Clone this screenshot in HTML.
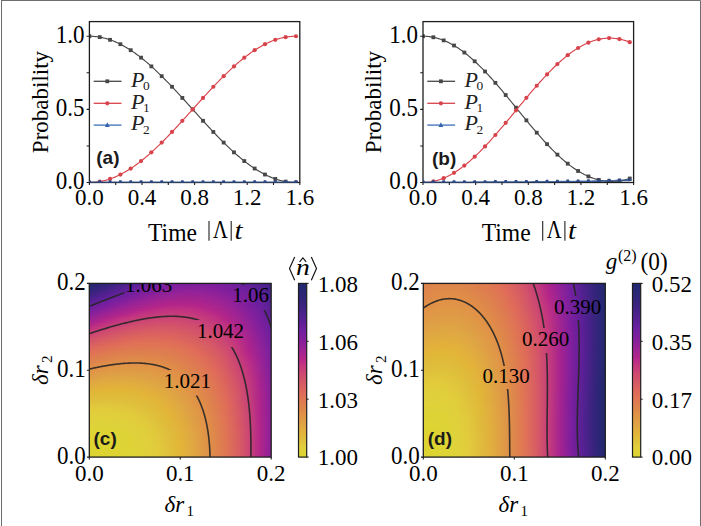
<!DOCTYPE html><html><head><meta charset="utf-8"><style>html,body{margin:0;padding:0;background:#fff;overflow:hidden}svg{display:block}</style></head><body><svg width="701" height="526" viewBox="0 0 701 526">
<style>
.tk{font-family:'Liberation Serif', serif;font-size:23px;fill:#000;}
.lg{font-family:'Liberation Serif', serif;font-size:20px;fill:#222;}
.pl{font-family:'Liberation Sans', sans-serif;font-size:19px;font-weight:bold;fill:#1a1a1a;}
.cl{font-family:'Liberation Serif', serif;font-size:21px;fill:#000;}
</style>
<rect width="701" height="526" fill="#fff"/>
<path d="M2,0.5H700.5V526 M1.5,0V526" stroke="#6e6e6e" stroke-width="1" fill="none"/>
<clipPath id="clip89"><rect x="89.4" y="21.6" width="210.4" height="160.9"/></clipPath>
<clipPath id="clip89b"><rect x="89.4" y="21.6" width="210.4" height="161.70000000000002"/></clipPath>
<g clip-path="url(#clip89)">
<polyline points="89.40,182.50 90.70,182.50 92.00,182.50 93.30,182.50 94.60,182.50 95.90,182.50 97.19,182.50 98.49,182.50 99.79,182.50 101.09,182.50 102.39,182.50 103.69,182.50 104.99,182.50 106.29,182.50 107.59,182.50 108.89,182.50 110.19,182.50 111.49,182.50 112.78,182.50 114.08,182.50 115.38,182.50 116.68,182.50 117.98,182.50 119.28,182.50 120.58,182.50 121.88,182.50 123.18,182.50 124.48,182.50 125.78,182.50 127.07,182.50 128.37,182.50 129.67,182.50 130.97,182.50 132.27,182.50 133.57,182.50 134.87,182.50 136.17,182.50 137.47,182.50 138.77,182.50 140.07,182.50 141.36,182.50 142.66,182.50 143.96,182.50 145.26,182.50 146.56,182.50 147.86,182.50 149.16,182.50 150.46,182.50 151.76,182.50 153.06,182.50 154.36,182.50 155.66,182.50 156.95,182.50 158.25,182.50 159.55,182.50 160.85,182.50 162.15,182.50 163.45,182.50 164.75,182.50 166.05,182.50 167.35,182.50 168.65,182.50 169.95,182.50 171.24,182.50 172.54,182.50 173.84,182.50 175.14,182.50 176.44,182.50 177.74,182.50 179.04,182.50 180.34,182.50 181.64,182.50 182.94,182.50 184.24,182.50 185.53,182.50 186.83,182.50 188.13,182.50 189.43,182.50 190.73,182.50 192.03,182.50 193.33,182.50 194.63,182.50 195.93,182.50 197.23,182.50 198.53,182.50 199.83,182.50 201.12,182.50 202.42,182.50 203.72,182.50 205.02,182.50 206.32,182.50 207.62,182.50 208.92,182.50 210.22,182.50 211.52,182.50 212.82,182.50 214.12,182.50 215.41,182.50 216.71,182.50 218.01,182.50 219.31,182.50 220.61,182.50 221.91,182.50 223.21,182.50 224.51,182.50 225.81,182.50 227.11,182.50 228.41,182.50 229.70,182.50 231.00,182.50 232.30,182.50 233.60,182.50 234.90,182.50 236.20,182.50 237.50,182.50 238.80,182.50 240.10,182.50 241.40,182.50 242.70,182.50 244.00,182.50 245.29,182.50 246.59,182.50 247.89,182.50 249.19,182.50 250.49,182.50 251.79,182.50 253.09,182.50 254.39,182.50 255.69,182.50 256.99,182.50 258.29,182.50 259.58,182.50 260.88,182.50 262.18,182.50 263.48,182.50 264.78,182.50 266.08,182.50 267.38,182.50 268.68,182.50 269.98,182.50 271.28,182.50 272.58,182.50 273.87,182.50 275.17,182.50 276.47,182.50 277.77,182.50 279.07,182.50 280.37,182.50 281.67,182.50 282.97,182.50 284.27,182.50 285.57,182.50 286.87,182.50 288.17,182.50 289.46,182.50 290.76,182.50 292.06,182.50 293.36,182.50 294.66,182.50 295.96,182.50" fill="none" stroke="#3f70b8" stroke-width="1.15"/>
<polyline points="89.40,36.23 90.70,36.24 92.00,36.28 93.30,36.36 94.60,36.46 95.90,36.58 97.19,36.74 98.49,36.93 99.79,37.14 101.09,37.38 102.39,37.65 103.69,37.95 104.99,38.27 106.29,38.63 107.59,39.01 108.89,39.42 110.19,39.85 111.49,40.31 112.78,40.80 114.08,41.32 115.38,41.86 116.68,42.43 117.98,43.03 119.28,43.65 120.58,44.30 121.88,44.97 123.18,45.67 124.48,46.39 125.78,47.14 127.07,47.91 128.37,48.70 129.67,49.52 130.97,50.37 132.27,51.23 133.57,52.12 134.87,53.03 136.17,53.96 137.47,54.92 138.77,55.89 140.07,56.89 141.36,57.90 142.66,58.94 143.96,60.00 145.26,61.07 146.56,62.17 147.86,63.28 149.16,64.41 150.46,65.56 151.76,66.73 153.06,67.91 154.36,69.11 155.66,70.32 156.95,71.55 158.25,72.80 159.55,74.05 160.85,75.33 162.15,76.61 163.45,77.91 164.75,79.22 166.05,80.54 167.35,81.88 168.65,83.22 169.95,84.58 171.24,85.94 172.54,87.31 173.84,88.70 175.14,90.09 176.44,91.48 177.74,92.89 179.04,94.30 180.34,95.72 181.64,97.14 182.94,98.57 184.24,100.00 185.53,101.43 186.83,102.87 188.13,104.31 189.43,105.75 190.73,107.20 192.03,108.64 193.33,110.09 194.63,111.53 195.93,112.97 197.23,114.42 198.53,115.86 199.83,117.30 201.12,118.73 202.42,120.16 203.72,121.59 205.02,123.01 206.32,124.43 207.62,125.84 208.92,127.24 210.22,128.64 211.52,130.03 212.82,131.41 214.12,132.79 215.41,134.15 216.71,135.51 218.01,136.85 219.31,138.18 220.61,139.51 221.91,140.82 223.21,142.12 224.51,143.40 225.81,144.67 227.11,145.93 228.41,147.18 229.70,148.41 231.00,149.62 232.30,150.82 233.60,152.00 234.90,153.17 236.20,154.31 237.50,155.45 238.80,156.56 240.10,157.65 241.40,158.73 242.70,159.79 244.00,160.82 245.29,161.84 246.59,162.84 247.89,163.81 249.19,164.77 250.49,165.70 251.79,166.61 253.09,167.50 254.39,168.36 255.69,169.20 256.99,170.02 258.29,170.82 259.58,171.59 260.88,172.34 262.18,173.06 263.48,173.76 264.78,174.43 266.08,175.08 267.38,175.70 268.68,176.29 269.98,176.86 271.28,177.41 272.58,177.92 273.87,178.41 275.17,178.88 276.47,179.31 277.77,179.72 279.07,180.10 280.37,180.45 281.67,180.78 282.97,181.08 284.27,181.35 285.57,181.59 286.87,181.80 288.17,181.99 289.46,182.14 290.76,182.27 292.06,182.37 293.36,182.44 294.66,182.49 295.96,182.50" fill="none" stroke="#474747" stroke-width="1.15"/>
<rect x="87.50" y="34.33" width="3.8" height="3.8" fill="#474747"/>
<rect x="97.83" y="35.23" width="3.8" height="3.8" fill="#474747"/>
<rect x="108.16" y="37.91" width="3.8" height="3.8" fill="#474747"/>
<rect x="118.48" y="42.30" width="3.8" height="3.8" fill="#474747"/>
<rect x="128.81" y="48.30" width="3.8" height="3.8" fill="#474747"/>
<rect x="139.14" y="55.75" width="3.8" height="3.8" fill="#474747"/>
<rect x="149.47" y="64.48" width="3.8" height="3.8" fill="#474747"/>
<rect x="159.80" y="74.26" width="3.8" height="3.8" fill="#474747"/>
<rect x="170.12" y="84.86" width="3.8" height="3.8" fill="#474747"/>
<rect x="180.45" y="96.02" width="3.8" height="3.8" fill="#474747"/>
<rect x="190.78" y="107.46" width="3.8" height="3.8" fill="#474747"/>
<rect x="201.11" y="118.90" width="3.8" height="3.8" fill="#474747"/>
<rect x="211.44" y="130.06" width="3.8" height="3.8" fill="#474747"/>
<rect x="221.76" y="140.67" width="3.8" height="3.8" fill="#474747"/>
<rect x="232.09" y="150.45" width="3.8" height="3.8" fill="#474747"/>
<rect x="242.42" y="159.18" width="3.8" height="3.8" fill="#474747"/>
<rect x="252.75" y="166.63" width="3.8" height="3.8" fill="#474747"/>
<rect x="263.08" y="172.63" width="3.8" height="3.8" fill="#474747"/>
<rect x="273.40" y="177.02" width="3.8" height="3.8" fill="#474747"/>
<rect x="283.73" y="179.70" width="3.8" height="3.8" fill="#474747"/>
<rect x="294.06" y="180.60" width="3.8" height="3.8" fill="#474747"/>
<polyline points="89.40,182.50 90.70,182.49 92.00,182.44 93.30,182.37 94.60,182.27 95.90,182.14 97.19,181.99 98.49,181.80 99.79,181.59 101.09,181.35 102.39,181.08 103.69,180.78 104.99,180.45 106.29,180.10 107.59,179.72 108.89,179.31 110.19,178.88 111.49,178.41 112.78,177.92 114.08,177.41 115.38,176.86 116.68,176.29 117.98,175.70 119.28,175.08 120.58,174.43 121.88,173.76 123.18,173.06 124.48,172.34 125.78,171.59 127.07,170.82 128.37,170.02 129.67,169.20 130.97,168.36 132.27,167.50 133.57,166.61 134.87,165.70 136.17,164.77 137.47,163.81 138.77,162.84 140.07,161.84 141.36,160.82 142.66,159.79 143.96,158.73 145.26,157.65 146.56,156.56 147.86,155.45 149.16,154.31 150.46,153.17 151.76,152.00 153.06,150.82 154.36,149.62 155.66,148.41 156.95,147.18 158.25,145.93 159.55,144.67 160.85,143.40 162.15,142.12 163.45,140.82 164.75,139.51 166.05,138.18 167.35,136.85 168.65,135.51 169.95,134.15 171.24,132.79 172.54,131.41 173.84,130.03 175.14,128.64 176.44,127.24 177.74,125.84 179.04,124.43 180.34,123.01 181.64,121.59 182.94,120.16 184.24,118.73 185.53,117.30 186.83,115.86 188.13,114.42 189.43,112.97 190.73,111.53 192.03,110.09 193.33,108.64 194.63,107.20 195.93,105.75 197.23,104.31 198.53,102.87 199.83,101.43 201.12,100.00 202.42,98.57 203.72,97.14 205.02,95.72 206.32,94.30 207.62,92.89 208.92,91.48 210.22,90.09 211.52,88.70 212.82,87.31 214.12,85.94 215.41,84.58 216.71,83.22 218.01,81.88 219.31,80.54 220.61,79.22 221.91,77.91 223.21,76.61 224.51,75.33 225.81,74.05 227.11,72.80 228.41,71.55 229.70,70.32 231.00,69.11 232.30,67.91 233.60,66.73 234.90,65.56 236.20,64.41 237.50,63.28 238.80,62.17 240.10,61.07 241.40,60.00 242.70,58.94 244.00,57.90 245.29,56.89 246.59,55.89 247.89,54.92 249.19,53.96 250.49,53.03 251.79,52.12 253.09,51.23 254.39,50.37 255.69,49.52 256.99,48.70 258.29,47.91 259.58,47.14 260.88,46.39 262.18,45.67 263.48,44.97 264.78,44.30 266.08,43.65 267.38,43.03 268.68,42.43 269.98,41.86 271.28,41.32 272.58,40.80 273.87,40.31 275.17,39.85 276.47,39.42 277.77,39.01 279.07,38.63 280.37,38.27 281.67,37.95 282.97,37.65 284.27,37.38 285.57,37.14 286.87,36.93 288.17,36.74 289.46,36.58 290.76,36.46 292.06,36.36 293.36,36.28 294.66,36.24 295.96,36.23" fill="none" stroke="#d8434b" stroke-width="1.15"/>
<circle cx="89.40" cy="182.50" r="2.1" fill="#d8434b"/>
<circle cx="99.73" cy="181.60" r="2.1" fill="#d8434b"/>
<circle cx="110.06" cy="178.92" r="2.1" fill="#d8434b"/>
<circle cx="120.38" cy="174.53" r="2.1" fill="#d8434b"/>
<circle cx="130.71" cy="168.53" r="2.1" fill="#d8434b"/>
<circle cx="141.04" cy="161.08" r="2.1" fill="#d8434b"/>
<circle cx="151.37" cy="152.35" r="2.1" fill="#d8434b"/>
<circle cx="161.70" cy="142.57" r="2.1" fill="#d8434b"/>
<circle cx="172.02" cy="131.96" r="2.1" fill="#d8434b"/>
<circle cx="182.35" cy="120.80" r="2.1" fill="#d8434b"/>
<circle cx="192.68" cy="109.36" r="2.1" fill="#d8434b"/>
<circle cx="203.01" cy="97.92" r="2.1" fill="#d8434b"/>
<circle cx="213.34" cy="86.76" r="2.1" fill="#d8434b"/>
<circle cx="223.66" cy="76.16" r="2.1" fill="#d8434b"/>
<circle cx="233.99" cy="66.38" r="2.1" fill="#d8434b"/>
<circle cx="244.32" cy="57.65" r="2.1" fill="#d8434b"/>
<circle cx="254.65" cy="50.20" r="2.1" fill="#d8434b"/>
<circle cx="264.98" cy="44.20" r="2.1" fill="#d8434b"/>
<circle cx="275.30" cy="39.81" r="2.1" fill="#d8434b"/>
<circle cx="285.63" cy="37.13" r="2.1" fill="#d8434b"/>
<circle cx="295.96" cy="36.23" r="2.1" fill="#d8434b"/>
</g>
<rect x="89.4" y="21.6" width="210.4" height="160.9" fill="none" stroke="#1e1e1e" stroke-width="1.3"/>
<g clip-path="url(#clip89b)"><polyline points="89.40,182.10 90.70,182.10 92.00,182.10 93.30,182.10 94.60,182.10 95.90,182.10 97.19,182.10 98.49,182.10 99.79,182.10 101.09,182.10 102.39,182.10 103.69,182.10 104.99,182.10 106.29,182.10 107.59,182.10 108.89,182.10 110.19,182.10 111.49,182.10 112.78,182.10 114.08,182.10 115.38,182.10 116.68,182.10 117.98,182.10 119.28,182.10 120.58,182.10 121.88,182.10 123.18,182.10 124.48,182.10 125.78,182.10 127.07,182.10 128.37,182.10 129.67,182.10 130.97,182.10 132.27,182.10 133.57,182.10 134.87,182.10 136.17,182.10 137.47,182.10 138.77,182.10 140.07,182.10 141.36,182.10 142.66,182.10 143.96,182.10 145.26,182.10 146.56,182.10 147.86,182.10 149.16,182.10 150.46,182.10 151.76,182.10 153.06,182.10 154.36,182.10 155.66,182.10 156.95,182.10 158.25,182.10 159.55,182.10 160.85,182.10 162.15,182.10 163.45,182.10 164.75,182.10 166.05,182.10 167.35,182.10 168.65,182.10 169.95,182.10 171.24,182.10 172.54,182.10 173.84,182.10 175.14,182.10 176.44,182.10 177.74,182.10 179.04,182.10 180.34,182.10 181.64,182.10 182.94,182.10 184.24,182.10 185.53,182.10 186.83,182.10 188.13,182.10 189.43,182.10 190.73,182.10 192.03,182.10 193.33,182.10 194.63,182.10 195.93,182.10 197.23,182.10 198.53,182.10 199.83,182.10 201.12,182.10 202.42,182.10 203.72,182.10 205.02,182.10 206.32,182.10 207.62,182.10 208.92,182.10 210.22,182.10 211.52,182.10 212.82,182.10 214.12,182.10 215.41,182.10 216.71,182.10 218.01,182.10 219.31,182.10 220.61,182.10 221.91,182.10 223.21,182.10 224.51,182.10 225.81,182.10 227.11,182.10 228.41,182.10 229.70,182.10 231.00,182.10 232.30,182.10 233.60,182.10 234.90,182.10 236.20,182.10 237.50,182.10 238.80,182.10 240.10,182.10 241.40,182.10 242.70,182.10 244.00,182.10 245.29,182.10 246.59,182.10 247.89,182.10 249.19,182.10 250.49,182.10 251.79,182.10 253.09,182.10 254.39,182.10 255.69,182.10 256.99,182.10 258.29,182.10 259.58,182.10 260.88,182.10 262.18,182.10 263.48,182.10 264.78,182.10 266.08,182.10 267.38,182.10 268.68,182.10 269.98,182.10 271.28,182.10 272.58,182.10 273.87,182.10 275.17,182.10 276.47,182.10 277.77,182.10 279.07,182.10 280.37,182.10 281.67,182.10 282.97,182.10 284.27,182.10 285.57,182.10 286.87,182.10 288.17,182.10 289.46,182.10 290.76,182.10 292.06,182.10 293.36,182.10 294.66,182.10 295.96,182.10" fill="none" stroke="#34589c" stroke-opacity="0.75" stroke-width="1.4"/>
<path d="M87.50,182.80L91.30,182.80L90.60,180.20L88.20,180.20Z" fill="#2e4a86"/>
<path d="M97.83,182.80L101.63,182.80L100.93,180.20L98.53,180.20Z" fill="#2e4a86"/>
<path d="M108.16,182.80L111.96,182.80L111.26,180.20L108.86,180.20Z" fill="#2e4a86"/>
<path d="M118.48,182.80L122.28,182.80L121.58,180.20L119.18,180.20Z" fill="#2e4a86"/>
<path d="M128.81,182.80L132.61,182.80L131.91,180.20L129.51,180.20Z" fill="#2e4a86"/>
<path d="M139.14,182.80L142.94,182.80L142.24,180.20L139.84,180.20Z" fill="#2e4a86"/>
<path d="M149.47,182.80L153.27,182.80L152.57,180.20L150.17,180.20Z" fill="#2e4a86"/>
<path d="M159.80,182.80L163.60,182.80L162.90,180.20L160.50,180.20Z" fill="#2e4a86"/>
<path d="M170.12,182.80L173.92,182.80L173.22,180.20L170.82,180.20Z" fill="#2e4a86"/>
<path d="M180.45,182.80L184.25,182.80L183.55,180.20L181.15,180.20Z" fill="#2e4a86"/>
<path d="M190.78,182.80L194.58,182.80L193.88,180.20L191.48,180.20Z" fill="#2e4a86"/>
<path d="M201.11,182.80L204.91,182.80L204.21,180.20L201.81,180.20Z" fill="#2e4a86"/>
<path d="M211.44,182.80L215.24,182.80L214.54,180.20L212.14,180.20Z" fill="#2e4a86"/>
<path d="M221.76,182.80L225.56,182.80L224.86,180.20L222.46,180.20Z" fill="#2e4a86"/>
<path d="M232.09,182.80L235.89,182.80L235.19,180.20L232.79,180.20Z" fill="#2e4a86"/>
<path d="M242.42,182.80L246.22,182.80L245.52,180.20L243.12,180.20Z" fill="#2e4a86"/>
<path d="M252.75,182.80L256.55,182.80L255.85,180.20L253.45,180.20Z" fill="#2e4a86"/>
<path d="M263.08,182.80L266.88,182.80L266.18,180.20L263.78,180.20Z" fill="#2e4a86"/>
<path d="M273.40,182.80L277.20,182.80L276.50,180.20L274.10,180.20Z" fill="#2e4a86"/>
<path d="M283.73,182.80L287.53,182.80L286.83,180.20L284.43,180.20Z" fill="#2e4a86"/>
<path d="M294.06,182.80L297.86,182.80L297.16,180.20L294.76,180.20Z" fill="#2e4a86"/>
</g>
<path d="M89.40,182.50v2.6 M115.70,182.50v2.6 M142.00,182.50v2.6 M168.30,182.50v2.6 M194.60,182.50v2.6 M220.90,182.50v2.6 M247.20,182.50v2.6 M273.50,182.50v2.6 M299.80,182.50v2.6 M89.40,182.50h-2.8 M89.40,145.93h-2.8 M89.40,109.36h-2.8 M89.40,72.80h-2.8 M89.40,36.23h-2.8" stroke="#1e1e1e" stroke-width="1.1" fill="none"/>
<text transform="translate(89.40,205.00) scale(1,1.03)" text-anchor="middle" class="tk">0.0</text>
<text transform="translate(142.00,205.00) scale(1,1.03)" text-anchor="middle" class="tk">0.4</text>
<text transform="translate(194.60,205.00) scale(1,1.03)" text-anchor="middle" class="tk">0.8</text>
<text transform="translate(247.20,205.00) scale(1,1.03)" text-anchor="middle" class="tk">1.2</text>
<text transform="translate(299.80,205.00) scale(1,1.03)" text-anchor="middle" class="tk">1.6</text>
<text transform="translate(84.40,189.20) scale(1,1.05)" text-anchor="end" class="tk">0.0</text>
<text transform="translate(84.40,116.06) scale(1,1.05)" text-anchor="end" class="tk">0.5</text>
<text transform="translate(84.40,42.93) scale(1,1.05)" text-anchor="end" class="tk">1.0</text>
<text transform="translate(148.00,240.60) scale(1,1.05)" class="tk" style="font-size:23.6px">Time</text>
<path d="M209.00,221V240.7M231.20,221V240.7" stroke="#222" stroke-width="1.1"/>
<text transform="translate(213.10,238.3) scale(0.85,1.04)" class="tk" style="font-size:24px">Λ</text>
<text transform="translate(234.40,238.6) scale(1.25,1.08)" class="tk" style="font-style:italic">t</text>
<text transform="translate(47.80,102.05) rotate(-90)" text-anchor="middle" class="tk">Probability</text>
<line x1="93.70" y1="81.3" x2="121.50" y2="81.3" stroke="#474747" stroke-width="1.3"/>
<rect x="105.40" y="79.40" width="3.8" height="3.8" fill="#474747"/>
<text transform="translate(131.00,86.60) scale(1.1,1.03)" class="lg"><tspan font-style="italic">P</tspan><tspan font-size="12.2" dx="-1.3" dy="3.1">0</tspan></text>
<line x1="93.70" y1="103.3" x2="121.50" y2="103.3" stroke="#d8434b" stroke-width="1.3"/>
<circle cx="107.30" cy="103.30" r="2.1" fill="#d8434b"/>
<text transform="translate(131.00,108.60) scale(1.1,1.03)" class="lg"><tspan font-style="italic">P</tspan><tspan font-size="12.2" dx="-1.3" dy="3.1">1</tspan></text>
<line x1="93.70" y1="125.1" x2="121.50" y2="125.1" stroke="#3f70b8" stroke-width="1.3"/>
<path d="M104.90,127.00L109.70,127.00L107.30,122.20Z" fill="#3563ad"/>
<text transform="translate(131.00,130.40) scale(1.1,1.03)" class="lg"><tspan font-style="italic">P</tspan><tspan font-size="12.2" dx="-1.3" dy="3.1">2</tspan></text>
<text x="96.3" y="163.9" class="pl">(a)</text>
<clipPath id="clip423"><rect x="423.0" y="21.6" width="210.60000000000002" height="160.9"/></clipPath>
<clipPath id="clip423b"><rect x="423.0" y="21.6" width="210.60000000000002" height="161.70000000000002"/></clipPath>
<g clip-path="url(#clip423)">
<polyline points="423.00,182.50 424.30,182.50 425.60,182.50 426.90,182.50 428.20,182.50 429.50,182.50 430.80,182.50 432.10,182.50 433.40,182.50 434.70,182.50 436.00,182.50 437.30,182.50 438.60,182.50 439.90,182.50 441.20,182.50 442.51,182.50 443.81,182.50 445.11,182.50 446.41,182.50 447.71,182.50 449.01,182.50 450.31,182.50 451.61,182.49 452.91,182.49 454.21,182.49 455.51,182.49 456.81,182.49 458.11,182.49 459.41,182.49 460.71,182.49 462.01,182.49 463.31,182.49 464.61,182.48 465.91,182.48 467.21,182.48 468.51,182.48 469.81,182.48 471.11,182.48 472.41,182.47 473.71,182.47 475.01,182.47 476.31,182.47 477.61,182.46 478.92,182.46 480.22,182.46 481.52,182.46 482.82,182.45 484.12,182.45 485.42,182.45 486.72,182.44 488.02,182.44 489.32,182.44 490.62,182.43 491.92,182.43 493.22,182.43 494.52,182.42 495.82,182.42 497.12,182.41 498.42,182.41 499.72,182.40 501.02,182.40 502.32,182.39 503.62,182.39 504.92,182.38 506.22,182.38 507.52,182.37 508.82,182.36 510.12,182.36 511.42,182.35 512.72,182.34 514.02,182.34 515.33,182.33 516.63,182.32 517.93,182.32 519.23,182.31 520.53,182.30 521.83,182.29 523.13,182.28 524.43,182.28 525.73,182.27 527.03,182.26 528.33,182.25 529.63,182.24 530.93,182.23 532.23,182.22 533.53,182.21 534.83,182.20 536.13,182.19 537.43,182.18 538.73,182.17 540.03,182.16 541.33,182.14 542.63,182.13 543.93,182.12 545.23,182.11 546.53,182.09 547.83,182.08 549.13,182.07 550.43,182.05 551.73,182.04 553.04,182.03 554.34,182.01 555.64,182.00 556.94,181.98 558.24,181.97 559.54,181.95 560.84,181.94 562.14,181.92 563.44,181.90 564.74,181.89 566.04,181.87 567.34,181.85 568.64,181.84 569.94,181.82 571.24,181.80 572.54,181.78 573.84,181.76 575.14,181.74 576.44,181.72 577.74,181.70 579.04,181.68 580.34,181.66 581.64,181.64 582.94,181.62 584.24,181.60 585.54,181.58 586.84,181.55 588.14,181.53 589.45,181.51 590.75,181.48 592.05,181.46 593.35,181.44 594.65,181.41 595.95,181.39 597.25,181.36 598.55,181.34 599.85,181.31 601.15,181.28 602.45,181.26 603.75,181.23 605.05,181.20 606.35,181.17 607.65,181.15 608.95,181.12 610.25,181.09 611.55,181.06 612.85,181.03 614.15,181.00 615.45,180.97 616.75,180.94 618.05,180.90 619.35,180.87 620.65,180.84 621.95,180.81 623.25,180.77 624.55,180.74 625.86,180.70 627.16,180.67 628.46,180.63 629.76,180.60" fill="none" stroke="#3f70b8" stroke-width="1.15"/>
<polyline points="423.00,36.23 424.30,36.24 425.60,36.29 426.90,36.37 428.20,36.49 429.50,36.64 430.80,36.82 432.10,37.03 433.40,37.28 434.70,37.56 436.00,37.87 437.30,38.21 438.60,38.59 439.90,39.00 441.20,39.45 442.51,39.92 443.81,40.43 445.11,40.97 446.41,41.54 447.71,42.14 449.01,42.78 450.31,43.44 451.61,44.14 452.91,44.86 454.21,45.62 455.51,46.41 456.81,47.23 458.11,48.07 459.41,48.95 460.71,49.85 462.01,50.79 463.31,51.75 464.61,52.73 465.91,53.75 467.21,54.79 468.51,55.86 469.81,56.95 471.11,58.07 472.41,59.22 473.71,60.38 475.01,61.58 476.31,62.79 477.61,64.03 478.92,65.29 480.22,66.57 481.52,67.87 482.82,69.19 484.12,70.53 485.42,71.89 486.72,73.27 488.02,74.67 489.32,76.08 490.62,77.51 491.92,78.95 493.22,80.41 494.52,81.89 495.82,83.37 497.12,84.88 498.42,86.39 499.72,87.91 501.02,89.44 502.32,90.99 503.62,92.54 504.92,94.10 506.22,95.67 507.52,97.25 508.82,98.83 510.12,100.41 511.42,102.00 512.72,103.60 514.02,105.19 515.33,106.79 516.63,108.39 517.93,109.99 519.23,111.59 520.53,113.19 521.83,114.79 523.13,116.38 524.43,117.97 525.73,119.55 527.03,121.13 528.33,122.70 529.63,124.27 530.93,125.83 532.23,127.38 533.53,128.92 534.83,130.45 536.13,131.97 537.43,133.48 538.73,134.98 540.03,136.46 541.33,137.93 542.63,139.38 543.93,140.82 545.23,142.24 546.53,143.65 547.83,145.04 549.13,146.41 550.43,147.76 551.73,149.10 553.04,150.41 554.34,151.70 555.64,152.97 556.94,154.22 558.24,155.45 559.54,156.65 560.84,157.83 562.14,158.98 563.44,160.11 564.74,161.22 566.04,162.30 567.34,163.35 568.64,164.38 569.94,165.38 571.24,166.35 572.54,167.29 573.84,168.20 575.14,169.09 576.44,169.95 577.74,170.77 579.04,171.57 580.34,172.34 581.64,173.08 582.94,173.78 584.24,174.46 585.54,175.10 586.84,175.72 588.14,176.30 589.45,176.85 590.75,177.37 592.05,177.85 593.35,178.31 594.65,178.73 595.95,179.12 597.25,179.48 598.55,179.81 599.85,180.10 601.15,180.37 602.45,180.60 603.75,180.80 605.05,180.97 606.35,181.11 607.65,181.21 608.95,181.29 610.25,181.33 611.55,181.34 612.85,181.33 614.15,181.28 615.45,181.20 616.75,181.10 618.05,180.96 619.35,180.80 620.65,180.61 621.95,180.39 623.25,180.14 624.55,179.87 625.86,179.56 627.16,179.24 628.46,178.89 629.76,178.51" fill="none" stroke="#474747" stroke-width="1.15"/>
<rect x="421.10" y="34.33" width="3.8" height="3.8" fill="#474747"/>
<rect x="431.44" y="35.37" width="3.8" height="3.8" fill="#474747"/>
<rect x="441.78" y="38.48" width="3.8" height="3.8" fill="#474747"/>
<rect x="452.11" y="43.61" width="3.8" height="3.8" fill="#474747"/>
<rect x="462.45" y="50.63" width="3.8" height="3.8" fill="#474747"/>
<rect x="472.79" y="59.38" width="3.8" height="3.8" fill="#474747"/>
<rect x="483.13" y="69.58" width="3.8" height="3.8" fill="#474747"/>
<rect x="493.46" y="80.95" width="3.8" height="3.8" fill="#474747"/>
<rect x="503.80" y="93.14" width="3.8" height="3.8" fill="#474747"/>
<rect x="514.14" y="105.77" width="3.8" height="3.8" fill="#474747"/>
<rect x="524.48" y="118.44" width="3.8" height="3.8" fill="#474747"/>
<rect x="534.82" y="130.75" width="3.8" height="3.8" fill="#474747"/>
<rect x="545.15" y="142.31" width="3.8" height="3.8" fill="#474747"/>
<rect x="555.49" y="152.75" width="3.8" height="3.8" fill="#474747"/>
<rect x="565.83" y="161.76" width="3.8" height="3.8" fill="#474747"/>
<rect x="576.17" y="169.08" width="3.8" height="3.8" fill="#474747"/>
<rect x="586.50" y="174.51" width="3.8" height="3.8" fill="#474747"/>
<rect x="596.84" y="177.96" width="3.8" height="3.8" fill="#474747"/>
<rect x="607.18" y="179.39" width="3.8" height="3.8" fill="#474747"/>
<rect x="617.52" y="178.89" width="3.8" height="3.8" fill="#474747"/>
<rect x="627.86" y="176.61" width="3.8" height="3.8" fill="#474747"/>
<polyline points="423.00,182.50 424.30,182.48 425.60,182.43 426.90,182.34 428.20,182.22 429.50,182.06 430.80,181.87 432.10,181.65 433.40,181.39 434.70,181.09 436.00,180.76 437.30,180.40 438.60,180.00 439.90,179.57 441.20,179.11 442.51,178.61 443.81,178.08 445.11,177.52 446.41,176.93 447.71,176.30 449.01,175.64 450.31,174.95 451.61,174.23 452.91,173.48 454.21,172.69 455.51,171.88 456.81,171.04 458.11,170.17 459.41,169.27 460.71,168.34 462.01,167.38 463.31,166.40 464.61,165.39 465.91,164.35 467.21,163.29 468.51,162.20 469.81,161.08 471.11,159.94 472.41,158.78 473.71,157.60 475.01,156.39 476.31,155.16 477.61,153.91 478.92,152.63 480.22,151.34 481.52,150.03 482.82,148.70 484.12,147.35 485.42,145.98 486.72,144.59 488.02,143.19 489.32,141.78 490.62,140.34 491.92,138.90 493.22,137.44 494.52,135.97 495.82,134.48 497.12,132.98 498.42,131.48 499.72,129.96 501.02,128.43 502.32,126.90 503.62,125.35 504.92,123.80 506.22,122.25 507.52,120.68 508.82,119.12 510.12,117.54 511.42,115.97 512.72,114.39 514.02,112.81 515.33,111.23 516.63,109.65 517.93,108.07 519.23,106.49 520.53,104.92 521.83,103.34 523.13,101.77 524.43,100.20 525.73,98.64 527.03,97.09 528.33,95.54 529.63,93.99 530.93,92.46 532.23,90.93 533.53,89.42 534.83,87.91 536.13,86.42 537.43,84.93 538.73,83.46 540.03,82.00 541.33,80.56 542.63,79.13 543.93,77.71 545.23,76.31 546.53,74.93 547.83,73.56 549.13,72.21 550.43,70.88 551.73,69.57 553.04,68.28 554.34,67.01 555.64,65.76 556.94,64.53 558.24,63.32 559.54,62.13 560.84,60.97 562.14,59.83 563.44,58.72 564.74,57.63 566.04,56.56 567.34,55.52 568.64,54.51 569.94,53.53 571.24,52.57 572.54,51.64 573.84,50.73 575.14,49.86 576.44,49.01 577.74,48.19 579.04,47.41 580.34,46.65 581.64,45.92 582.94,45.23 584.24,44.56 585.54,43.93 586.84,43.33 588.14,42.75 589.45,42.22 590.75,41.71 592.05,41.24 593.35,40.80 594.65,40.39 595.95,40.01 597.25,39.67 598.55,39.36 599.85,39.09 601.15,38.85 602.45,38.64 603.75,38.47 605.05,38.33 606.35,38.23 607.65,38.16 608.95,38.12 610.25,38.12 611.55,38.15 612.85,38.22 614.15,38.32 615.45,38.45 616.75,38.62 618.05,38.82 619.35,39.05 620.65,39.32 621.95,39.62 623.25,39.96 624.55,40.33 625.86,40.73 627.16,41.16 628.46,41.63 629.76,42.13" fill="none" stroke="#d8434b" stroke-width="1.15"/>
<circle cx="423.00" cy="182.50" r="2.1" fill="#d8434b"/>
<circle cx="433.34" cy="181.40" r="2.1" fill="#d8434b"/>
<circle cx="443.68" cy="178.14" r="2.1" fill="#d8434b"/>
<circle cx="454.01" cy="172.81" r="2.1" fill="#d8434b"/>
<circle cx="464.35" cy="165.59" r="2.1" fill="#d8434b"/>
<circle cx="474.69" cy="156.69" r="2.1" fill="#d8434b"/>
<circle cx="485.03" cy="146.39" r="2.1" fill="#d8434b"/>
<circle cx="495.36" cy="135.00" r="2.1" fill="#d8434b"/>
<circle cx="505.70" cy="122.87" r="2.1" fill="#d8434b"/>
<circle cx="516.04" cy="110.36" r="2.1" fill="#d8434b"/>
<circle cx="526.38" cy="97.86" r="2.1" fill="#d8434b"/>
<circle cx="536.72" cy="85.75" r="2.1" fill="#d8434b"/>
<circle cx="547.05" cy="74.38" r="2.1" fill="#d8434b"/>
<circle cx="557.39" cy="64.10" r="2.1" fill="#d8434b"/>
<circle cx="567.73" cy="55.22" r="2.1" fill="#d8434b"/>
<circle cx="578.07" cy="47.99" r="2.1" fill="#d8434b"/>
<circle cx="588.40" cy="42.64" r="2.1" fill="#d8434b"/>
<circle cx="598.74" cy="39.32" r="2.1" fill="#d8434b"/>
<circle cx="609.08" cy="38.12" r="2.1" fill="#d8434b"/>
<circle cx="619.42" cy="39.07" r="2.1" fill="#d8434b"/>
<circle cx="629.76" cy="42.13" r="2.1" fill="#d8434b"/>
</g>
<rect x="423.0" y="21.6" width="210.60000000000002" height="160.9" fill="none" stroke="#1e1e1e" stroke-width="1.3"/>
<g clip-path="url(#clip423b)"><polyline points="423.00,182.10 424.30,182.10 425.60,182.10 426.90,182.10 428.20,182.10 429.50,182.10 430.80,182.10 432.10,182.10 433.40,182.10 434.70,182.10 436.00,182.10 437.30,182.10 438.60,182.10 439.90,182.10 441.20,182.10 442.51,182.10 443.81,182.10 445.11,182.10 446.41,182.10 447.71,182.10 449.01,182.10 450.31,182.10 451.61,182.09 452.91,182.09 454.21,182.09 455.51,182.09 456.81,182.09 458.11,182.09 459.41,182.09 460.71,182.09 462.01,182.09 463.31,182.09 464.61,182.08 465.91,182.08 467.21,182.08 468.51,182.08 469.81,182.08 471.11,182.08 472.41,182.07 473.71,182.07 475.01,182.07 476.31,182.07 477.61,182.06 478.92,182.06 480.22,182.06 481.52,182.06 482.82,182.05 484.12,182.05 485.42,182.05 486.72,182.04 488.02,182.04 489.32,182.04 490.62,182.03 491.92,182.03 493.22,182.03 494.52,182.02 495.82,182.02 497.12,182.01 498.42,182.01 499.72,182.00 501.02,182.00 502.32,181.99 503.62,181.99 504.92,181.98 506.22,181.98 507.52,181.97 508.82,181.96 510.12,181.96 511.42,181.95 512.72,181.94 514.02,181.94 515.33,181.93 516.63,181.92 517.93,181.92 519.23,181.91 520.53,181.90 521.83,181.89 523.13,181.88 524.43,181.88 525.73,181.87 527.03,181.86 528.33,181.85 529.63,181.84 530.93,181.83 532.23,181.82 533.53,181.81 534.83,181.80 536.13,181.79 537.43,181.78 538.73,181.77 540.03,181.76 541.33,181.74 542.63,181.73 543.93,181.72 545.23,181.71 546.53,181.69 547.83,181.68 549.13,181.67 550.43,181.65 551.73,181.64 553.04,181.63 554.34,181.61 555.64,181.60 556.94,181.58 558.24,181.57 559.54,181.55 560.84,181.54 562.14,181.52 563.44,181.50 564.74,181.49 566.04,181.47 567.34,181.45 568.64,181.44 569.94,181.42 571.24,181.40 572.54,181.38 573.84,181.36 575.14,181.34 576.44,181.32 577.74,181.30 579.04,181.28 580.34,181.26 581.64,181.24 582.94,181.22 584.24,181.20 585.54,181.18 586.84,181.15 588.14,181.13 589.45,181.11 590.75,181.08 592.05,181.06 593.35,181.04 594.65,181.01 595.95,180.99 597.25,180.96 598.55,180.94 599.85,180.91 601.15,180.88 602.45,180.86 603.75,180.83 605.05,180.80 606.35,180.77 607.65,180.75 608.95,180.72 610.25,180.69 611.55,180.66 612.85,180.63 614.15,180.60 615.45,180.57 616.75,180.54 618.05,180.50 619.35,180.47 620.65,180.44 621.95,180.41 623.25,180.37 624.55,180.34 625.86,180.30 627.16,180.27 628.46,180.23 629.76,180.20" fill="none" stroke="#34589c" stroke-opacity="0.75" stroke-width="1.4"/>
<path d="M421.10,182.80L424.90,182.80L424.20,180.20L421.80,180.20Z" fill="#2e4a86"/>
<path d="M431.44,182.80L435.24,182.80L434.54,180.20L432.14,180.20Z" fill="#2e4a86"/>
<path d="M441.78,182.80L445.58,182.80L444.88,180.20L442.48,180.20Z" fill="#2e4a86"/>
<path d="M452.11,182.79L455.91,182.79L455.21,180.19L452.81,180.19Z" fill="#2e4a86"/>
<path d="M462.45,182.78L466.25,182.78L465.55,180.18L463.15,180.18Z" fill="#2e4a86"/>
<path d="M472.79,182.77L476.59,182.77L475.89,180.17L473.49,180.17Z" fill="#2e4a86"/>
<path d="M483.13,182.75L486.93,182.75L486.23,180.15L483.83,180.15Z" fill="#2e4a86"/>
<path d="M493.46,182.72L497.26,182.72L496.56,180.12L494.16,180.12Z" fill="#2e4a86"/>
<path d="M503.80,182.68L507.60,182.68L506.90,180.08L504.50,180.08Z" fill="#2e4a86"/>
<path d="M514.14,182.63L517.94,182.63L517.24,180.03L514.84,180.03Z" fill="#2e4a86"/>
<path d="M524.48,182.56L528.28,182.56L527.58,179.96L525.18,179.96Z" fill="#2e4a86"/>
<path d="M534.82,182.48L538.62,182.48L537.92,179.88L535.52,179.88Z" fill="#2e4a86"/>
<path d="M545.15,182.39L548.95,182.39L548.25,179.79L545.85,179.79Z" fill="#2e4a86"/>
<path d="M555.49,182.28L559.29,182.28L558.59,179.68L556.19,179.68Z" fill="#2e4a86"/>
<path d="M565.83,182.15L569.63,182.15L568.93,179.55L566.53,179.55Z" fill="#2e4a86"/>
<path d="M576.17,182.00L579.97,182.00L579.27,179.40L576.87,179.40Z" fill="#2e4a86"/>
<path d="M586.50,181.83L590.30,181.83L589.60,179.23L587.20,179.23Z" fill="#2e4a86"/>
<path d="M596.84,181.63L600.64,181.63L599.94,179.03L597.54,179.03Z" fill="#2e4a86"/>
<path d="M607.18,181.41L610.98,181.41L610.28,178.81L607.88,178.81Z" fill="#2e4a86"/>
<path d="M617.52,181.17L621.32,181.17L620.62,178.57L618.22,178.57Z" fill="#2e4a86"/>
<path d="M627.86,180.90L631.66,180.90L630.96,178.30L628.56,178.30Z" fill="#2e4a86"/>
</g>
<path d="M423.00,182.50v2.6 M449.32,182.50v2.6 M475.65,182.50v2.6 M501.98,182.50v2.6 M528.30,182.50v2.6 M554.62,182.50v2.6 M580.95,182.50v2.6 M607.28,182.50v2.6 M633.60,182.50v2.6 M423.00,182.50h-2.8 M423.00,145.93h-2.8 M423.00,109.36h-2.8 M423.00,72.80h-2.8 M423.00,36.23h-2.8" stroke="#1e1e1e" stroke-width="1.1" fill="none"/>
<text transform="translate(423.00,205.00) scale(1,1.03)" text-anchor="middle" class="tk">0.0</text>
<text transform="translate(475.65,205.00) scale(1,1.03)" text-anchor="middle" class="tk">0.4</text>
<text transform="translate(528.30,205.00) scale(1,1.03)" text-anchor="middle" class="tk">0.8</text>
<text transform="translate(580.95,205.00) scale(1,1.03)" text-anchor="middle" class="tk">1.2</text>
<text transform="translate(633.60,205.00) scale(1,1.03)" text-anchor="middle" class="tk">1.6</text>
<text transform="translate(418.00,189.20) scale(1,1.05)" text-anchor="end" class="tk">0.0</text>
<text transform="translate(418.00,116.06) scale(1,1.05)" text-anchor="end" class="tk">0.5</text>
<text transform="translate(418.00,42.93) scale(1,1.05)" text-anchor="end" class="tk">1.0</text>
<text transform="translate(481.70,240.60) scale(1,1.05)" class="tk" style="font-size:23.6px">Time</text>
<path d="M542.70,221V240.7M564.90,221V240.7" stroke="#222" stroke-width="1.1"/>
<text transform="translate(546.80,238.3) scale(0.85,1.04)" class="tk" style="font-size:24px">Λ</text>
<text transform="translate(568.10,238.6) scale(1.25,1.08)" class="tk" style="font-style:italic">t</text>
<text transform="translate(381.40,102.05) rotate(-90)" text-anchor="middle" class="tk">Probability</text>
<line x1="427.30" y1="81.3" x2="455.10" y2="81.3" stroke="#474747" stroke-width="1.3"/>
<rect x="439.00" y="79.40" width="3.8" height="3.8" fill="#474747"/>
<text transform="translate(464.60,86.60) scale(1.1,1.03)" class="lg"><tspan font-style="italic">P</tspan><tspan font-size="12.2" dx="-1.3" dy="3.1">0</tspan></text>
<line x1="427.30" y1="103.3" x2="455.10" y2="103.3" stroke="#d8434b" stroke-width="1.3"/>
<circle cx="440.90" cy="103.30" r="2.1" fill="#d8434b"/>
<text transform="translate(464.60,108.60) scale(1.1,1.03)" class="lg"><tspan font-style="italic">P</tspan><tspan font-size="12.2" dx="-1.3" dy="3.1">1</tspan></text>
<line x1="427.30" y1="125.1" x2="455.10" y2="125.1" stroke="#3f70b8" stroke-width="1.3"/>
<path d="M438.50,127.00L443.30,127.00L440.90,122.20Z" fill="#3563ad"/>
<text transform="translate(464.60,130.40) scale(1.1,1.03)" class="lg"><tspan font-style="italic">P</tspan><tspan font-size="12.2" dx="-1.3" dy="3.1">2</tspan></text>
<text x="432.0" y="164.5" class="pl">(b)</text>
<defs><linearGradient id="hc0"><stop offset="0.000" stop-color="#21286f"/><stop offset="0.062" stop-color="#2d2677"/><stop offset="0.125" stop-color="#39247e"/><stop offset="0.188" stop-color="#472289"/><stop offset="0.250" stop-color="#562193"/><stop offset="0.312" stop-color="#64209b"/><stop offset="0.375" stop-color="#6f1f9f"/><stop offset="0.438" stop-color="#771f9f"/><stop offset="0.500" stop-color="#7c1f9e"/><stop offset="0.562" stop-color="#7f1e9d"/><stop offset="0.625" stop-color="#7f1e9d"/><stop offset="0.688" stop-color="#7c1f9e"/><stop offset="0.750" stop-color="#76209f"/><stop offset="0.812" stop-color="#6e209f"/><stop offset="0.875" stop-color="#601f99"/><stop offset="0.938" stop-color="#522190"/><stop offset="1.000" stop-color="#412284"/></linearGradient><linearGradient id="hc1"><stop offset="0.000" stop-color="#252773"/><stop offset="0.062" stop-color="#32247a"/><stop offset="0.125" stop-color="#3f2282"/><stop offset="0.188" stop-color="#4e228e"/><stop offset="0.250" stop-color="#5d1f97"/><stop offset="0.312" stop-color="#6b209e"/><stop offset="0.375" stop-color="#75209f"/><stop offset="0.438" stop-color="#7c1f9e"/><stop offset="0.500" stop-color="#811f9d"/><stop offset="0.562" stop-color="#831f9c"/><stop offset="0.625" stop-color="#831f9d"/><stop offset="0.688" stop-color="#801f9c"/><stop offset="0.750" stop-color="#7a1f9f"/><stop offset="0.812" stop-color="#71209f"/><stop offset="0.875" stop-color="#64209b"/><stop offset="0.938" stop-color="#552192"/><stop offset="1.000" stop-color="#432285"/></linearGradient><linearGradient id="hc2"><stop offset="0.000" stop-color="#2b2776"/><stop offset="0.062" stop-color="#37247d"/><stop offset="0.125" stop-color="#462287"/><stop offset="0.188" stop-color="#552193"/><stop offset="0.250" stop-color="#64209b"/><stop offset="0.312" stop-color="#72209f"/><stop offset="0.375" stop-color="#7a1f9e"/><stop offset="0.438" stop-color="#811f9d"/><stop offset="0.500" stop-color="#86209c"/><stop offset="0.562" stop-color="#891f9b"/><stop offset="0.625" stop-color="#88209b"/><stop offset="0.688" stop-color="#841f9c"/><stop offset="0.750" stop-color="#7c1e9d"/><stop offset="0.812" stop-color="#74209f"/><stop offset="0.875" stop-color="#681f9d"/><stop offset="0.938" stop-color="#572193"/><stop offset="1.000" stop-color="#442286"/></linearGradient><linearGradient id="hc3"><stop offset="0.000" stop-color="#2f2578"/><stop offset="0.062" stop-color="#3c2281"/><stop offset="0.125" stop-color="#4c228d"/><stop offset="0.188" stop-color="#5c1f97"/><stop offset="0.250" stop-color="#6c209e"/><stop offset="0.312" stop-color="#771f9f"/><stop offset="0.375" stop-color="#801f9c"/><stop offset="0.438" stop-color="#87209b"/><stop offset="0.500" stop-color="#8c219a"/><stop offset="0.562" stop-color="#8f2199"/><stop offset="0.625" stop-color="#8c219a"/><stop offset="0.688" stop-color="#88209b"/><stop offset="0.750" stop-color="#801f9c"/><stop offset="0.812" stop-color="#771f9f"/><stop offset="0.875" stop-color="#6b209e"/><stop offset="0.938" stop-color="#592095"/><stop offset="1.000" stop-color="#472288"/></linearGradient><linearGradient id="hc4"><stop offset="0.000" stop-color="#34247b"/><stop offset="0.062" stop-color="#432285"/><stop offset="0.125" stop-color="#542191"/><stop offset="0.188" stop-color="#64209b"/><stop offset="0.250" stop-color="#72209f"/><stop offset="0.312" stop-color="#7c1f9d"/><stop offset="0.375" stop-color="#86209c"/><stop offset="0.438" stop-color="#8e2199"/><stop offset="0.500" stop-color="#922298"/><stop offset="0.562" stop-color="#942398"/><stop offset="0.625" stop-color="#922298"/><stop offset="0.688" stop-color="#8c219a"/><stop offset="0.750" stop-color="#841f9c"/><stop offset="0.812" stop-color="#7a1f9f"/><stop offset="0.875" stop-color="#6e209f"/><stop offset="0.938" stop-color="#5b1f96"/><stop offset="1.000" stop-color="#49228a"/></linearGradient><linearGradient id="hc5"><stop offset="0.000" stop-color="#39247f"/><stop offset="0.062" stop-color="#4b218b"/><stop offset="0.125" stop-color="#5b1f96"/><stop offset="0.188" stop-color="#6c209e"/><stop offset="0.250" stop-color="#791f9f"/><stop offset="0.312" stop-color="#831f9d"/><stop offset="0.375" stop-color="#8c219a"/><stop offset="0.438" stop-color="#942398"/><stop offset="0.500" stop-color="#972396"/><stop offset="0.562" stop-color="#982295"/><stop offset="0.625" stop-color="#962397"/><stop offset="0.688" stop-color="#912198"/><stop offset="0.750" stop-color="#88209b"/><stop offset="0.812" stop-color="#7c1f9d"/><stop offset="0.875" stop-color="#70209f"/><stop offset="0.938" stop-color="#5e1f98"/><stop offset="1.000" stop-color="#4b218b"/></linearGradient><linearGradient id="hc6"><stop offset="0.000" stop-color="#402283"/><stop offset="0.062" stop-color="#512190"/><stop offset="0.125" stop-color="#621f9a"/><stop offset="0.188" stop-color="#72209f"/><stop offset="0.250" stop-color="#7f1e9d"/><stop offset="0.312" stop-color="#8b209b"/><stop offset="0.375" stop-color="#932398"/><stop offset="0.438" stop-color="#992395"/><stop offset="0.500" stop-color="#9d2393"/><stop offset="0.562" stop-color="#9d2393"/><stop offset="0.625" stop-color="#9b2294"/><stop offset="0.688" stop-color="#952397"/><stop offset="0.750" stop-color="#8b219a"/><stop offset="0.812" stop-color="#801f9c"/><stop offset="0.875" stop-color="#72209f"/><stop offset="0.938" stop-color="#601f99"/><stop offset="1.000" stop-color="#4c228c"/></linearGradient><linearGradient id="hc7"><stop offset="0.000" stop-color="#472288"/><stop offset="0.062" stop-color="#592095"/><stop offset="0.125" stop-color="#6b209e"/><stop offset="0.188" stop-color="#791f9f"/><stop offset="0.250" stop-color="#851f9c"/><stop offset="0.312" stop-color="#912198"/><stop offset="0.375" stop-color="#992395"/><stop offset="0.438" stop-color="#9f2492"/><stop offset="0.500" stop-color="#a12590"/><stop offset="0.562" stop-color="#a12590"/><stop offset="0.625" stop-color="#9f2492"/><stop offset="0.688" stop-color="#992395"/><stop offset="0.750" stop-color="#902198"/><stop offset="0.812" stop-color="#821f9d"/><stop offset="0.875" stop-color="#75209f"/><stop offset="0.938" stop-color="#631f9a"/><stop offset="1.000" stop-color="#4e228e"/></linearGradient><linearGradient id="hc8"><stop offset="0.000" stop-color="#4e218e"/><stop offset="0.062" stop-color="#601f99"/><stop offset="0.125" stop-color="#72209f"/><stop offset="0.188" stop-color="#7f1f9d"/><stop offset="0.250" stop-color="#8c219a"/><stop offset="0.312" stop-color="#972396"/><stop offset="0.375" stop-color="#9f2492"/><stop offset="0.438" stop-color="#a5248f"/><stop offset="0.500" stop-color="#a7238e"/><stop offset="0.562" stop-color="#a7238e"/><stop offset="0.625" stop-color="#a42490"/><stop offset="0.688" stop-color="#9d2393"/><stop offset="0.750" stop-color="#942398"/><stop offset="0.812" stop-color="#86209c"/><stop offset="0.875" stop-color="#781f9f"/><stop offset="0.938" stop-color="#65209c"/><stop offset="1.000" stop-color="#50218f"/></linearGradient><linearGradient id="hc9"><stop offset="0.000" stop-color="#562193"/><stop offset="0.062" stop-color="#69209e"/><stop offset="0.125" stop-color="#791f9f"/><stop offset="0.188" stop-color="#86209c"/><stop offset="0.250" stop-color="#942398"/><stop offset="0.312" stop-color="#9e2493"/><stop offset="0.375" stop-color="#a5248f"/><stop offset="0.438" stop-color="#ab258d"/><stop offset="0.500" stop-color="#ad258c"/><stop offset="0.562" stop-color="#ac258c"/><stop offset="0.625" stop-color="#a8238e"/><stop offset="0.688" stop-color="#a12591"/><stop offset="0.750" stop-color="#972396"/><stop offset="0.812" stop-color="#8a209b"/><stop offset="0.875" stop-color="#7a1f9f"/><stop offset="0.938" stop-color="#681f9e"/><stop offset="1.000" stop-color="#522190"/></linearGradient><linearGradient id="hc10"><stop offset="0.000" stop-color="#5e1f98"/><stop offset="0.062" stop-color="#71209f"/><stop offset="0.125" stop-color="#7f1f9d"/><stop offset="0.188" stop-color="#8e2199"/><stop offset="0.250" stop-color="#9a2294"/><stop offset="0.312" stop-color="#a42490"/><stop offset="0.375" stop-color="#ac258c"/><stop offset="0.438" stop-color="#b0248b"/><stop offset="0.500" stop-color="#b2258a"/><stop offset="0.562" stop-color="#b1248a"/><stop offset="0.625" stop-color="#ac258c"/><stop offset="0.688" stop-color="#a5248f"/><stop offset="0.750" stop-color="#9b2294"/><stop offset="0.812" stop-color="#8d219a"/><stop offset="0.875" stop-color="#7c1f9e"/><stop offset="0.938" stop-color="#6b209e"/><stop offset="1.000" stop-color="#542192"/></linearGradient><linearGradient id="hc11"><stop offset="0.000" stop-color="#67209d"/><stop offset="0.062" stop-color="#781f9f"/><stop offset="0.125" stop-color="#86209c"/><stop offset="0.188" stop-color="#952397"/><stop offset="0.250" stop-color="#a02591"/><stop offset="0.312" stop-color="#ab258d"/><stop offset="0.375" stop-color="#b1258a"/><stop offset="0.438" stop-color="#b72787"/><stop offset="0.500" stop-color="#b82887"/><stop offset="0.562" stop-color="#b62788"/><stop offset="0.625" stop-color="#b1248a"/><stop offset="0.688" stop-color="#a9248e"/><stop offset="0.750" stop-color="#9e2493"/><stop offset="0.812" stop-color="#902198"/><stop offset="0.875" stop-color="#7f1e9d"/><stop offset="0.938" stop-color="#6d209e"/><stop offset="1.000" stop-color="#552193"/></linearGradient><linearGradient id="hc12"><stop offset="0.000" stop-color="#6f1f9f"/><stop offset="0.062" stop-color="#7f1e9d"/><stop offset="0.125" stop-color="#8f2199"/><stop offset="0.188" stop-color="#9d2394"/><stop offset="0.250" stop-color="#a8238e"/><stop offset="0.312" stop-color="#b1248a"/><stop offset="0.375" stop-color="#b92987"/><stop offset="0.438" stop-color="#bc2e85"/><stop offset="0.500" stop-color="#bd2f84"/><stop offset="0.562" stop-color="#bb2d86"/><stop offset="0.625" stop-color="#b62788"/><stop offset="0.688" stop-color="#ad258c"/><stop offset="0.750" stop-color="#a12591"/><stop offset="0.812" stop-color="#932398"/><stop offset="0.875" stop-color="#811f9d"/><stop offset="0.938" stop-color="#6f1f9f"/><stop offset="1.000" stop-color="#582194"/></linearGradient><linearGradient id="hc13"><stop offset="0.000" stop-color="#76209f"/><stop offset="0.062" stop-color="#86209c"/><stop offset="0.125" stop-color="#962397"/><stop offset="0.188" stop-color="#a42490"/><stop offset="0.250" stop-color="#af248b"/><stop offset="0.312" stop-color="#b82887"/><stop offset="0.375" stop-color="#be3083"/><stop offset="0.438" stop-color="#c13381"/><stop offset="0.500" stop-color="#c13381"/><stop offset="0.562" stop-color="#c03182"/><stop offset="0.625" stop-color="#ba2c86"/><stop offset="0.688" stop-color="#b1248a"/><stop offset="0.750" stop-color="#a5248f"/><stop offset="0.812" stop-color="#962397"/><stop offset="0.875" stop-color="#831f9c"/><stop offset="0.938" stop-color="#71209f"/><stop offset="1.000" stop-color="#592095"/></linearGradient><linearGradient id="hc14"><stop offset="0.000" stop-color="#7c1e9d"/><stop offset="0.062" stop-color="#8f2199"/><stop offset="0.125" stop-color="#9d2393"/><stop offset="0.188" stop-color="#ab258d"/><stop offset="0.250" stop-color="#b62788"/><stop offset="0.312" stop-color="#be3183"/><stop offset="0.375" stop-color="#c23480"/><stop offset="0.438" stop-color="#c4377d"/><stop offset="0.500" stop-color="#c4377d"/><stop offset="0.562" stop-color="#c2347f"/><stop offset="0.625" stop-color="#be3183"/><stop offset="0.688" stop-color="#b52788"/><stop offset="0.750" stop-color="#a9248e"/><stop offset="0.812" stop-color="#992395"/><stop offset="0.875" stop-color="#86209c"/><stop offset="0.938" stop-color="#73219f"/><stop offset="1.000" stop-color="#5b1f96"/></linearGradient><linearGradient id="hc15"><stop offset="0.000" stop-color="#851f9c"/><stop offset="0.062" stop-color="#962397"/><stop offset="0.125" stop-color="#a5248f"/><stop offset="0.188" stop-color="#b1258a"/><stop offset="0.250" stop-color="#bd2e85"/><stop offset="0.312" stop-color="#c2357f"/><stop offset="0.375" stop-color="#c43b7c"/><stop offset="0.438" stop-color="#c53c7a"/><stop offset="0.500" stop-color="#c53b7a"/><stop offset="0.562" stop-color="#c43a7c"/><stop offset="0.625" stop-color="#c13380"/><stop offset="0.688" stop-color="#b92a86"/><stop offset="0.750" stop-color="#ac258c"/><stop offset="0.812" stop-color="#9d2394"/><stop offset="0.875" stop-color="#8a1f9b"/><stop offset="0.938" stop-color="#75209f"/><stop offset="1.000" stop-color="#5d1f97"/></linearGradient><linearGradient id="hc16"><stop offset="0.000" stop-color="#8d2199"/><stop offset="0.062" stop-color="#9d2493"/><stop offset="0.125" stop-color="#ac258c"/><stop offset="0.188" stop-color="#b92a86"/><stop offset="0.250" stop-color="#c23480"/><stop offset="0.312" stop-color="#c53b7b"/><stop offset="0.375" stop-color="#c63e7a"/><stop offset="0.438" stop-color="#c94078"/><stop offset="0.500" stop-color="#c83f79"/><stop offset="0.562" stop-color="#c53d7a"/><stop offset="0.625" stop-color="#c4377d"/><stop offset="0.688" stop-color="#bd2f84"/><stop offset="0.750" stop-color="#af248b"/><stop offset="0.812" stop-color="#9f2492"/><stop offset="0.875" stop-color="#8b219a"/><stop offset="0.938" stop-color="#77209f"/><stop offset="1.000" stop-color="#5e1f98"/></linearGradient><linearGradient id="hc17"><stop offset="0.000" stop-color="#962397"/><stop offset="0.062" stop-color="#a5248f"/><stop offset="0.125" stop-color="#b42589"/><stop offset="0.188" stop-color="#c03282"/><stop offset="0.250" stop-color="#c43b7c"/><stop offset="0.312" stop-color="#c83f79"/><stop offset="0.375" stop-color="#c84476"/><stop offset="0.438" stop-color="#ca4575"/><stop offset="0.500" stop-color="#c94476"/><stop offset="0.562" stop-color="#c94078"/><stop offset="0.625" stop-color="#c53b7b"/><stop offset="0.688" stop-color="#c03282"/><stop offset="0.750" stop-color="#b32589"/><stop offset="0.812" stop-color="#a12590"/><stop offset="0.875" stop-color="#8f2199"/><stop offset="0.938" stop-color="#791f9f"/><stop offset="1.000" stop-color="#601f99"/></linearGradient><linearGradient id="hc18"><stop offset="0.000" stop-color="#9d2393"/><stop offset="0.062" stop-color="#ad258c"/><stop offset="0.125" stop-color="#bc2e86"/><stop offset="0.188" stop-color="#c4377d"/><stop offset="0.250" stop-color="#c73f7a"/><stop offset="0.312" stop-color="#ca4575"/><stop offset="0.375" stop-color="#cc4773"/><stop offset="0.438" stop-color="#ce4872"/><stop offset="0.500" stop-color="#cc4773"/><stop offset="0.562" stop-color="#ca4576"/><stop offset="0.625" stop-color="#c63e7a"/><stop offset="0.688" stop-color="#c2347f"/><stop offset="0.750" stop-color="#b62788"/><stop offset="0.812" stop-color="#a5248f"/><stop offset="0.875" stop-color="#912198"/><stop offset="0.938" stop-color="#7a1f9f"/><stop offset="1.000" stop-color="#611f9a"/></linearGradient><linearGradient id="hc19"><stop offset="0.000" stop-color="#a5248f"/><stop offset="0.062" stop-color="#b52688"/><stop offset="0.125" stop-color="#c13380"/><stop offset="0.188" stop-color="#c53d7a"/><stop offset="0.250" stop-color="#ca4575"/><stop offset="0.312" stop-color="#ce4971"/><stop offset="0.375" stop-color="#d04c6f"/><stop offset="0.438" stop-color="#d04d6f"/><stop offset="0.500" stop-color="#cf4b70"/><stop offset="0.562" stop-color="#cc4773"/><stop offset="0.625" stop-color="#c94078"/><stop offset="0.688" stop-color="#c4387d"/><stop offset="0.750" stop-color="#ba2b86"/><stop offset="0.812" stop-color="#a8238e"/><stop offset="0.875" stop-color="#942398"/><stop offset="0.938" stop-color="#7c1f9e"/><stop offset="1.000" stop-color="#64209b"/></linearGradient><linearGradient id="hc20"><stop offset="0.000" stop-color="#ad258b"/><stop offset="0.062" stop-color="#bd2f84"/><stop offset="0.125" stop-color="#c43b7c"/><stop offset="0.188" stop-color="#c94277"/><stop offset="0.250" stop-color="#ce4971"/><stop offset="0.312" stop-color="#d14e6e"/><stop offset="0.375" stop-color="#d2506c"/><stop offset="0.438" stop-color="#d1506c"/><stop offset="0.500" stop-color="#d24f6d"/><stop offset="0.562" stop-color="#cf4b70"/><stop offset="0.625" stop-color="#ca4575"/><stop offset="0.688" stop-color="#c53b7b"/><stop offset="0.750" stop-color="#bd2f84"/><stop offset="0.812" stop-color="#ab258d"/><stop offset="0.875" stop-color="#962397"/><stop offset="0.938" stop-color="#7d1e9d"/><stop offset="1.000" stop-color="#65209c"/></linearGradient><linearGradient id="hc21"><stop offset="0.000" stop-color="#b52788"/><stop offset="0.062" stop-color="#c23480"/><stop offset="0.125" stop-color="#c73f79"/><stop offset="0.188" stop-color="#cc4773"/><stop offset="0.250" stop-color="#d14e6e"/><stop offset="0.312" stop-color="#d2516b"/><stop offset="0.375" stop-color="#d45469"/><stop offset="0.438" stop-color="#d45469"/><stop offset="0.500" stop-color="#d3526b"/><stop offset="0.562" stop-color="#d14e6e"/><stop offset="0.625" stop-color="#cc4773"/><stop offset="0.688" stop-color="#c63e7a"/><stop offset="0.750" stop-color="#c03282"/><stop offset="0.812" stop-color="#ad258b"/><stop offset="0.875" stop-color="#982295"/><stop offset="0.938" stop-color="#801f9c"/><stop offset="1.000" stop-color="#681f9d"/></linearGradient><linearGradient id="hc22"><stop offset="0.000" stop-color="#bd2f84"/><stop offset="0.062" stop-color="#c53b7b"/><stop offset="0.125" stop-color="#cb4575"/><stop offset="0.188" stop-color="#d04d6f"/><stop offset="0.250" stop-color="#d3526a"/><stop offset="0.312" stop-color="#d45668"/><stop offset="0.375" stop-color="#d55867"/><stop offset="0.438" stop-color="#d55867"/><stop offset="0.500" stop-color="#d45568"/><stop offset="0.562" stop-color="#d1516b"/><stop offset="0.625" stop-color="#ce4a70"/><stop offset="0.688" stop-color="#c94078"/><stop offset="0.750" stop-color="#c23480"/><stop offset="0.812" stop-color="#b0248b"/><stop offset="0.875" stop-color="#9a2294"/><stop offset="0.938" stop-color="#811f9d"/><stop offset="1.000" stop-color="#69209e"/></linearGradient><linearGradient id="hc23"><stop offset="0.000" stop-color="#c3357e"/><stop offset="0.062" stop-color="#c94078"/><stop offset="0.125" stop-color="#ce4b70"/><stop offset="0.188" stop-color="#d2516b"/><stop offset="0.250" stop-color="#d55768"/><stop offset="0.312" stop-color="#d65966"/><stop offset="0.375" stop-color="#d75b65"/><stop offset="0.438" stop-color="#d65b65"/><stop offset="0.500" stop-color="#d55867"/><stop offset="0.562" stop-color="#d45469"/><stop offset="0.625" stop-color="#d14e6e"/><stop offset="0.688" stop-color="#c94476"/><stop offset="0.750" stop-color="#c3367e"/><stop offset="0.812" stop-color="#b32589"/><stop offset="0.875" stop-color="#9d2393"/><stop offset="0.938" stop-color="#831f9c"/><stop offset="1.000" stop-color="#6b209e"/></linearGradient><linearGradient id="hc24"><stop offset="0.000" stop-color="#c53c7a"/><stop offset="0.062" stop-color="#cc4773"/><stop offset="0.125" stop-color="#d2506d"/><stop offset="0.188" stop-color="#d45668"/><stop offset="0.250" stop-color="#d65b65"/><stop offset="0.312" stop-color="#d85d63"/><stop offset="0.375" stop-color="#d85e61"/><stop offset="0.438" stop-color="#d85e62"/><stop offset="0.500" stop-color="#d75b64"/><stop offset="0.562" stop-color="#d55768"/><stop offset="0.625" stop-color="#d2506c"/><stop offset="0.688" stop-color="#cb4674"/><stop offset="0.750" stop-color="#c43a7c"/><stop offset="0.812" stop-color="#b52788"/><stop offset="0.875" stop-color="#9e2493"/><stop offset="0.938" stop-color="#851f9c"/><stop offset="1.000" stop-color="#6c209e"/></linearGradient><linearGradient id="hc25"><stop offset="0.000" stop-color="#c94277"/><stop offset="0.062" stop-color="#d04d6f"/><stop offset="0.125" stop-color="#d35469"/><stop offset="0.188" stop-color="#d65a65"/><stop offset="0.250" stop-color="#d85e61"/><stop offset="0.312" stop-color="#da6160"/><stop offset="0.375" stop-color="#db625f"/><stop offset="0.438" stop-color="#da6160"/><stop offset="0.500" stop-color="#d85e61"/><stop offset="0.562" stop-color="#d65966"/><stop offset="0.625" stop-color="#d3526a"/><stop offset="0.688" stop-color="#ce4872"/><stop offset="0.750" stop-color="#c53b7a"/><stop offset="0.812" stop-color="#b92987"/><stop offset="0.875" stop-color="#a02591"/><stop offset="0.938" stop-color="#87209b"/><stop offset="1.000" stop-color="#6e209f"/></linearGradient><linearGradient id="hc26"><stop offset="0.000" stop-color="#cd4872"/><stop offset="0.062" stop-color="#d2516b"/><stop offset="0.125" stop-color="#d55866"/><stop offset="0.188" stop-color="#d85e61"/><stop offset="0.250" stop-color="#db625f"/><stop offset="0.312" stop-color="#db645d"/><stop offset="0.375" stop-color="#dc655d"/><stop offset="0.438" stop-color="#db635e"/><stop offset="0.500" stop-color="#da6160"/><stop offset="0.562" stop-color="#d75b64"/><stop offset="0.625" stop-color="#d45568"/><stop offset="0.688" stop-color="#cf4b70"/><stop offset="0.750" stop-color="#c63e7a"/><stop offset="0.812" stop-color="#bb2d86"/><stop offset="0.875" stop-color="#a32490"/><stop offset="0.938" stop-color="#8a1f9b"/><stop offset="1.000" stop-color="#6f1f9f"/></linearGradient><linearGradient id="hc27"><stop offset="0.000" stop-color="#d14e6e"/><stop offset="0.062" stop-color="#d55768"/><stop offset="0.125" stop-color="#d85d63"/><stop offset="0.188" stop-color="#db625f"/><stop offset="0.250" stop-color="#dd665c"/><stop offset="0.312" stop-color="#de685a"/><stop offset="0.375" stop-color="#de685b"/><stop offset="0.438" stop-color="#de675b"/><stop offset="0.500" stop-color="#db635e"/><stop offset="0.562" stop-color="#d85f61"/><stop offset="0.625" stop-color="#d55867"/><stop offset="0.688" stop-color="#d14e6e"/><stop offset="0.750" stop-color="#c84079"/><stop offset="0.812" stop-color="#bd2f84"/><stop offset="0.875" stop-color="#a5248f"/><stop offset="0.938" stop-color="#8b209a"/><stop offset="1.000" stop-color="#70209f"/></linearGradient><linearGradient id="hc28"><stop offset="0.000" stop-color="#d3536a"/><stop offset="0.062" stop-color="#d65b65"/><stop offset="0.125" stop-color="#da6260"/><stop offset="0.188" stop-color="#dd665c"/><stop offset="0.250" stop-color="#df695a"/><stop offset="0.312" stop-color="#df6b59"/><stop offset="0.375" stop-color="#df6c59"/><stop offset="0.438" stop-color="#df6a5a"/><stop offset="0.500" stop-color="#dd665c"/><stop offset="0.562" stop-color="#da6260"/><stop offset="0.625" stop-color="#d65966"/><stop offset="0.688" stop-color="#d2506c"/><stop offset="0.750" stop-color="#c94277"/><stop offset="0.812" stop-color="#c03182"/><stop offset="0.875" stop-color="#a7238e"/><stop offset="0.938" stop-color="#8c219a"/><stop offset="1.000" stop-color="#72209f"/></linearGradient><linearGradient id="hc29"><stop offset="0.000" stop-color="#d55867"/><stop offset="0.062" stop-color="#d96060"/><stop offset="0.125" stop-color="#dc655d"/><stop offset="0.188" stop-color="#e06a5a"/><stop offset="0.250" stop-color="#e06e58"/><stop offset="0.312" stop-color="#e06f57"/><stop offset="0.375" stop-color="#e06f57"/><stop offset="0.438" stop-color="#e06e58"/><stop offset="0.500" stop-color="#de695b"/><stop offset="0.562" stop-color="#db635e"/><stop offset="0.625" stop-color="#d75b64"/><stop offset="0.688" stop-color="#d3526b"/><stop offset="0.750" stop-color="#ca4575"/><stop offset="0.812" stop-color="#c13381"/><stop offset="0.875" stop-color="#aa248e"/><stop offset="0.938" stop-color="#8f2199"/><stop offset="1.000" stop-color="#72209f"/></linearGradient><linearGradient id="hc30"><stop offset="0.000" stop-color="#d75c63"/><stop offset="0.062" stop-color="#db635e"/><stop offset="0.125" stop-color="#df695b"/><stop offset="0.188" stop-color="#e06e58"/><stop offset="0.250" stop-color="#e07157"/><stop offset="0.312" stop-color="#e07356"/><stop offset="0.375" stop-color="#e07356"/><stop offset="0.438" stop-color="#e07057"/><stop offset="0.500" stop-color="#e06c58"/><stop offset="0.562" stop-color="#dd665c"/><stop offset="0.625" stop-color="#d85e61"/><stop offset="0.688" stop-color="#d35469"/><stop offset="0.750" stop-color="#cc4773"/><stop offset="0.812" stop-color="#c2347f"/><stop offset="0.875" stop-color="#ab258d"/><stop offset="0.938" stop-color="#902198"/><stop offset="1.000" stop-color="#73219f"/></linearGradient><linearGradient id="hc31"><stop offset="0.000" stop-color="#da6160"/><stop offset="0.062" stop-color="#de675a"/><stop offset="0.125" stop-color="#e06e58"/><stop offset="0.188" stop-color="#e07257"/><stop offset="0.250" stop-color="#df7554"/><stop offset="0.312" stop-color="#df7653"/><stop offset="0.375" stop-color="#df7554"/><stop offset="0.438" stop-color="#e07356"/><stop offset="0.500" stop-color="#e06f58"/><stop offset="0.562" stop-color="#de685b"/><stop offset="0.625" stop-color="#d96160"/><stop offset="0.688" stop-color="#d45668"/><stop offset="0.750" stop-color="#ce4872"/><stop offset="0.812" stop-color="#c4377d"/><stop offset="0.875" stop-color="#ad258b"/><stop offset="0.938" stop-color="#922298"/><stop offset="1.000" stop-color="#75209f"/></linearGradient><linearGradient id="hc32"><stop offset="0.000" stop-color="#dc655d"/><stop offset="0.062" stop-color="#e06d58"/><stop offset="0.125" stop-color="#e07257"/><stop offset="0.188" stop-color="#df7653"/><stop offset="0.250" stop-color="#df7852"/><stop offset="0.312" stop-color="#df7952"/><stop offset="0.375" stop-color="#df7852"/><stop offset="0.438" stop-color="#df7653"/><stop offset="0.500" stop-color="#e07257"/><stop offset="0.562" stop-color="#e06b59"/><stop offset="0.625" stop-color="#db625f"/><stop offset="0.688" stop-color="#d55867"/><stop offset="0.750" stop-color="#cf4b70"/><stop offset="0.812" stop-color="#c43a7c"/><stop offset="0.875" stop-color="#af248b"/><stop offset="0.938" stop-color="#932398"/><stop offset="1.000" stop-color="#76209f"/></linearGradient><linearGradient id="hc33"><stop offset="0.000" stop-color="#df6a5a"/><stop offset="0.062" stop-color="#df7057"/><stop offset="0.125" stop-color="#df7653"/><stop offset="0.188" stop-color="#df7952"/><stop offset="0.250" stop-color="#de7c51"/><stop offset="0.312" stop-color="#de7c51"/><stop offset="0.375" stop-color="#de7c51"/><stop offset="0.438" stop-color="#df7952"/><stop offset="0.500" stop-color="#df7555"/><stop offset="0.562" stop-color="#e06e58"/><stop offset="0.625" stop-color="#db645d"/><stop offset="0.688" stop-color="#d65a65"/><stop offset="0.750" stop-color="#d04d6f"/><stop offset="0.812" stop-color="#c53b7b"/><stop offset="0.875" stop-color="#b1248a"/><stop offset="0.938" stop-color="#952398"/><stop offset="1.000" stop-color="#77209f"/></linearGradient><linearGradient id="hc34"><stop offset="0.000" stop-color="#e06f58"/><stop offset="0.062" stop-color="#df7554"/><stop offset="0.125" stop-color="#df7952"/><stop offset="0.188" stop-color="#de7d50"/><stop offset="0.250" stop-color="#de7f4e"/><stop offset="0.312" stop-color="#de7f4e"/><stop offset="0.375" stop-color="#dd7e4f"/><stop offset="0.438" stop-color="#de7b51"/><stop offset="0.500" stop-color="#df7753"/><stop offset="0.562" stop-color="#e07057"/><stop offset="0.625" stop-color="#de665c"/><stop offset="0.688" stop-color="#d75b64"/><stop offset="0.750" stop-color="#d14f6d"/><stop offset="0.812" stop-color="#c53c7a"/><stop offset="0.875" stop-color="#b32589"/><stop offset="0.938" stop-color="#962397"/><stop offset="1.000" stop-color="#781f9f"/></linearGradient><linearGradient id="hc35"><stop offset="0.000" stop-color="#e07356"/><stop offset="0.062" stop-color="#df7952"/><stop offset="0.125" stop-color="#de7d50"/><stop offset="0.188" stop-color="#dd804e"/><stop offset="0.250" stop-color="#de814e"/><stop offset="0.312" stop-color="#de814e"/><stop offset="0.375" stop-color="#dd804e"/><stop offset="0.438" stop-color="#dd7e50"/><stop offset="0.500" stop-color="#df7952"/><stop offset="0.562" stop-color="#e07257"/><stop offset="0.625" stop-color="#de685b"/><stop offset="0.688" stop-color="#d85e62"/><stop offset="0.750" stop-color="#d2506c"/><stop offset="0.812" stop-color="#c63e7a"/><stop offset="0.875" stop-color="#b52688"/><stop offset="0.938" stop-color="#982296"/><stop offset="1.000" stop-color="#791f9f"/></linearGradient><linearGradient id="hc36"><stop offset="0.000" stop-color="#df7753"/><stop offset="0.062" stop-color="#de7d50"/><stop offset="0.125" stop-color="#dd804e"/><stop offset="0.188" stop-color="#de844d"/><stop offset="0.250" stop-color="#de854c"/><stop offset="0.312" stop-color="#de854c"/><stop offset="0.375" stop-color="#de844d"/><stop offset="0.438" stop-color="#dd804d"/><stop offset="0.500" stop-color="#de7b51"/><stop offset="0.562" stop-color="#df7555"/><stop offset="0.625" stop-color="#e06b59"/><stop offset="0.688" stop-color="#d96060"/><stop offset="0.750" stop-color="#d2516b"/><stop offset="0.812" stop-color="#c83f79"/><stop offset="0.875" stop-color="#b72787"/><stop offset="0.938" stop-color="#992395"/><stop offset="1.000" stop-color="#791f9f"/></linearGradient><linearGradient id="hc37"><stop offset="0.000" stop-color="#de7b51"/><stop offset="0.062" stop-color="#dd804d"/><stop offset="0.125" stop-color="#de844c"/><stop offset="0.188" stop-color="#df874c"/><stop offset="0.250" stop-color="#de884a"/><stop offset="0.312" stop-color="#de884a"/><stop offset="0.375" stop-color="#de864b"/><stop offset="0.438" stop-color="#de824e"/><stop offset="0.500" stop-color="#dd7d50"/><stop offset="0.562" stop-color="#df7653"/><stop offset="0.625" stop-color="#e06d58"/><stop offset="0.688" stop-color="#da6260"/><stop offset="0.750" stop-color="#d4546a"/><stop offset="0.812" stop-color="#c94177"/><stop offset="0.875" stop-color="#b92986"/><stop offset="0.938" stop-color="#9b2294"/><stop offset="1.000" stop-color="#7a1f9e"/></linearGradient><linearGradient id="hc38"><stop offset="0.000" stop-color="#de7f4e"/><stop offset="0.062" stop-color="#de844d"/><stop offset="0.125" stop-color="#de874b"/><stop offset="0.188" stop-color="#df8b49"/><stop offset="0.250" stop-color="#df8b49"/><stop offset="0.312" stop-color="#e08b49"/><stop offset="0.375" stop-color="#df884a"/><stop offset="0.438" stop-color="#de854c"/><stop offset="0.500" stop-color="#de7f4e"/><stop offset="0.562" stop-color="#df7852"/><stop offset="0.625" stop-color="#e06f58"/><stop offset="0.688" stop-color="#db625f"/><stop offset="0.750" stop-color="#d45568"/><stop offset="0.812" stop-color="#c84476"/><stop offset="0.875" stop-color="#ba2c86"/><stop offset="0.938" stop-color="#9c2294"/><stop offset="1.000" stop-color="#7c1f9e"/></linearGradient><linearGradient id="hc39"><stop offset="0.000" stop-color="#de824e"/><stop offset="0.062" stop-color="#de874b"/><stop offset="0.125" stop-color="#df8b49"/><stop offset="0.188" stop-color="#e08e49"/><stop offset="0.250" stop-color="#e08e48"/><stop offset="0.312" stop-color="#e08e49"/><stop offset="0.375" stop-color="#df8b49"/><stop offset="0.438" stop-color="#de874b"/><stop offset="0.500" stop-color="#dd814e"/><stop offset="0.562" stop-color="#df7a52"/><stop offset="0.625" stop-color="#df7057"/><stop offset="0.688" stop-color="#db645e"/><stop offset="0.750" stop-color="#d55768"/><stop offset="0.812" stop-color="#ca4575"/><stop offset="0.875" stop-color="#bc2e85"/><stop offset="0.938" stop-color="#9d2393"/><stop offset="1.000" stop-color="#7c1f9e"/></linearGradient><linearGradient id="hc40"><stop offset="0.000" stop-color="#de864b"/><stop offset="0.062" stop-color="#df8b49"/><stop offset="0.125" stop-color="#e08f48"/><stop offset="0.188" stop-color="#e09047"/><stop offset="0.250" stop-color="#e09147"/><stop offset="0.312" stop-color="#e09048"/><stop offset="0.375" stop-color="#e08e49"/><stop offset="0.438" stop-color="#df894a"/><stop offset="0.500" stop-color="#de844d"/><stop offset="0.562" stop-color="#de7c51"/><stop offset="0.625" stop-color="#e07356"/><stop offset="0.688" stop-color="#dd665c"/><stop offset="0.750" stop-color="#d55867"/><stop offset="0.812" stop-color="#cb4674"/><stop offset="0.875" stop-color="#bd2f84"/><stop offset="0.938" stop-color="#9e2493"/><stop offset="1.000" stop-color="#7c1e9d"/></linearGradient><linearGradient id="hc41"><stop offset="0.000" stop-color="#df8a49"/><stop offset="0.062" stop-color="#e08f48"/><stop offset="0.125" stop-color="#e09347"/><stop offset="0.188" stop-color="#e09446"/><stop offset="0.250" stop-color="#e09447"/><stop offset="0.312" stop-color="#e19446"/><stop offset="0.375" stop-color="#e09048"/><stop offset="0.438" stop-color="#df8c49"/><stop offset="0.500" stop-color="#de864b"/><stop offset="0.562" stop-color="#dd7e4f"/><stop offset="0.625" stop-color="#df7555"/><stop offset="0.688" stop-color="#de675b"/><stop offset="0.750" stop-color="#d65966"/><stop offset="0.812" stop-color="#cc4773"/><stop offset="0.875" stop-color="#bf3183"/><stop offset="0.938" stop-color="#9f2492"/><stop offset="1.000" stop-color="#7d1e9d"/></linearGradient><linearGradient id="hc42"><stop offset="0.000" stop-color="#e08e49"/><stop offset="0.062" stop-color="#e09347"/><stop offset="0.125" stop-color="#e19547"/><stop offset="0.188" stop-color="#e09746"/><stop offset="0.250" stop-color="#e09746"/><stop offset="0.312" stop-color="#e19646"/><stop offset="0.375" stop-color="#e09346"/><stop offset="0.438" stop-color="#e08e48"/><stop offset="0.500" stop-color="#de884b"/><stop offset="0.562" stop-color="#dd7f4e"/><stop offset="0.625" stop-color="#df7653"/><stop offset="0.688" stop-color="#de685b"/><stop offset="0.750" stop-color="#d65b65"/><stop offset="0.812" stop-color="#ce4872"/><stop offset="0.875" stop-color="#c03282"/><stop offset="0.938" stop-color="#a02592"/><stop offset="1.000" stop-color="#7f1e9d"/></linearGradient><linearGradient id="hc43"><stop offset="0.000" stop-color="#e09247"/><stop offset="0.062" stop-color="#e19546"/><stop offset="0.125" stop-color="#df9846"/><stop offset="0.188" stop-color="#df9a46"/><stop offset="0.250" stop-color="#df9a46"/><stop offset="0.312" stop-color="#df9846"/><stop offset="0.375" stop-color="#e19547"/><stop offset="0.438" stop-color="#e09048"/><stop offset="0.500" stop-color="#df8a49"/><stop offset="0.562" stop-color="#dd814e"/><stop offset="0.625" stop-color="#df7852"/><stop offset="0.688" stop-color="#e06b59"/><stop offset="0.750" stop-color="#d75b64"/><stop offset="0.812" stop-color="#ce4a70"/><stop offset="0.875" stop-color="#c13381"/><stop offset="0.938" stop-color="#a12591"/><stop offset="1.000" stop-color="#801f9c"/></linearGradient><linearGradient id="hc44"><stop offset="0.000" stop-color="#e19547"/><stop offset="0.062" stop-color="#df9846"/><stop offset="0.125" stop-color="#df9b45"/><stop offset="0.188" stop-color="#df9d46"/><stop offset="0.250" stop-color="#df9d46"/><stop offset="0.312" stop-color="#df9b46"/><stop offset="0.375" stop-color="#df9846"/><stop offset="0.438" stop-color="#e09346"/><stop offset="0.500" stop-color="#df8b49"/><stop offset="0.562" stop-color="#de844e"/><stop offset="0.625" stop-color="#df7951"/><stop offset="0.688" stop-color="#e06c58"/><stop offset="0.750" stop-color="#d85d63"/><stop offset="0.812" stop-color="#d04b70"/><stop offset="0.875" stop-color="#c23480"/><stop offset="0.938" stop-color="#a22490"/><stop offset="1.000" stop-color="#801f9c"/></linearGradient><linearGradient id="hc45"><stop offset="0.000" stop-color="#df9846"/><stop offset="0.062" stop-color="#df9c45"/><stop offset="0.125" stop-color="#df9f46"/><stop offset="0.188" stop-color="#de9f45"/><stop offset="0.250" stop-color="#df9f45"/><stop offset="0.312" stop-color="#df9e46"/><stop offset="0.375" stop-color="#df9a46"/><stop offset="0.438" stop-color="#e09547"/><stop offset="0.500" stop-color="#e08e49"/><stop offset="0.562" stop-color="#de854c"/><stop offset="0.625" stop-color="#de7b51"/><stop offset="0.688" stop-color="#e06e58"/><stop offset="0.750" stop-color="#d85f61"/><stop offset="0.812" stop-color="#d04d6f"/><stop offset="0.875" stop-color="#c2347f"/><stop offset="0.938" stop-color="#a42490"/><stop offset="1.000" stop-color="#801f9d"/></linearGradient><linearGradient id="hc46"><stop offset="0.000" stop-color="#df9b45"/><stop offset="0.062" stop-color="#df9f45"/><stop offset="0.125" stop-color="#dea244"/><stop offset="0.188" stop-color="#dfa244"/><stop offset="0.250" stop-color="#dea244"/><stop offset="0.312" stop-color="#de9f45"/><stop offset="0.375" stop-color="#df9c45"/><stop offset="0.438" stop-color="#e09746"/><stop offset="0.500" stop-color="#e09048"/><stop offset="0.562" stop-color="#de874c"/><stop offset="0.625" stop-color="#de7c51"/><stop offset="0.688" stop-color="#e06f57"/><stop offset="0.750" stop-color="#d96060"/><stop offset="0.812" stop-color="#d14e6e"/><stop offset="0.875" stop-color="#c3367e"/><stop offset="0.938" stop-color="#a5248f"/><stop offset="1.000" stop-color="#811f9d"/></linearGradient><linearGradient id="hc47"><stop offset="0.000" stop-color="#df9f45"/><stop offset="0.062" stop-color="#dfa244"/><stop offset="0.125" stop-color="#dfa544"/><stop offset="0.188" stop-color="#dfa644"/><stop offset="0.250" stop-color="#dfa544"/><stop offset="0.312" stop-color="#dea244"/><stop offset="0.375" stop-color="#df9f46"/><stop offset="0.438" stop-color="#df9846"/><stop offset="0.500" stop-color="#e09247"/><stop offset="0.562" stop-color="#de884a"/><stop offset="0.625" stop-color="#dd7d50"/><stop offset="0.688" stop-color="#df7057"/><stop offset="0.750" stop-color="#d96160"/><stop offset="0.812" stop-color="#d24f6d"/><stop offset="0.875" stop-color="#c4377d"/><stop offset="0.938" stop-color="#a5248f"/><stop offset="1.000" stop-color="#821f9d"/></linearGradient><linearGradient id="hc48"><stop offset="0.000" stop-color="#dfa244"/><stop offset="0.062" stop-color="#dfa643"/><stop offset="0.125" stop-color="#e0a842"/><stop offset="0.188" stop-color="#e0a841"/><stop offset="0.250" stop-color="#dfa742"/><stop offset="0.312" stop-color="#dfa544"/><stop offset="0.375" stop-color="#dea045"/><stop offset="0.438" stop-color="#df9b46"/><stop offset="0.500" stop-color="#e19446"/><stop offset="0.562" stop-color="#df8a49"/><stop offset="0.625" stop-color="#de7f4e"/><stop offset="0.688" stop-color="#e07257"/><stop offset="0.750" stop-color="#db625f"/><stop offset="0.812" stop-color="#d2506c"/><stop offset="0.875" stop-color="#c4397d"/><stop offset="0.938" stop-color="#a7248f"/><stop offset="1.000" stop-color="#831f9d"/></linearGradient><linearGradient id="hc49"><stop offset="0.000" stop-color="#dfa643"/><stop offset="0.062" stop-color="#e0a941"/><stop offset="0.125" stop-color="#e0aa40"/><stop offset="0.188" stop-color="#e0ab40"/><stop offset="0.250" stop-color="#dfa941"/><stop offset="0.312" stop-color="#dfa742"/><stop offset="0.375" stop-color="#dfa243"/><stop offset="0.438" stop-color="#df9d46"/><stop offset="0.500" stop-color="#e19547"/><stop offset="0.562" stop-color="#df8b49"/><stop offset="0.625" stop-color="#dd804d"/><stop offset="0.688" stop-color="#e07356"/><stop offset="0.750" stop-color="#db625e"/><stop offset="0.812" stop-color="#d1516b"/><stop offset="0.875" stop-color="#c43b7c"/><stop offset="0.938" stop-color="#a8238e"/><stop offset="1.000" stop-color="#831f9c"/></linearGradient><linearGradient id="hc50"><stop offset="0.000" stop-color="#e0a941"/><stop offset="0.062" stop-color="#e1ac3f"/><stop offset="0.125" stop-color="#e1ad3e"/><stop offset="0.188" stop-color="#e1ae3e"/><stop offset="0.250" stop-color="#e1ac3f"/><stop offset="0.312" stop-color="#dfa941"/><stop offset="0.375" stop-color="#dfa544"/><stop offset="0.438" stop-color="#df9f46"/><stop offset="0.500" stop-color="#e09746"/><stop offset="0.562" stop-color="#e08d49"/><stop offset="0.625" stop-color="#dd814e"/><stop offset="0.688" stop-color="#df7555"/><stop offset="0.750" stop-color="#db635e"/><stop offset="0.812" stop-color="#d3526b"/><stop offset="0.875" stop-color="#c53b7b"/><stop offset="0.938" stop-color="#a9248e"/><stop offset="1.000" stop-color="#841f9c"/></linearGradient><linearGradient id="hc51"><stop offset="0.000" stop-color="#e1ac3f"/><stop offset="0.062" stop-color="#e1ae3c"/><stop offset="0.125" stop-color="#e3b03c"/><stop offset="0.188" stop-color="#e3b03c"/><stop offset="0.250" stop-color="#e1ae3c"/><stop offset="0.312" stop-color="#e1ac3f"/><stop offset="0.375" stop-color="#dfa743"/><stop offset="0.438" stop-color="#dea045"/><stop offset="0.500" stop-color="#df9846"/><stop offset="0.562" stop-color="#e08f48"/><stop offset="0.625" stop-color="#de834e"/><stop offset="0.688" stop-color="#df7554"/><stop offset="0.750" stop-color="#dc655d"/><stop offset="0.812" stop-color="#d3536a"/><stop offset="0.875" stop-color="#c53b7b"/><stop offset="0.938" stop-color="#aa248e"/><stop offset="1.000" stop-color="#851f9c"/></linearGradient><linearGradient id="hc52"><stop offset="0.000" stop-color="#e1af3c"/><stop offset="0.062" stop-color="#e3b13b"/><stop offset="0.125" stop-color="#e2b339"/><stop offset="0.188" stop-color="#e2b239"/><stop offset="0.250" stop-color="#e3b13c"/><stop offset="0.312" stop-color="#e1ae3d"/><stop offset="0.375" stop-color="#e0a941"/><stop offset="0.438" stop-color="#dea244"/><stop offset="0.500" stop-color="#df9a46"/><stop offset="0.562" stop-color="#e09048"/><stop offset="0.625" stop-color="#de844d"/><stop offset="0.688" stop-color="#df7753"/><stop offset="0.750" stop-color="#dd665c"/><stop offset="0.812" stop-color="#d45469"/><stop offset="0.875" stop-color="#c53c7a"/><stop offset="0.938" stop-color="#ab248d"/><stop offset="1.000" stop-color="#851f9c"/></linearGradient><linearGradient id="hc53"><stop offset="0.000" stop-color="#e2b23a"/><stop offset="0.062" stop-color="#e2b439"/><stop offset="0.125" stop-color="#e3b537"/><stop offset="0.188" stop-color="#e3b438"/><stop offset="0.250" stop-color="#e2b339"/><stop offset="0.312" stop-color="#e2b03c"/><stop offset="0.375" stop-color="#e0ab40"/><stop offset="0.438" stop-color="#dfa444"/><stop offset="0.500" stop-color="#df9b45"/><stop offset="0.562" stop-color="#e09147"/><stop offset="0.625" stop-color="#de854c"/><stop offset="0.688" stop-color="#de7852"/><stop offset="0.750" stop-color="#de675b"/><stop offset="0.812" stop-color="#d35569"/><stop offset="0.875" stop-color="#c53d7a"/><stop offset="0.938" stop-color="#ab258d"/><stop offset="1.000" stop-color="#86209c"/></linearGradient><linearGradient id="hc54"><stop offset="0.000" stop-color="#e3b438"/><stop offset="0.062" stop-color="#e1b738"/><stop offset="0.125" stop-color="#e1b738"/><stop offset="0.188" stop-color="#e1b738"/><stop offset="0.250" stop-color="#e3b537"/><stop offset="0.312" stop-color="#e2b13a"/><stop offset="0.375" stop-color="#e1ac3e"/><stop offset="0.438" stop-color="#dfa643"/><stop offset="0.500" stop-color="#df9d46"/><stop offset="0.562" stop-color="#e09346"/><stop offset="0.625" stop-color="#de874c"/><stop offset="0.688" stop-color="#df7952"/><stop offset="0.750" stop-color="#de685a"/><stop offset="0.812" stop-color="#d45668"/><stop offset="0.875" stop-color="#c63e7a"/><stop offset="0.938" stop-color="#ac258c"/><stop offset="1.000" stop-color="#86209c"/></linearGradient><linearGradient id="hc55"><stop offset="0.000" stop-color="#e1b738"/><stop offset="0.062" stop-color="#e0b939"/><stop offset="0.125" stop-color="#e0b939"/><stop offset="0.188" stop-color="#e0b939"/><stop offset="0.250" stop-color="#e1b738"/><stop offset="0.312" stop-color="#e2b339"/><stop offset="0.375" stop-color="#e1ae3c"/><stop offset="0.438" stop-color="#e0a742"/><stop offset="0.500" stop-color="#df9f46"/><stop offset="0.562" stop-color="#e09447"/><stop offset="0.625" stop-color="#de874b"/><stop offset="0.688" stop-color="#df7a52"/><stop offset="0.750" stop-color="#de685b"/><stop offset="0.812" stop-color="#d55768"/><stop offset="0.875" stop-color="#c63e7a"/><stop offset="0.938" stop-color="#ac258c"/><stop offset="1.000" stop-color="#86209b"/></linearGradient><linearGradient id="hc56"><stop offset="0.000" stop-color="#e0b939"/><stop offset="0.062" stop-color="#e0bb3b"/><stop offset="0.125" stop-color="#dfbb3c"/><stop offset="0.188" stop-color="#e0ba3b"/><stop offset="0.250" stop-color="#e0b939"/><stop offset="0.312" stop-color="#e3b537"/><stop offset="0.375" stop-color="#e3b03c"/><stop offset="0.438" stop-color="#e0a941"/><stop offset="0.500" stop-color="#de9f45"/><stop offset="0.562" stop-color="#e19546"/><stop offset="0.625" stop-color="#df884a"/><stop offset="0.688" stop-color="#de7b51"/><stop offset="0.750" stop-color="#df6a5a"/><stop offset="0.812" stop-color="#d55868"/><stop offset="0.875" stop-color="#c73f79"/><stop offset="0.938" stop-color="#ad258c"/><stop offset="1.000" stop-color="#87209b"/></linearGradient><linearGradient id="hc57"><stop offset="0.000" stop-color="#dfbc3c"/><stop offset="0.062" stop-color="#dfbd3b"/><stop offset="0.125" stop-color="#dfbd3b"/><stop offset="0.188" stop-color="#dfbd3c"/><stop offset="0.250" stop-color="#e0ba3b"/><stop offset="0.312" stop-color="#e1b738"/><stop offset="0.375" stop-color="#e2b23a"/><stop offset="0.438" stop-color="#e0aa40"/><stop offset="0.500" stop-color="#dea144"/><stop offset="0.562" stop-color="#e09746"/><stop offset="0.625" stop-color="#df8a49"/><stop offset="0.688" stop-color="#de7c51"/><stop offset="0.750" stop-color="#e06b59"/><stop offset="0.812" stop-color="#d55867"/><stop offset="0.875" stop-color="#c83f79"/><stop offset="0.938" stop-color="#ad248b"/><stop offset="1.000" stop-color="#88209b"/></linearGradient><linearGradient id="hc58"><stop offset="0.000" stop-color="#dfbe3b"/><stop offset="0.062" stop-color="#dfbf3b"/><stop offset="0.125" stop-color="#dfbf3b"/><stop offset="0.188" stop-color="#dfbf3b"/><stop offset="0.250" stop-color="#dfbc3c"/><stop offset="0.312" stop-color="#e1b939"/><stop offset="0.375" stop-color="#e2b339"/><stop offset="0.438" stop-color="#e1ac3f"/><stop offset="0.500" stop-color="#dfa243"/><stop offset="0.562" stop-color="#df9846"/><stop offset="0.625" stop-color="#e08b49"/><stop offset="0.688" stop-color="#de7d50"/><stop offset="0.750" stop-color="#df6b59"/><stop offset="0.812" stop-color="#d55867"/><stop offset="0.875" stop-color="#c94078"/><stop offset="0.938" stop-color="#ae248b"/><stop offset="1.000" stop-color="#88209b"/></linearGradient><linearGradient id="hc59"><stop offset="0.000" stop-color="#dfc03b"/><stop offset="0.062" stop-color="#dfc23c"/><stop offset="0.125" stop-color="#dfc23c"/><stop offset="0.188" stop-color="#dfc03c"/><stop offset="0.250" stop-color="#dfbe3b"/><stop offset="0.312" stop-color="#e0b93a"/><stop offset="0.375" stop-color="#e3b537"/><stop offset="0.438" stop-color="#e1ae3e"/><stop offset="0.500" stop-color="#dfa444"/><stop offset="0.562" stop-color="#df9846"/><stop offset="0.625" stop-color="#df8c49"/><stop offset="0.688" stop-color="#dd7d50"/><stop offset="0.750" stop-color="#e06d58"/><stop offset="0.812" stop-color="#d55966"/><stop offset="0.875" stop-color="#c94078"/><stop offset="0.938" stop-color="#af248b"/><stop offset="1.000" stop-color="#891f9b"/></linearGradient><linearGradient id="hc60"><stop offset="0.000" stop-color="#dfc33c"/><stop offset="0.062" stop-color="#e0c53c"/><stop offset="0.125" stop-color="#e0c43c"/><stop offset="0.188" stop-color="#dfc33c"/><stop offset="0.250" stop-color="#dfbf3b"/><stop offset="0.312" stop-color="#dfbb3c"/><stop offset="0.375" stop-color="#e1b737"/><stop offset="0.438" stop-color="#e1ae3c"/><stop offset="0.500" stop-color="#dfa644"/><stop offset="0.562" stop-color="#df9a46"/><stop offset="0.625" stop-color="#e08d49"/><stop offset="0.688" stop-color="#dd7e4f"/><stop offset="0.750" stop-color="#e06e58"/><stop offset="0.812" stop-color="#d65966"/><stop offset="0.875" stop-color="#c94177"/><stop offset="0.938" stop-color="#af248b"/><stop offset="1.000" stop-color="#891f9b"/></linearGradient><linearGradient id="hc61"><stop offset="0.000" stop-color="#e1c63b"/><stop offset="0.062" stop-color="#e1c73c"/><stop offset="0.125" stop-color="#e1c73c"/><stop offset="0.188" stop-color="#e0c53c"/><stop offset="0.250" stop-color="#e0c13c"/><stop offset="0.312" stop-color="#dfbd3b"/><stop offset="0.375" stop-color="#e1b739"/><stop offset="0.438" stop-color="#e3b03c"/><stop offset="0.500" stop-color="#dfa743"/><stop offset="0.562" stop-color="#df9b46"/><stop offset="0.625" stop-color="#e08e49"/><stop offset="0.688" stop-color="#de7f4e"/><stop offset="0.750" stop-color="#e06e58"/><stop offset="0.812" stop-color="#d65a65"/><stop offset="0.875" stop-color="#c94277"/><stop offset="0.938" stop-color="#b0248b"/><stop offset="1.000" stop-color="#8a1f9b"/></linearGradient><linearGradient id="hc62"><stop offset="0.000" stop-color="#e1c93c"/><stop offset="0.062" stop-color="#e1ca3c"/><stop offset="0.125" stop-color="#e1c93c"/><stop offset="0.188" stop-color="#e1c73c"/><stop offset="0.250" stop-color="#e0c33c"/><stop offset="0.312" stop-color="#dfbe3b"/><stop offset="0.375" stop-color="#e0b939"/><stop offset="0.438" stop-color="#e3b13b"/><stop offset="0.500" stop-color="#e0a842"/><stop offset="0.562" stop-color="#df9c45"/><stop offset="0.625" stop-color="#e08f48"/><stop offset="0.688" stop-color="#dd7f4e"/><stop offset="0.750" stop-color="#e06f58"/><stop offset="0.812" stop-color="#d65b65"/><stop offset="0.875" stop-color="#c94377"/><stop offset="0.938" stop-color="#b0248b"/><stop offset="1.000" stop-color="#8a1f9b"/></linearGradient><linearGradient id="hc63"><stop offset="0.000" stop-color="#e2cb3c"/><stop offset="0.062" stop-color="#e1cc3a"/><stop offset="0.125" stop-color="#e2cc3b"/><stop offset="0.188" stop-color="#e1c93c"/><stop offset="0.250" stop-color="#e1c53c"/><stop offset="0.312" stop-color="#dfbf3b"/><stop offset="0.375" stop-color="#e0b93a"/><stop offset="0.438" stop-color="#e2b338"/><stop offset="0.500" stop-color="#e0a941"/><stop offset="0.562" stop-color="#df9d46"/><stop offset="0.625" stop-color="#e09048"/><stop offset="0.688" stop-color="#dd804e"/><stop offset="0.750" stop-color="#e06f57"/><stop offset="0.812" stop-color="#d75b64"/><stop offset="0.875" stop-color="#c94476"/><stop offset="0.938" stop-color="#b0248a"/><stop offset="1.000" stop-color="#8a209b"/></linearGradient><linearGradient id="hc64"><stop offset="0.000" stop-color="#e1cd3c"/><stop offset="0.062" stop-color="#e1cd3c"/><stop offset="0.125" stop-color="#e1cd3c"/><stop offset="0.188" stop-color="#e2cb3b"/><stop offset="0.250" stop-color="#e1c73c"/><stop offset="0.312" stop-color="#e0c13c"/><stop offset="0.375" stop-color="#e0bb3b"/><stop offset="0.438" stop-color="#e2b339"/><stop offset="0.500" stop-color="#dfa940"/><stop offset="0.562" stop-color="#df9e46"/><stop offset="0.625" stop-color="#e09047"/><stop offset="0.688" stop-color="#dd804e"/><stop offset="0.750" stop-color="#e07057"/><stop offset="0.812" stop-color="#d75b64"/><stop offset="0.875" stop-color="#c94476"/><stop offset="0.938" stop-color="#b1248a"/><stop offset="1.000" stop-color="#8a209b"/></linearGradient><linearGradient id="hc65"><stop offset="0.000" stop-color="#e1ce3b"/><stop offset="0.062" stop-color="#e1ce3c"/><stop offset="0.125" stop-color="#e1ce3b"/><stop offset="0.188" stop-color="#e1cd3c"/><stop offset="0.250" stop-color="#e1c93c"/><stop offset="0.312" stop-color="#dfc33c"/><stop offset="0.375" stop-color="#dfbc3c"/><stop offset="0.438" stop-color="#e3b537"/><stop offset="0.500" stop-color="#e1ab40"/><stop offset="0.562" stop-color="#df9f45"/><stop offset="0.625" stop-color="#e09147"/><stop offset="0.688" stop-color="#de814e"/><stop offset="0.750" stop-color="#df7057"/><stop offset="0.812" stop-color="#d75c64"/><stop offset="0.875" stop-color="#ca4575"/><stop offset="0.938" stop-color="#b1248a"/><stop offset="1.000" stop-color="#8b209b"/></linearGradient><linearGradient id="hc66"><stop offset="0.000" stop-color="#e1cf3c"/><stop offset="0.062" stop-color="#e1cf3c"/><stop offset="0.125" stop-color="#e1cf3c"/><stop offset="0.188" stop-color="#e1ce3c"/><stop offset="0.250" stop-color="#e2cb3c"/><stop offset="0.312" stop-color="#e0c53c"/><stop offset="0.375" stop-color="#dfbd3b"/><stop offset="0.438" stop-color="#e2b637"/><stop offset="0.500" stop-color="#e1ac3f"/><stop offset="0.562" stop-color="#de9f45"/><stop offset="0.625" stop-color="#e09347"/><stop offset="0.688" stop-color="#de824e"/><stop offset="0.750" stop-color="#e07157"/><stop offset="0.812" stop-color="#d85d63"/><stop offset="0.875" stop-color="#ca4575"/><stop offset="0.938" stop-color="#b1258a"/><stop offset="1.000" stop-color="#8b209a"/></linearGradient><linearGradient id="hc67"><stop offset="0.000" stop-color="#e0d03a"/><stop offset="0.062" stop-color="#e0d03a"/><stop offset="0.125" stop-color="#e0d03b"/><stop offset="0.188" stop-color="#e1ce3c"/><stop offset="0.250" stop-color="#e1cc3a"/><stop offset="0.312" stop-color="#e1c63b"/><stop offset="0.375" stop-color="#dfbe3b"/><stop offset="0.438" stop-color="#e1b738"/><stop offset="0.500" stop-color="#e1ad3e"/><stop offset="0.562" stop-color="#dea045"/><stop offset="0.625" stop-color="#e09346"/><stop offset="0.688" stop-color="#de834e"/><stop offset="0.750" stop-color="#e07257"/><stop offset="0.812" stop-color="#d85d63"/><stop offset="0.875" stop-color="#ca4575"/><stop offset="0.938" stop-color="#b2258a"/><stop offset="1.000" stop-color="#8b209a"/></linearGradient><linearGradient id="hc68"><stop offset="0.000" stop-color="#dfd13b"/><stop offset="0.062" stop-color="#dfd13b"/><stop offset="0.125" stop-color="#e0d03a"/><stop offset="0.188" stop-color="#e1cf3c"/><stop offset="0.250" stop-color="#e1cd3d"/><stop offset="0.312" stop-color="#e1c83c"/><stop offset="0.375" stop-color="#dfbf3b"/><stop offset="0.438" stop-color="#e1b739"/><stop offset="0.500" stop-color="#e1ae3d"/><stop offset="0.562" stop-color="#dea144"/><stop offset="0.625" stop-color="#e09446"/><stop offset="0.688" stop-color="#de844d"/><stop offset="0.750" stop-color="#e07257"/><stop offset="0.812" stop-color="#d85e62"/><stop offset="0.875" stop-color="#cb4675"/><stop offset="0.938" stop-color="#b2258a"/><stop offset="1.000" stop-color="#8b209a"/></linearGradient><linearGradient id="hc69"><stop offset="0.000" stop-color="#dfd23a"/><stop offset="0.062" stop-color="#dfd23a"/><stop offset="0.125" stop-color="#dfd13b"/><stop offset="0.188" stop-color="#e0d03a"/><stop offset="0.250" stop-color="#e1ce3c"/><stop offset="0.312" stop-color="#e1c93c"/><stop offset="0.375" stop-color="#dfc03b"/><stop offset="0.438" stop-color="#e1b939"/><stop offset="0.500" stop-color="#e1ae3c"/><stop offset="0.562" stop-color="#dea244"/><stop offset="0.625" stop-color="#e09447"/><stop offset="0.688" stop-color="#de844c"/><stop offset="0.750" stop-color="#e07356"/><stop offset="0.812" stop-color="#d85e62"/><stop offset="0.875" stop-color="#cb4674"/><stop offset="0.938" stop-color="#b32589"/><stop offset="1.000" stop-color="#8b209a"/></linearGradient><linearGradient id="hc70"><stop offset="0.000" stop-color="#dfd239"/><stop offset="0.062" stop-color="#dfd239"/><stop offset="0.125" stop-color="#dfd23a"/><stop offset="0.188" stop-color="#dfd13b"/><stop offset="0.250" stop-color="#e1ce3c"/><stop offset="0.312" stop-color="#e2ca3c"/><stop offset="0.375" stop-color="#e0c13c"/><stop offset="0.438" stop-color="#e0b939"/><stop offset="0.500" stop-color="#e2af3c"/><stop offset="0.562" stop-color="#dfa343"/><stop offset="0.625" stop-color="#e09547"/><stop offset="0.688" stop-color="#de844c"/><stop offset="0.750" stop-color="#e07356"/><stop offset="0.812" stop-color="#d85e61"/><stop offset="0.875" stop-color="#cb4674"/><stop offset="0.938" stop-color="#b32589"/><stop offset="1.000" stop-color="#8b209a"/></linearGradient><linearGradient id="hc71"><stop offset="0.000" stop-color="#dfd339"/><stop offset="0.062" stop-color="#dfd339"/><stop offset="0.125" stop-color="#dfd239"/><stop offset="0.188" stop-color="#dfd13b"/><stop offset="0.250" stop-color="#e1cf3c"/><stop offset="0.312" stop-color="#e2cb3b"/><stop offset="0.375" stop-color="#dfc33c"/><stop offset="0.438" stop-color="#e0b93a"/><stop offset="0.500" stop-color="#e3b03c"/><stop offset="0.562" stop-color="#dfa343"/><stop offset="0.625" stop-color="#e19547"/><stop offset="0.688" stop-color="#de854c"/><stop offset="0.750" stop-color="#e07456"/><stop offset="0.812" stop-color="#d85f61"/><stop offset="0.875" stop-color="#cb4674"/><stop offset="0.938" stop-color="#b32589"/><stop offset="1.000" stop-color="#8b209a"/></linearGradient><linearGradient id="hc72"><stop offset="0.000" stop-color="#ded337"/><stop offset="0.062" stop-color="#ded337"/><stop offset="0.125" stop-color="#dfd339"/><stop offset="0.188" stop-color="#dfd23a"/><stop offset="0.250" stop-color="#e0d03b"/><stop offset="0.312" stop-color="#e1cc3a"/><stop offset="0.375" stop-color="#e0c43c"/><stop offset="0.438" stop-color="#e0ba3b"/><stop offset="0.500" stop-color="#e3b13c"/><stop offset="0.562" stop-color="#dfa444"/><stop offset="0.625" stop-color="#e19646"/><stop offset="0.688" stop-color="#de864b"/><stop offset="0.750" stop-color="#df7456"/><stop offset="0.812" stop-color="#d95f61"/><stop offset="0.875" stop-color="#cb4674"/><stop offset="0.938" stop-color="#b32589"/><stop offset="1.000" stop-color="#8b209a"/></linearGradient><linearGradient id="hc73"><stop offset="0.000" stop-color="#ded335"/><stop offset="0.062" stop-color="#ded335"/><stop offset="0.125" stop-color="#ded337"/><stop offset="0.188" stop-color="#dfd239"/><stop offset="0.250" stop-color="#e0d03a"/><stop offset="0.312" stop-color="#e1cd3c"/><stop offset="0.375" stop-color="#e0c53c"/><stop offset="0.438" stop-color="#dfbb3b"/><stop offset="0.500" stop-color="#e3b13b"/><stop offset="0.562" stop-color="#dfa544"/><stop offset="0.625" stop-color="#e09646"/><stop offset="0.688" stop-color="#de864b"/><stop offset="0.750" stop-color="#df7555"/><stop offset="0.812" stop-color="#d96060"/><stop offset="0.875" stop-color="#cc4774"/><stop offset="0.938" stop-color="#b42589"/><stop offset="1.000" stop-color="#8b209a"/></linearGradient><linearGradient id="hc74"><stop offset="0.000" stop-color="#ded435"/><stop offset="0.062" stop-color="#ded435"/><stop offset="0.125" stop-color="#ded335"/><stop offset="0.188" stop-color="#dfd239"/><stop offset="0.250" stop-color="#dfd13b"/><stop offset="0.312" stop-color="#e1cd3c"/><stop offset="0.375" stop-color="#e1c63b"/><stop offset="0.438" stop-color="#dfbc3c"/><stop offset="0.500" stop-color="#e2b23a"/><stop offset="0.562" stop-color="#dfa644"/><stop offset="0.625" stop-color="#e09746"/><stop offset="0.688" stop-color="#de864c"/><stop offset="0.750" stop-color="#df7555"/><stop offset="0.812" stop-color="#d96060"/><stop offset="0.875" stop-color="#cc4773"/><stop offset="0.938" stop-color="#b42589"/><stop offset="1.000" stop-color="#8b209a"/></linearGradient><linearGradient id="hc75"><stop offset="0.000" stop-color="#ded434"/><stop offset="0.062" stop-color="#ded434"/><stop offset="0.125" stop-color="#ded335"/><stop offset="0.188" stop-color="#dfd338"/><stop offset="0.250" stop-color="#dfd13b"/><stop offset="0.312" stop-color="#e1ce3b"/><stop offset="0.375" stop-color="#e1c63b"/><stop offset="0.438" stop-color="#dfbc3c"/><stop offset="0.500" stop-color="#e2b338"/><stop offset="0.562" stop-color="#dfa643"/><stop offset="0.625" stop-color="#e09746"/><stop offset="0.688" stop-color="#de874c"/><stop offset="0.750" stop-color="#df7554"/><stop offset="0.812" stop-color="#d96060"/><stop offset="0.875" stop-color="#cc4773"/><stop offset="0.938" stop-color="#b42589"/><stop offset="1.000" stop-color="#8b209a"/></linearGradient><linearGradient id="hc76"><stop offset="0.000" stop-color="#ded432"/><stop offset="0.062" stop-color="#ded433"/><stop offset="0.125" stop-color="#ded435"/><stop offset="0.188" stop-color="#ded337"/><stop offset="0.250" stop-color="#dfd23b"/><stop offset="0.312" stop-color="#e1ce3c"/><stop offset="0.375" stop-color="#e1c73c"/><stop offset="0.438" stop-color="#dfbd3b"/><stop offset="0.500" stop-color="#e2b339"/><stop offset="0.562" stop-color="#dfa743"/><stop offset="0.625" stop-color="#df9846"/><stop offset="0.688" stop-color="#df874b"/><stop offset="0.750" stop-color="#df7554"/><stop offset="0.812" stop-color="#d96060"/><stop offset="0.875" stop-color="#cc4773"/><stop offset="0.938" stop-color="#b42589"/><stop offset="1.000" stop-color="#8b209a"/></linearGradient><linearGradient id="hc77"><stop offset="0.000" stop-color="#ddd431"/><stop offset="0.062" stop-color="#ded331"/><stop offset="0.125" stop-color="#ded434"/><stop offset="0.188" stop-color="#ded336"/><stop offset="0.250" stop-color="#dfd23a"/><stop offset="0.312" stop-color="#e1cf3c"/><stop offset="0.375" stop-color="#e1c83c"/><stop offset="0.438" stop-color="#dfbd3b"/><stop offset="0.500" stop-color="#e2b339"/><stop offset="0.562" stop-color="#dfa743"/><stop offset="0.625" stop-color="#df9846"/><stop offset="0.688" stop-color="#de874b"/><stop offset="0.750" stop-color="#df7554"/><stop offset="0.812" stop-color="#d96160"/><stop offset="0.875" stop-color="#cc4773"/><stop offset="0.938" stop-color="#b42589"/><stop offset="1.000" stop-color="#8b209a"/></linearGradient><linearGradient id="hc78"><stop offset="0.000" stop-color="#ded431"/><stop offset="0.062" stop-color="#ddd431"/><stop offset="0.125" stop-color="#ded433"/><stop offset="0.188" stop-color="#ded335"/><stop offset="0.250" stop-color="#dfd239"/><stop offset="0.312" stop-color="#e1cf3c"/><stop offset="0.375" stop-color="#e1c93c"/><stop offset="0.438" stop-color="#dfbe3b"/><stop offset="0.500" stop-color="#e2b439"/><stop offset="0.562" stop-color="#dfa742"/><stop offset="0.625" stop-color="#df9846"/><stop offset="0.688" stop-color="#de874b"/><stop offset="0.750" stop-color="#df7554"/><stop offset="0.812" stop-color="#d96160"/><stop offset="0.875" stop-color="#cc4773"/><stop offset="0.938" stop-color="#b42589"/><stop offset="1.000" stop-color="#8b209b"/></linearGradient><linearGradient id="hc79"><stop offset="0.000" stop-color="#ddd431"/><stop offset="0.062" stop-color="#ded431"/><stop offset="0.125" stop-color="#ded432"/><stop offset="0.188" stop-color="#ded335"/><stop offset="0.250" stop-color="#dfd239"/><stop offset="0.312" stop-color="#e1cf3c"/><stop offset="0.375" stop-color="#e1c93c"/><stop offset="0.438" stop-color="#dfbe3b"/><stop offset="0.500" stop-color="#e3b438"/><stop offset="0.562" stop-color="#e0a842"/><stop offset="0.625" stop-color="#df9846"/><stop offset="0.688" stop-color="#de884a"/><stop offset="0.750" stop-color="#df7653"/><stop offset="0.812" stop-color="#d96160"/><stop offset="0.875" stop-color="#cc4773"/><stop offset="0.938" stop-color="#b42589"/><stop offset="1.000" stop-color="#8a209b"/></linearGradient><linearGradient id="hc80"><stop offset="0.000" stop-color="#ddd431"/><stop offset="0.062" stop-color="#ddd431"/><stop offset="0.125" stop-color="#ddd331"/><stop offset="0.188" stop-color="#ded435"/><stop offset="0.250" stop-color="#dfd239"/><stop offset="0.312" stop-color="#e1d03c"/><stop offset="0.375" stop-color="#e2ca3c"/><stop offset="0.438" stop-color="#dfbf3b"/><stop offset="0.500" stop-color="#e3b537"/><stop offset="0.562" stop-color="#e0a842"/><stop offset="0.625" stop-color="#df9846"/><stop offset="0.688" stop-color="#de884a"/><stop offset="0.750" stop-color="#df7653"/><stop offset="0.812" stop-color="#d96160"/><stop offset="0.875" stop-color="#cc4773"/><stop offset="0.938" stop-color="#b42589"/><stop offset="1.000" stop-color="#8a209b"/></linearGradient><linearGradient id="hc81"><stop offset="0.000" stop-color="#ddd331"/><stop offset="0.062" stop-color="#ddd431"/><stop offset="0.125" stop-color="#ddd431"/><stop offset="0.188" stop-color="#ded435"/><stop offset="0.250" stop-color="#dfd239"/><stop offset="0.312" stop-color="#e0d03b"/><stop offset="0.375" stop-color="#e2ca3c"/><stop offset="0.438" stop-color="#dfbf3b"/><stop offset="0.500" stop-color="#e3b537"/><stop offset="0.562" stop-color="#e0a841"/><stop offset="0.625" stop-color="#df9947"/><stop offset="0.688" stop-color="#de884a"/><stop offset="0.750" stop-color="#df7653"/><stop offset="0.812" stop-color="#d96160"/><stop offset="0.875" stop-color="#cc4773"/><stop offset="0.938" stop-color="#b42589"/><stop offset="1.000" stop-color="#8a209b"/></linearGradient><linearGradient id="hc82"><stop offset="0.000" stop-color="#ddd331"/><stop offset="0.062" stop-color="#ddd331"/><stop offset="0.125" stop-color="#ded431"/><stop offset="0.188" stop-color="#ded434"/><stop offset="0.250" stop-color="#dfd239"/><stop offset="0.312" stop-color="#e0d03b"/><stop offset="0.375" stop-color="#e2cb3c"/><stop offset="0.438" stop-color="#dfbf3b"/><stop offset="0.500" stop-color="#e3b537"/><stop offset="0.562" stop-color="#e0a941"/><stop offset="0.625" stop-color="#df9947"/><stop offset="0.688" stop-color="#de884a"/><stop offset="0.750" stop-color="#df7653"/><stop offset="0.812" stop-color="#d96160"/><stop offset="0.875" stop-color="#cc4773"/><stop offset="0.938" stop-color="#b42589"/><stop offset="1.000" stop-color="#8a1f9b"/></linearGradient><linearGradient id="hc83"><stop offset="0.000" stop-color="#ddd331"/><stop offset="0.062" stop-color="#ddd331"/><stop offset="0.125" stop-color="#ded431"/><stop offset="0.188" stop-color="#ded434"/><stop offset="0.250" stop-color="#dfd338"/><stop offset="0.312" stop-color="#e0d03a"/><stop offset="0.375" stop-color="#e2cb3c"/><stop offset="0.438" stop-color="#dfbf3b"/><stop offset="0.500" stop-color="#e2b637"/><stop offset="0.562" stop-color="#e0a941"/><stop offset="0.625" stop-color="#df9946"/><stop offset="0.688" stop-color="#df884a"/><stop offset="0.750" stop-color="#df7753"/><stop offset="0.812" stop-color="#d96160"/><stop offset="0.875" stop-color="#cc4773"/><stop offset="0.938" stop-color="#b42589"/><stop offset="1.000" stop-color="#8a1f9b"/></linearGradient><linearGradient id="hc84"><stop offset="0.000" stop-color="#ddd331"/><stop offset="0.062" stop-color="#ddd331"/><stop offset="0.125" stop-color="#ddd431"/><stop offset="0.188" stop-color="#ded433"/><stop offset="0.250" stop-color="#dfd338"/><stop offset="0.312" stop-color="#e0d03a"/><stop offset="0.375" stop-color="#e2cb3b"/><stop offset="0.438" stop-color="#dfc03b"/><stop offset="0.500" stop-color="#e2b637"/><stop offset="0.562" stop-color="#e0a941"/><stop offset="0.625" stop-color="#df9946"/><stop offset="0.688" stop-color="#df884a"/><stop offset="0.750" stop-color="#df7753"/><stop offset="0.812" stop-color="#d96160"/><stop offset="0.875" stop-color="#cc4773"/><stop offset="0.938" stop-color="#b42589"/><stop offset="1.000" stop-color="#891f9b"/></linearGradient><linearGradient id="hc85"><stop offset="0.000" stop-color="#ddd331"/><stop offset="0.062" stop-color="#ddd331"/><stop offset="0.125" stop-color="#ddd431"/><stop offset="0.188" stop-color="#ded433"/><stop offset="0.250" stop-color="#dfd338"/><stop offset="0.312" stop-color="#e0d03a"/><stop offset="0.375" stop-color="#e2cc3b"/><stop offset="0.438" stop-color="#dfc03b"/><stop offset="0.500" stop-color="#e2b637"/><stop offset="0.562" stop-color="#e0a941"/><stop offset="0.625" stop-color="#df9a46"/><stop offset="0.688" stop-color="#df884a"/><stop offset="0.750" stop-color="#df7753"/><stop offset="0.812" stop-color="#d96160"/><stop offset="0.875" stop-color="#cc4773"/><stop offset="0.938" stop-color="#b32589"/><stop offset="1.000" stop-color="#891f9b"/></linearGradient><linearGradient id="hc86"><stop offset="0.000" stop-color="#ddd331"/><stop offset="0.062" stop-color="#ddd331"/><stop offset="0.125" stop-color="#ddd431"/><stop offset="0.188" stop-color="#ded433"/><stop offset="0.250" stop-color="#dfd338"/><stop offset="0.312" stop-color="#e0d03a"/><stop offset="0.375" stop-color="#e2cc3b"/><stop offset="0.438" stop-color="#dfc03b"/><stop offset="0.500" stop-color="#e2b637"/><stop offset="0.562" stop-color="#e0a941"/><stop offset="0.625" stop-color="#df9a46"/><stop offset="0.688" stop-color="#df884a"/><stop offset="0.750" stop-color="#df7753"/><stop offset="0.812" stop-color="#d96160"/><stop offset="0.875" stop-color="#cc4773"/><stop offset="0.938" stop-color="#b32589"/><stop offset="1.000" stop-color="#891f9b"/></linearGradient><linearGradient id="hc87"><stop offset="0.000" stop-color="#ddd331"/><stop offset="0.062" stop-color="#ddd331"/><stop offset="0.125" stop-color="#ddd431"/><stop offset="0.188" stop-color="#ded433"/><stop offset="0.250" stop-color="#dfd338"/><stop offset="0.312" stop-color="#e0d03a"/><stop offset="0.375" stop-color="#e2cc3b"/><stop offset="0.438" stop-color="#dfc03b"/><stop offset="0.500" stop-color="#e2b637"/><stop offset="0.562" stop-color="#dfa941"/><stop offset="0.625" stop-color="#df9a46"/><stop offset="0.688" stop-color="#df894a"/><stop offset="0.750" stop-color="#df7753"/><stop offset="0.812" stop-color="#d96160"/><stop offset="0.875" stop-color="#cc4773"/><stop offset="0.938" stop-color="#b32589"/><stop offset="1.000" stop-color="#891f9b"/></linearGradient></defs>
<clipPath id="hcclip"><rect x="89.3" y="283.4" width="181.89999999999998" height="173.70000000000005"/></clipPath>
<g clip-path="url(#hcclip)" shape-rendering="crispEdges"><rect x="89.3" y="283" width="181.89999999999998" height="2" fill="url(#hc0)"/><rect x="89.3" y="285" width="181.89999999999998" height="2" fill="url(#hc1)"/><rect x="89.3" y="287" width="181.89999999999998" height="2" fill="url(#hc2)"/><rect x="89.3" y="289" width="181.89999999999998" height="2" fill="url(#hc3)"/><rect x="89.3" y="291" width="181.89999999999998" height="2" fill="url(#hc4)"/><rect x="89.3" y="293" width="181.89999999999998" height="2" fill="url(#hc5)"/><rect x="89.3" y="295" width="181.89999999999998" height="2" fill="url(#hc6)"/><rect x="89.3" y="297" width="181.89999999999998" height="2" fill="url(#hc7)"/><rect x="89.3" y="299" width="181.89999999999998" height="2" fill="url(#hc8)"/><rect x="89.3" y="301" width="181.89999999999998" height="2" fill="url(#hc9)"/><rect x="89.3" y="303" width="181.89999999999998" height="2" fill="url(#hc10)"/><rect x="89.3" y="305" width="181.89999999999998" height="2" fill="url(#hc11)"/><rect x="89.3" y="307" width="181.89999999999998" height="2" fill="url(#hc12)"/><rect x="89.3" y="309" width="181.89999999999998" height="2" fill="url(#hc13)"/><rect x="89.3" y="311" width="181.89999999999998" height="2" fill="url(#hc14)"/><rect x="89.3" y="313" width="181.89999999999998" height="2" fill="url(#hc15)"/><rect x="89.3" y="315" width="181.89999999999998" height="2" fill="url(#hc16)"/><rect x="89.3" y="317" width="181.89999999999998" height="2" fill="url(#hc17)"/><rect x="89.3" y="319" width="181.89999999999998" height="2" fill="url(#hc18)"/><rect x="89.3" y="321" width="181.89999999999998" height="2" fill="url(#hc19)"/><rect x="89.3" y="323" width="181.89999999999998" height="2" fill="url(#hc20)"/><rect x="89.3" y="325" width="181.89999999999998" height="2" fill="url(#hc21)"/><rect x="89.3" y="327" width="181.89999999999998" height="2" fill="url(#hc22)"/><rect x="89.3" y="329" width="181.89999999999998" height="2" fill="url(#hc23)"/><rect x="89.3" y="331" width="181.89999999999998" height="2" fill="url(#hc24)"/><rect x="89.3" y="333" width="181.89999999999998" height="2" fill="url(#hc25)"/><rect x="89.3" y="335" width="181.89999999999998" height="2" fill="url(#hc26)"/><rect x="89.3" y="337" width="181.89999999999998" height="2" fill="url(#hc27)"/><rect x="89.3" y="339" width="181.89999999999998" height="2" fill="url(#hc28)"/><rect x="89.3" y="341" width="181.89999999999998" height="2" fill="url(#hc29)"/><rect x="89.3" y="343" width="181.89999999999998" height="2" fill="url(#hc30)"/><rect x="89.3" y="345" width="181.89999999999998" height="2" fill="url(#hc31)"/><rect x="89.3" y="347" width="181.89999999999998" height="2" fill="url(#hc32)"/><rect x="89.3" y="349" width="181.89999999999998" height="2" fill="url(#hc33)"/><rect x="89.3" y="351" width="181.89999999999998" height="2" fill="url(#hc34)"/><rect x="89.3" y="353" width="181.89999999999998" height="2" fill="url(#hc35)"/><rect x="89.3" y="355" width="181.89999999999998" height="2" fill="url(#hc36)"/><rect x="89.3" y="357" width="181.89999999999998" height="2" fill="url(#hc37)"/><rect x="89.3" y="359" width="181.89999999999998" height="2" fill="url(#hc38)"/><rect x="89.3" y="361" width="181.89999999999998" height="2" fill="url(#hc39)"/><rect x="89.3" y="363" width="181.89999999999998" height="2" fill="url(#hc40)"/><rect x="89.3" y="365" width="181.89999999999998" height="2" fill="url(#hc41)"/><rect x="89.3" y="367" width="181.89999999999998" height="2" fill="url(#hc42)"/><rect x="89.3" y="369" width="181.89999999999998" height="2" fill="url(#hc43)"/><rect x="89.3" y="371" width="181.89999999999998" height="2" fill="url(#hc44)"/><rect x="89.3" y="373" width="181.89999999999998" height="2" fill="url(#hc45)"/><rect x="89.3" y="375" width="181.89999999999998" height="2" fill="url(#hc46)"/><rect x="89.3" y="377" width="181.89999999999998" height="2" fill="url(#hc47)"/><rect x="89.3" y="379" width="181.89999999999998" height="2" fill="url(#hc48)"/><rect x="89.3" y="381" width="181.89999999999998" height="2" fill="url(#hc49)"/><rect x="89.3" y="383" width="181.89999999999998" height="2" fill="url(#hc50)"/><rect x="89.3" y="385" width="181.89999999999998" height="2" fill="url(#hc51)"/><rect x="89.3" y="387" width="181.89999999999998" height="2" fill="url(#hc52)"/><rect x="89.3" y="389" width="181.89999999999998" height="2" fill="url(#hc53)"/><rect x="89.3" y="391" width="181.89999999999998" height="2" fill="url(#hc54)"/><rect x="89.3" y="393" width="181.89999999999998" height="2" fill="url(#hc55)"/><rect x="89.3" y="395" width="181.89999999999998" height="2" fill="url(#hc56)"/><rect x="89.3" y="397" width="181.89999999999998" height="2" fill="url(#hc57)"/><rect x="89.3" y="399" width="181.89999999999998" height="2" fill="url(#hc58)"/><rect x="89.3" y="401" width="181.89999999999998" height="2" fill="url(#hc59)"/><rect x="89.3" y="403" width="181.89999999999998" height="2" fill="url(#hc60)"/><rect x="89.3" y="405" width="181.89999999999998" height="2" fill="url(#hc61)"/><rect x="89.3" y="407" width="181.89999999999998" height="2" fill="url(#hc62)"/><rect x="89.3" y="409" width="181.89999999999998" height="2" fill="url(#hc63)"/><rect x="89.3" y="411" width="181.89999999999998" height="2" fill="url(#hc64)"/><rect x="89.3" y="413" width="181.89999999999998" height="2" fill="url(#hc65)"/><rect x="89.3" y="415" width="181.89999999999998" height="2" fill="url(#hc66)"/><rect x="89.3" y="417" width="181.89999999999998" height="2" fill="url(#hc67)"/><rect x="89.3" y="419" width="181.89999999999998" height="2" fill="url(#hc68)"/><rect x="89.3" y="421" width="181.89999999999998" height="2" fill="url(#hc69)"/><rect x="89.3" y="423" width="181.89999999999998" height="2" fill="url(#hc70)"/><rect x="89.3" y="425" width="181.89999999999998" height="2" fill="url(#hc71)"/><rect x="89.3" y="427" width="181.89999999999998" height="2" fill="url(#hc72)"/><rect x="89.3" y="429" width="181.89999999999998" height="2" fill="url(#hc73)"/><rect x="89.3" y="431" width="181.89999999999998" height="2" fill="url(#hc74)"/><rect x="89.3" y="433" width="181.89999999999998" height="2" fill="url(#hc75)"/><rect x="89.3" y="435" width="181.89999999999998" height="2" fill="url(#hc76)"/><rect x="89.3" y="437" width="181.89999999999998" height="2" fill="url(#hc77)"/><rect x="89.3" y="439" width="181.89999999999998" height="2" fill="url(#hc78)"/><rect x="89.3" y="441" width="181.89999999999998" height="2" fill="url(#hc79)"/><rect x="89.3" y="443" width="181.89999999999998" height="2" fill="url(#hc80)"/><rect x="89.3" y="445" width="181.89999999999998" height="2" fill="url(#hc81)"/><rect x="89.3" y="447" width="181.89999999999998" height="2" fill="url(#hc82)"/><rect x="89.3" y="449" width="181.89999999999998" height="2" fill="url(#hc83)"/><rect x="89.3" y="451" width="181.89999999999998" height="2" fill="url(#hc84)"/><rect x="89.3" y="453" width="181.89999999999998" height="2" fill="url(#hc85)"/><rect x="89.3" y="455" width="181.89999999999998" height="2" fill="url(#hc86)"/><rect x="89.3" y="457" width="181.89999999999998" height="2" fill="url(#hc87)"/></g>
<mask id="ccm"><rect x="89.3" y="283.4" width="181.89999999999998" height="173.70000000000005" fill="#fff"/><rect x="162" y="370" width="50" height="25.5" fill="#000"/><rect x="195.5" y="320" width="50.5" height="27" fill="#000"/><rect x="124.5" y="280" width="48.5" height="15" fill="#000"/><rect x="230" y="285" width="42" height="25" fill="#000"/></mask>
<clipPath id="cc"><rect x="89.3" y="283.4" width="181.89999999999998" height="173.70000000000005"/></clipPath>
<g clip-path="url(#cc)"><path d="M89.30,369.08L90.21,368.87L91.12,368.67L91.80,368.51L92.03,368.46L92.94,368.26L93.85,368.06L94.76,367.86L95.67,367.67L95.79,367.64L96.58,367.48L97.49,367.29L98.39,367.11L99.30,366.93L100.07,366.78L100.21,366.75L101.12,366.57L102.03,366.40L102.94,366.23L103.85,366.07L104.74,365.91L104.76,365.90L105.67,365.75L106.58,365.59L107.49,365.44L108.40,365.29L109.31,365.15L110.01,365.04L110.22,365.01L111.13,364.87L112.04,364.74L112.95,364.61L113.86,364.49L114.77,364.37L115.68,364.25L116.33,364.17L116.58,364.14L117.49,364.03L118.40,363.93L119.31,363.83L120.22,363.74L121.13,363.65L122.04,363.57L122.95,363.49L123.86,363.42L124.77,363.35L125.44,363.30L125.68,363.29L126.59,363.23L127.50,363.18L128.41,363.13L129.32,363.09L130.23,363.06L131.14,363.03L132.05,363.01L132.96,362.99L133.87,362.98L134.77,362.98L135.68,362.98L136.59,362.99L137.50,363.01L138.41,363.03L139.32,363.06L140.23,363.10L141.14,363.15L142.05,363.20L142.96,363.26L143.48,363.30L143.87,363.33L144.78,363.41L145.69,363.50L146.60,363.59L147.51,363.70L148.42,363.81L149.33,363.94L150.24,364.07L150.89,364.17L151.15,364.21L152.06,364.36L152.97,364.53L153.87,364.70L154.78,364.89L155.50,365.04L155.69,365.08L156.60,365.29L157.51,365.51L158.42,365.74L159.05,365.91L159.33,365.98L160.24,366.24L161.15,366.51L162.00,366.78L162.06,366.80L162.97,367.09L163.88,367.41L164.54,367.64L164.79,367.73L165.70,368.08L166.61,368.44L166.80,368.51L167.52,368.81L168.43,369.20L168.82,369.38L169.34,369.62L170.25,370.04L170.67,370.25L171.15,370.49L172.06,370.96L172.37,371.12L172.97,371.45L173.88,371.95L173.94,371.99L174.79,372.49L175.41,372.86L175.70,373.04L176.61,373.61L176.78,373.72L177.52,374.22L178.07,374.59L178.43,374.84L179.29,375.46L179.34,375.50L180.25,376.18L180.44,376.33L181.16,376.89L181.54,377.20L182.07,377.64L182.58,378.07L182.98,378.41L183.57,378.94L183.89,379.22L184.52,379.80L184.80,380.07L185.42,380.67L185.71,380.95L186.29,381.54L186.62,381.88L187.12,382.41L187.53,382.84L187.92,383.28L188.44,383.85L188.69,384.15L189.34,384.91L189.43,385.01L190.14,385.88L190.25,386.02L190.83,386.75L191.16,387.19L191.49,387.62L192.07,388.41L192.13,388.49L192.75,389.36L192.98,389.70L193.34,390.23L193.89,391.05L193.92,391.09L194.48,391.96L194.80,392.48L195.02,392.83L195.54,393.70L195.71,393.99L196.05,394.57L196.54,395.44L196.62,395.59L197.01,396.31L197.47,397.17L197.53,397.28L197.92,398.04L198.35,398.91L198.44,399.09L198.77,399.78L199.18,400.65L199.35,401.02L199.58,401.52L199.96,402.38L200.26,403.08L200.33,403.25L200.69,404.12L201.05,404.99L201.17,405.30L201.39,405.86L201.72,406.73L202.04,407.60L202.08,407.70L202.35,408.46L202.66,409.33L202.95,410.20L202.99,410.31L203.24,411.07L203.51,411.94L203.78,412.81L203.90,413.18L204.05,413.68L204.30,414.54L204.55,415.41L204.79,416.28L204.81,416.36L205.02,417.15L205.24,418.02L205.46,418.89L205.67,419.75L205.72,419.94L205.88,420.62L206.07,421.49L206.27,422.36L206.45,423.23L206.63,424.05L206.64,424.10L206.81,424.97L206.98,425.83L207.14,426.70L207.30,427.57L207.45,428.44L207.53,428.92L207.60,429.31L207.74,430.18L207.88,431.05L208.01,431.91L208.14,432.78L208.26,433.65L208.38,434.52L208.44,435.01L208.49,435.39L208.60,436.26L208.71,437.12L208.81,437.99L208.90,438.86L208.99,439.73L209.08,440.60L209.16,441.47L209.24,442.34L209.32,443.20L209.35,443.61L209.39,444.07L209.46,444.94L209.52,445.81L209.58,446.68L209.64,447.55L209.69,448.42L209.74,449.28L209.79,450.15L209.83,451.02L209.87,451.89L209.91,452.76L209.94,453.63L209.97,454.49L209.99,455.36L210.02,456.23L210.04,457.10 M89.30,333.58L90.21,333.28L91.12,332.98L91.35,332.90L92.03,332.68L92.94,332.39L93.85,332.10L94.03,332.04L94.76,331.80L95.67,331.51L96.58,331.22L96.75,331.17L97.49,330.93L98.39,330.65L99.30,330.36L99.51,330.30L100.21,330.08L101.12,329.80L102.03,329.52L102.31,329.43L102.94,329.24L103.85,328.96L104.76,328.68L105.17,328.56L105.67,328.41L106.58,328.14L107.49,327.87L108.08,327.69L108.40,327.60L109.31,327.33L110.22,327.07L111.05,326.83L111.13,326.80L112.04,326.54L112.95,326.28L113.86,326.03L114.11,325.96L114.77,325.77L115.68,325.52L116.58,325.27L117.24,325.09L117.49,325.02L118.40,324.77L119.31,324.53L120.22,324.29L120.48,324.22L121.13,324.05L122.04,323.81L122.95,323.58L123.83,323.35L123.86,323.34L124.77,323.12L125.68,322.89L126.59,322.66L127.33,322.48L127.50,322.44L128.41,322.22L129.32,322.01L130.23,321.79L131.01,321.61L131.14,321.58L132.05,321.38L132.96,321.17L133.87,320.97L134.77,320.77L134.91,320.75L135.68,320.58L136.59,320.39L137.50,320.20L138.41,320.01L139.10,319.88L139.32,319.83L140.23,319.66L141.14,319.48L142.05,319.31L142.96,319.14L143.71,319.01L143.87,318.98L144.78,318.82L145.69,318.66L146.60,318.51L147.51,318.37L148.42,318.22L148.95,318.14L149.33,318.08L150.24,317.95L151.15,317.82L152.06,317.69L152.97,317.57L153.87,317.45L154.78,317.34L155.39,317.27L155.69,317.24L156.60,317.13L157.51,317.04L158.42,316.95L159.33,316.86L160.24,316.78L161.15,316.70L162.06,316.63L162.97,316.57L163.88,316.51L164.79,316.46L165.70,316.41L165.82,316.40L166.61,316.37L167.52,316.33L168.43,316.31L169.34,316.29L170.25,316.27L171.15,316.26L172.06,316.26L172.97,316.27L173.88,316.28L174.79,316.30L175.70,316.33L176.61,316.37L177.27,316.40L177.52,316.42L178.43,316.47L179.34,316.53L180.25,316.60L181.16,316.68L182.07,316.77L182.98,316.87L183.89,316.97L184.80,317.09L185.71,317.21L186.10,317.27L186.62,317.35L187.53,317.50L188.44,317.65L189.34,317.82L190.25,318.00L190.92,318.14L191.16,318.19L192.07,318.40L192.98,318.61L193.89,318.84L194.55,319.01L194.80,319.08L195.71,319.33L196.62,319.60L197.53,319.88L197.53,319.88L198.44,320.17L199.35,320.48L200.09,320.75L200.26,320.81L201.17,321.15L202.08,321.50L202.35,321.61L202.99,321.88L203.90,322.26L204.39,322.48L204.81,322.67L205.72,323.10L206.24,323.35L206.63,323.54L207.53,324.01L207.94,324.22L208.44,324.49L209.35,324.99L209.52,325.09L210.26,325.52L210.99,325.96L211.17,326.07L212.08,326.64L212.37,326.83L212.99,327.24L213.66,327.69L213.90,327.86L214.81,328.50L214.89,328.56L215.72,329.18L216.05,329.43L216.63,329.88L217.16,330.30L217.54,330.61L218.21,331.17L218.45,331.37L219.22,332.04L219.36,332.16L220.18,332.90L220.27,332.99L221.10,333.77L221.18,333.85L221.98,334.64L222.09,334.75L222.83,335.51L223.00,335.68L223.65,336.38L223.91,336.66L224.43,337.25L224.82,337.68L225.19,338.12L225.72,338.74L225.93,338.98L226.63,339.85L226.63,339.85L227.32,340.72L227.54,341.01L227.98,341.59L228.45,342.23L228.62,342.46L229.24,343.33L229.36,343.50L229.84,344.19L230.27,344.83L230.43,345.06L230.99,345.93L231.18,346.23L231.54,346.80L232.08,347.67L232.09,347.69L232.60,348.54L233.00,349.23L233.10,349.41L233.59,350.27L233.91,350.85L234.07,351.14L234.53,352.01L234.82,352.56L234.99,352.88L235.43,353.75L235.73,354.36L235.85,354.62L236.27,355.49L236.64,356.27L236.68,356.35L237.08,357.22L237.46,358.09L237.55,358.29L237.84,358.96L238.21,359.83L238.46,360.43L238.57,360.70L238.91,361.56L239.26,362.43L239.37,362.72L239.59,363.30L239.91,364.17L240.23,365.04L240.28,365.17L240.54,365.91L240.84,366.78L241.14,367.64L241.19,367.80L241.42,368.51L241.70,369.38L241.98,370.25L242.10,370.63L242.25,371.12L242.51,371.99L242.76,372.86L243.01,373.71L243.01,373.72L243.25,374.59L243.49,375.46L243.72,376.33L243.91,377.07L243.95,377.20L244.17,378.07L244.38,378.94L244.59,379.80L244.80,380.67L244.82,380.78L245.00,381.54L245.20,382.41L245.39,383.28L245.57,384.15L245.73,384.91L245.76,385.01L245.93,385.88L246.10,386.75L246.27,387.62L246.44,388.49L246.60,389.36L246.64,389.60L246.75,390.23L246.91,391.09L247.06,391.96L247.20,392.83L247.34,393.70L247.48,394.57L247.55,395.04L247.61,395.44L247.74,396.31L247.87,397.17L247.99,398.04L248.11,398.91L248.23,399.78L248.34,400.65L248.45,401.52L248.46,401.58L248.56,402.38L248.67,403.25L248.77,404.12L248.87,404.99L248.96,405.86L249.05,406.73L249.14,407.60L249.23,408.46L249.32,409.33L249.37,409.93L249.40,410.20L249.48,411.07L249.55,411.94L249.63,412.81L249.70,413.68L249.77,414.54L249.83,415.41L249.90,416.28L249.96,417.15L250.02,418.02L250.08,418.89L250.13,419.75L250.19,420.62L250.24,421.49L250.28,422.26L250.29,422.36L250.33,423.23L250.38,424.10L250.42,424.97L250.46,425.83L250.50,426.70L250.54,427.57L250.57,428.44L250.61,429.31L250.64,430.18L250.67,431.05L250.70,431.91L250.72,432.78L250.75,433.65L250.77,434.52L250.79,435.39L250.81,436.26L250.83,437.12L250.84,437.99L250.86,438.86L250.87,439.73L250.89,440.60L250.90,441.47L250.91,442.34L250.91,443.20L250.92,444.07L250.93,444.94L250.93,445.81L250.93,446.68L250.93,447.55L250.93,448.42L250.93,449.28L250.93,450.15L250.93,451.02L250.92,451.89L250.92,452.76L250.91,453.63L250.90,454.49L250.90,455.36L250.89,456.23L250.87,457.10 M89.30,306.36L90.21,305.99L90.23,305.98L91.12,305.62L92.03,305.26L92.39,305.11L92.94,304.89L93.85,304.53L94.56,304.24L94.76,304.16L95.67,303.80L96.58,303.44L96.73,303.38L97.49,303.08L98.39,302.71L98.92,302.51L99.30,302.35L100.21,301.99L101.11,301.64L101.12,301.63L102.03,301.27L102.94,300.91L103.31,300.77L103.85,300.56L104.76,300.20L105.53,299.90L105.67,299.84L106.58,299.49L107.49,299.14L107.75,299.03L108.40,298.78L109.31,298.43L109.99,298.16L110.22,298.08L111.13,297.73L112.04,297.38L112.25,297.30L112.95,297.03L113.86,296.68L114.52,296.43L114.77,296.33L115.68,295.99L116.58,295.64L116.81,295.56L117.49,295.30L118.40,294.96L119.12,294.69L119.31,294.62L120.22,294.28L121.13,293.94L121.44,293.82L122.04,293.60L122.95,293.26L123.79,292.95L123.86,292.93L124.77,292.59L125.68,292.26L126.17,292.08L126.59,291.93L127.50,291.60L128.41,291.27L128.57,291.22L129.32,290.95L130.23,290.62L130.99,290.35L131.14,290.30L132.05,289.98L132.96,289.65L133.46,289.48L133.87,289.34L134.77,289.02L135.68,288.70L135.95,288.61L136.59,288.39L137.50,288.08L138.41,287.77L138.48,287.74L139.32,287.46L140.23,287.15L141.06,286.87L141.14,286.85L142.05,286.55L142.96,286.24L143.69,286.01L143.87,285.95L144.78,285.65L145.69,285.36L146.37,285.14L146.60,285.06L147.51,284.77L148.42,284.49L149.11,284.27L149.33,284.20L150.24,283.92L151.15,283.64L151.92,283.40 M241.63,283.40L242.10,283.70L242.93,284.27L243.01,284.32L243.91,284.97L244.15,285.14L244.82,285.64L245.30,286.01L245.73,286.34L246.39,286.87L246.64,287.08L247.44,287.74L247.55,287.84L248.43,288.61L248.46,288.64L249.37,289.47L249.38,289.48L250.28,290.34L250.29,290.35L251.16,291.22L251.19,291.25L251.99,292.08L252.10,292.20L252.80,292.95L253.01,293.19L253.57,293.82L253.92,294.22L254.32,294.69L254.83,295.30L255.04,295.56L255.74,296.42L255.74,296.43L256.42,297.30L256.65,297.60L257.07,298.16L257.56,298.83L257.70,299.03L258.32,299.90L258.47,300.12L258.91,300.77L259.38,301.47L259.49,301.64L260.05,302.51L260.29,302.88L260.59,303.38L261.12,304.24L261.20,304.37L261.63,305.11L262.10,305.93L262.14,305.98L262.62,306.85L263.01,307.56L263.10,307.72L263.56,308.59L263.92,309.29L264.01,309.45L264.45,310.32L264.83,311.11L264.88,311.19L265.29,312.06L265.70,312.93L265.74,313.02L266.10,313.80L266.48,314.67L266.65,315.05L266.86,315.53L267.23,316.40L267.56,317.20L267.59,317.27L267.94,318.14L268.29,319.01L268.47,319.49L268.62,319.88L268.95,320.75L269.27,321.61L269.38,321.92L269.58,322.48L269.89,323.35L270.19,324.22L270.29,324.52L270.48,325.09L270.77,325.96L271.05,326.83L271.20,327.31" fill="none" stroke="#262626" stroke-opacity="0.9" stroke-width="1.6" mask="url(#ccm)"/></g>
<g clip-path="url(#cc)">
<text transform="translate(125.00,292.10) scale(1,1.03)" class="cl">1.063</text>
<text transform="translate(232.20,302.00) scale(1,1.03)" class="cl">1.06</text>
<text transform="translate(196.90,338.10) scale(1,1.03)" class="cl">1.042</text>
<text transform="translate(163.80,388.00) scale(1,1.03)" class="cl">1.021</text>
</g>
<rect x="89.3" y="283.4" width="181.89999999999998" height="173.70000000000005" fill="none" stroke="#1e1e1e" stroke-width="1.3"/>
<path d="M89.30,457.10v2.4 M89.30,457.10h-2.4 M180.25,457.10v2.4 M89.30,370.25h-2.4 M271.20,457.10v2.4 M89.30,283.40h-2.4" stroke="#1e1e1e" stroke-width="1.1" fill="none"/>
<text transform="translate(89.30,480.80) scale(1,1.03)" text-anchor="middle" class="tk">0.0</text>
<text transform="translate(85.70,464.00) scale(1,1.05)" text-anchor="end" class="tk">0.0</text>
<text transform="translate(180.25,480.80) scale(1,1.03)" text-anchor="middle" class="tk">0.1</text>
<text transform="translate(85.70,377.15) scale(1,1.05)" text-anchor="end" class="tk">0.1</text>
<text transform="translate(271.20,480.80) scale(1,1.03)" text-anchor="middle" class="tk">0.2</text>
<text transform="translate(85.70,290.30) scale(1,1.05)" text-anchor="end" class="tk">0.2</text>
<text transform="translate(179.25,511.7) scale(1,1.03)" text-anchor="middle" class="tk"><tspan font-style="italic">δr</tspan><tspan font-size="15" dx="2.4" dy="4">1</tspan></text>
<text transform="translate(47.80,370.25) rotate(-90)" text-anchor="middle" class="tk"><tspan font-style="italic">δr</tspan><tspan font-size="15" dx="2.4" dy="4">2</tspan></text>
<text x="93.5" y="445" class="pl">(c)</text>
<defs><linearGradient id="cbc" x1="0" y1="0" x2="0" y2="1"><stop offset="0.000" stop-color="#1f286e"/><stop offset="0.025" stop-color="#242872"/><stop offset="0.050" stop-color="#2a2675"/><stop offset="0.075" stop-color="#2f2578"/><stop offset="0.100" stop-color="#35247b"/><stop offset="0.125" stop-color="#3b237f"/><stop offset="0.150" stop-color="#422285"/><stop offset="0.175" stop-color="#4c228c"/><stop offset="0.200" stop-color="#552192"/><stop offset="0.225" stop-color="#5d1f98"/><stop offset="0.250" stop-color="#691f9e"/><stop offset="0.275" stop-color="#72209f"/><stop offset="0.300" stop-color="#7b1f9e"/><stop offset="0.325" stop-color="#851f9c"/><stop offset="0.350" stop-color="#902198"/><stop offset="0.375" stop-color="#9b2294"/><stop offset="0.400" stop-color="#a5248f"/><stop offset="0.425" stop-color="#b0248a"/><stop offset="0.450" stop-color="#bc2e85"/><stop offset="0.475" stop-color="#c4387d"/><stop offset="0.500" stop-color="#c94078"/><stop offset="0.525" stop-color="#ce4a70"/><stop offset="0.550" stop-color="#d3526a"/><stop offset="0.575" stop-color="#d65a65"/><stop offset="0.600" stop-color="#db625f"/><stop offset="0.625" stop-color="#df695b"/><stop offset="0.650" stop-color="#e07257"/><stop offset="0.675" stop-color="#df7952"/><stop offset="0.700" stop-color="#dd804e"/><stop offset="0.725" stop-color="#de884a"/><stop offset="0.750" stop-color="#e09048"/><stop offset="0.775" stop-color="#df9846"/><stop offset="0.800" stop-color="#df9f45"/><stop offset="0.825" stop-color="#e0a842"/><stop offset="0.850" stop-color="#e2b03c"/><stop offset="0.875" stop-color="#e1b739"/><stop offset="0.900" stop-color="#dfbf3b"/><stop offset="0.925" stop-color="#e1c93c"/><stop offset="0.950" stop-color="#e1d03b"/><stop offset="0.975" stop-color="#ded336"/><stop offset="1.000" stop-color="#ddd331"/></linearGradient></defs>
<rect x="298.5" y="283.4" width="8.199999999999989" height="173.70000000000005" fill="url(#cbc)" stroke="#1e1e1e" stroke-width="1.2"/>
<text transform="translate(317.70,291.70) scale(1,1.03)" class="tk">1.08</text>
<text transform="translate(317.70,349.60) scale(1,1.03)" class="tk">1.06</text>
<text transform="translate(317.70,407.50) scale(1,1.03)" class="tk">1.03</text>
<text transform="translate(317.70,465.40) scale(1,1.03)" class="tk">1.00</text>
<path d="M306.70,283.40h2 M306.70,341.30h2 M306.70,399.20h2 M306.70,457.10h2" stroke="#1e1e1e" stroke-width="1" fill="none"/>
<path d="M294.7,257.0L289.5,268.6L294.7,280.2M311.3,257.0L316.5,268.6L311.3,280.2" stroke="#111" stroke-width="1.15" fill="none"/>
<text transform="translate(296.0,274.8) scale(1.2,1)" class="tk" style="font-size:23px;font-style:italic">n</text>
<path d="M299.6,261.8L302.9,257.8L306.2,261.8" stroke="#111" stroke-width="1.1" fill="none"/>
<defs><linearGradient id="hd0"><stop offset="0.000" stop-color="#dd7f4d"/><stop offset="0.062" stop-color="#de844d"/><stop offset="0.125" stop-color="#de864b"/><stop offset="0.188" stop-color="#de864b"/><stop offset="0.250" stop-color="#de824e"/><stop offset="0.312" stop-color="#dd7d50"/><stop offset="0.375" stop-color="#df7653"/><stop offset="0.438" stop-color="#df6b59"/><stop offset="0.500" stop-color="#d85e61"/><stop offset="0.562" stop-color="#d24f6d"/><stop offset="0.625" stop-color="#c43b7c"/><stop offset="0.688" stop-color="#ac258c"/><stop offset="0.750" stop-color="#8e2199"/><stop offset="0.812" stop-color="#6f1f9f"/><stop offset="0.875" stop-color="#4e228e"/><stop offset="0.938" stop-color="#33247b"/><stop offset="1.000" stop-color="#1f286e"/></linearGradient><linearGradient id="hd1"><stop offset="0.000" stop-color="#dd804e"/><stop offset="0.062" stop-color="#de854c"/><stop offset="0.125" stop-color="#de874b"/><stop offset="0.188" stop-color="#de874c"/><stop offset="0.250" stop-color="#de844d"/><stop offset="0.312" stop-color="#de7e4e"/><stop offset="0.375" stop-color="#df7753"/><stop offset="0.438" stop-color="#e06d58"/><stop offset="0.500" stop-color="#d96060"/><stop offset="0.562" stop-color="#d2506c"/><stop offset="0.625" stop-color="#c53b7b"/><stop offset="0.688" stop-color="#ae248b"/><stop offset="0.750" stop-color="#902199"/><stop offset="0.812" stop-color="#71209f"/><stop offset="0.875" stop-color="#4f218e"/><stop offset="0.938" stop-color="#34247b"/><stop offset="1.000" stop-color="#1f286e"/></linearGradient><linearGradient id="hd2"><stop offset="0.000" stop-color="#de814e"/><stop offset="0.062" stop-color="#de874c"/><stop offset="0.125" stop-color="#de884a"/><stop offset="0.188" stop-color="#de884a"/><stop offset="0.250" stop-color="#de854c"/><stop offset="0.312" stop-color="#dd7f4d"/><stop offset="0.375" stop-color="#df7852"/><stop offset="0.438" stop-color="#e06e58"/><stop offset="0.500" stop-color="#d96160"/><stop offset="0.562" stop-color="#d1516b"/><stop offset="0.625" stop-color="#c53c7a"/><stop offset="0.688" stop-color="#b0248b"/><stop offset="0.750" stop-color="#912198"/><stop offset="0.812" stop-color="#72209f"/><stop offset="0.875" stop-color="#50218f"/><stop offset="0.938" stop-color="#35247b"/><stop offset="1.000" stop-color="#20286f"/></linearGradient><linearGradient id="hd3"><stop offset="0.000" stop-color="#de844d"/><stop offset="0.062" stop-color="#de884b"/><stop offset="0.125" stop-color="#df8a49"/><stop offset="0.188" stop-color="#df894a"/><stop offset="0.250" stop-color="#de864b"/><stop offset="0.312" stop-color="#dd804e"/><stop offset="0.375" stop-color="#df7952"/><stop offset="0.438" stop-color="#e06f58"/><stop offset="0.500" stop-color="#db6260"/><stop offset="0.562" stop-color="#d3526b"/><stop offset="0.625" stop-color="#c63e7a"/><stop offset="0.688" stop-color="#b1248a"/><stop offset="0.750" stop-color="#922298"/><stop offset="0.812" stop-color="#72209f"/><stop offset="0.875" stop-color="#512190"/><stop offset="0.938" stop-color="#35247b"/><stop offset="1.000" stop-color="#20286f"/></linearGradient><linearGradient id="hd4"><stop offset="0.000" stop-color="#de844c"/><stop offset="0.062" stop-color="#df894a"/><stop offset="0.125" stop-color="#df8b49"/><stop offset="0.188" stop-color="#e08b49"/><stop offset="0.250" stop-color="#de874b"/><stop offset="0.312" stop-color="#de824e"/><stop offset="0.375" stop-color="#de7b51"/><stop offset="0.438" stop-color="#e07057"/><stop offset="0.500" stop-color="#db625f"/><stop offset="0.562" stop-color="#d4546a"/><stop offset="0.625" stop-color="#c73f79"/><stop offset="0.688" stop-color="#b22589"/><stop offset="0.750" stop-color="#932398"/><stop offset="0.812" stop-color="#73219f"/><stop offset="0.875" stop-color="#522190"/><stop offset="0.938" stop-color="#36247c"/><stop offset="1.000" stop-color="#212870"/></linearGradient><linearGradient id="hd5"><stop offset="0.000" stop-color="#de864b"/><stop offset="0.062" stop-color="#e08b49"/><stop offset="0.125" stop-color="#e08c49"/><stop offset="0.188" stop-color="#df8c49"/><stop offset="0.250" stop-color="#df884a"/><stop offset="0.312" stop-color="#de844d"/><stop offset="0.375" stop-color="#de7c51"/><stop offset="0.438" stop-color="#e07157"/><stop offset="0.500" stop-color="#db635e"/><stop offset="0.562" stop-color="#d35569"/><stop offset="0.625" stop-color="#c84079"/><stop offset="0.688" stop-color="#b42589"/><stop offset="0.750" stop-color="#952398"/><stop offset="0.812" stop-color="#74209f"/><stop offset="0.875" stop-color="#532191"/><stop offset="0.938" stop-color="#36247c"/><stop offset="1.000" stop-color="#212870"/></linearGradient><linearGradient id="hd6"><stop offset="0.000" stop-color="#de874b"/><stop offset="0.062" stop-color="#df8b49"/><stop offset="0.125" stop-color="#e08e49"/><stop offset="0.188" stop-color="#e08e49"/><stop offset="0.250" stop-color="#df8b49"/><stop offset="0.312" stop-color="#de844c"/><stop offset="0.375" stop-color="#de7d50"/><stop offset="0.438" stop-color="#e07356"/><stop offset="0.500" stop-color="#dc655d"/><stop offset="0.562" stop-color="#d45668"/><stop offset="0.625" stop-color="#c94178"/><stop offset="0.688" stop-color="#b52788"/><stop offset="0.750" stop-color="#952397"/><stop offset="0.812" stop-color="#75209f"/><stop offset="0.875" stop-color="#542191"/><stop offset="0.938" stop-color="#36247c"/><stop offset="1.000" stop-color="#222870"/></linearGradient><linearGradient id="hd7"><stop offset="0.000" stop-color="#df884a"/><stop offset="0.062" stop-color="#e08d49"/><stop offset="0.125" stop-color="#e09048"/><stop offset="0.188" stop-color="#e08f48"/><stop offset="0.250" stop-color="#df8b49"/><stop offset="0.312" stop-color="#de864b"/><stop offset="0.375" stop-color="#dd7e4f"/><stop offset="0.438" stop-color="#df7456"/><stop offset="0.500" stop-color="#dd665c"/><stop offset="0.562" stop-color="#d55768"/><stop offset="0.625" stop-color="#c94377"/><stop offset="0.688" stop-color="#b72787"/><stop offset="0.750" stop-color="#962397"/><stop offset="0.812" stop-color="#76209f"/><stop offset="0.875" stop-color="#552192"/><stop offset="0.938" stop-color="#37247d"/><stop offset="1.000" stop-color="#222870"/></linearGradient><linearGradient id="hd8"><stop offset="0.000" stop-color="#df8a49"/><stop offset="0.062" stop-color="#e08f48"/><stop offset="0.125" stop-color="#e09047"/><stop offset="0.188" stop-color="#e09048"/><stop offset="0.250" stop-color="#e08d49"/><stop offset="0.312" stop-color="#de874b"/><stop offset="0.375" stop-color="#de7f4e"/><stop offset="0.438" stop-color="#df7554"/><stop offset="0.500" stop-color="#de675b"/><stop offset="0.562" stop-color="#d55867"/><stop offset="0.625" stop-color="#c94476"/><stop offset="0.688" stop-color="#b82887"/><stop offset="0.750" stop-color="#982396"/><stop offset="0.812" stop-color="#77209f"/><stop offset="0.875" stop-color="#552192"/><stop offset="0.938" stop-color="#37247d"/><stop offset="1.000" stop-color="#222871"/></linearGradient><linearGradient id="hd9"><stop offset="0.000" stop-color="#df8b49"/><stop offset="0.062" stop-color="#e09048"/><stop offset="0.125" stop-color="#e09347"/><stop offset="0.188" stop-color="#e09247"/><stop offset="0.250" stop-color="#e08e48"/><stop offset="0.312" stop-color="#de884a"/><stop offset="0.375" stop-color="#dd804e"/><stop offset="0.438" stop-color="#df7653"/><stop offset="0.500" stop-color="#de685b"/><stop offset="0.562" stop-color="#d55866"/><stop offset="0.625" stop-color="#ca4575"/><stop offset="0.688" stop-color="#b92b86"/><stop offset="0.750" stop-color="#982295"/><stop offset="0.812" stop-color="#781f9f"/><stop offset="0.875" stop-color="#552193"/><stop offset="0.938" stop-color="#38247d"/><stop offset="1.000" stop-color="#232871"/></linearGradient><linearGradient id="hd10"><stop offset="0.000" stop-color="#e08d49"/><stop offset="0.062" stop-color="#e09147"/><stop offset="0.125" stop-color="#e09446"/><stop offset="0.188" stop-color="#e09346"/><stop offset="0.250" stop-color="#e09048"/><stop offset="0.312" stop-color="#df8a49"/><stop offset="0.375" stop-color="#dd814e"/><stop offset="0.438" stop-color="#df7753"/><stop offset="0.500" stop-color="#de695b"/><stop offset="0.562" stop-color="#d65966"/><stop offset="0.625" stop-color="#cb4674"/><stop offset="0.688" stop-color="#bb2d86"/><stop offset="0.750" stop-color="#992395"/><stop offset="0.812" stop-color="#781f9f"/><stop offset="0.875" stop-color="#562193"/><stop offset="0.938" stop-color="#38247d"/><stop offset="1.000" stop-color="#232871"/></linearGradient><linearGradient id="hd11"><stop offset="0.000" stop-color="#e08e48"/><stop offset="0.062" stop-color="#e09346"/><stop offset="0.125" stop-color="#e19547"/><stop offset="0.188" stop-color="#e09447"/><stop offset="0.250" stop-color="#e09047"/><stop offset="0.312" stop-color="#df8b49"/><stop offset="0.375" stop-color="#de834e"/><stop offset="0.438" stop-color="#df7852"/><stop offset="0.500" stop-color="#e06a59"/><stop offset="0.562" stop-color="#d65b65"/><stop offset="0.625" stop-color="#cc4773"/><stop offset="0.688" stop-color="#bc2e85"/><stop offset="0.750" stop-color="#9b2294"/><stop offset="0.812" stop-color="#791f9f"/><stop offset="0.875" stop-color="#572194"/><stop offset="0.938" stop-color="#38247e"/><stop offset="1.000" stop-color="#232871"/></linearGradient><linearGradient id="hd12"><stop offset="0.000" stop-color="#e09048"/><stop offset="0.062" stop-color="#e09447"/><stop offset="0.125" stop-color="#e09646"/><stop offset="0.188" stop-color="#e19546"/><stop offset="0.250" stop-color="#e09347"/><stop offset="0.312" stop-color="#e08c49"/><stop offset="0.375" stop-color="#de844d"/><stop offset="0.438" stop-color="#df7952"/><stop offset="0.500" stop-color="#df6b59"/><stop offset="0.562" stop-color="#d75b64"/><stop offset="0.625" stop-color="#cd4773"/><stop offset="0.688" stop-color="#bd2f84"/><stop offset="0.750" stop-color="#9c2294"/><stop offset="0.812" stop-color="#791f9f"/><stop offset="0.875" stop-color="#582194"/><stop offset="0.938" stop-color="#38247e"/><stop offset="1.000" stop-color="#232871"/></linearGradient><linearGradient id="hd13"><stop offset="0.000" stop-color="#e09147"/><stop offset="0.062" stop-color="#e19546"/><stop offset="0.125" stop-color="#df9846"/><stop offset="0.188" stop-color="#e09746"/><stop offset="0.250" stop-color="#e09446"/><stop offset="0.312" stop-color="#e08e49"/><stop offset="0.375" stop-color="#de854c"/><stop offset="0.438" stop-color="#df7a52"/><stop offset="0.500" stop-color="#e06d58"/><stop offset="0.562" stop-color="#d75c64"/><stop offset="0.625" stop-color="#ce4872"/><stop offset="0.688" stop-color="#be3084"/><stop offset="0.750" stop-color="#9d2394"/><stop offset="0.812" stop-color="#7a1f9f"/><stop offset="0.875" stop-color="#582094"/><stop offset="0.938" stop-color="#38247e"/><stop offset="1.000" stop-color="#232871"/></linearGradient><linearGradient id="hd14"><stop offset="0.000" stop-color="#e09346"/><stop offset="0.062" stop-color="#e09746"/><stop offset="0.125" stop-color="#df9947"/><stop offset="0.188" stop-color="#df9846"/><stop offset="0.250" stop-color="#e19547"/><stop offset="0.312" stop-color="#e08f48"/><stop offset="0.375" stop-color="#de864b"/><stop offset="0.438" stop-color="#de7c51"/><stop offset="0.500" stop-color="#e06e58"/><stop offset="0.562" stop-color="#d85d63"/><stop offset="0.625" stop-color="#ce4a70"/><stop offset="0.688" stop-color="#bf3183"/><stop offset="0.750" stop-color="#9d2393"/><stop offset="0.812" stop-color="#7b1f9e"/><stop offset="0.875" stop-color="#592095"/><stop offset="0.938" stop-color="#39247e"/><stop offset="1.000" stop-color="#232871"/></linearGradient><linearGradient id="hd15"><stop offset="0.000" stop-color="#e09447"/><stop offset="0.062" stop-color="#df9846"/><stop offset="0.125" stop-color="#df9a46"/><stop offset="0.188" stop-color="#df9946"/><stop offset="0.250" stop-color="#e09646"/><stop offset="0.312" stop-color="#e09048"/><stop offset="0.375" stop-color="#de874b"/><stop offset="0.438" stop-color="#de7d50"/><stop offset="0.500" stop-color="#e06f58"/><stop offset="0.562" stop-color="#d85e61"/><stop offset="0.625" stop-color="#ce4b70"/><stop offset="0.688" stop-color="#c03282"/><stop offset="0.750" stop-color="#9e2493"/><stop offset="0.812" stop-color="#7b1f9e"/><stop offset="0.875" stop-color="#592095"/><stop offset="0.938" stop-color="#39247e"/><stop offset="1.000" stop-color="#232872"/></linearGradient><linearGradient id="hd16"><stop offset="0.000" stop-color="#e19646"/><stop offset="0.062" stop-color="#df9a46"/><stop offset="0.125" stop-color="#df9c45"/><stop offset="0.188" stop-color="#df9b46"/><stop offset="0.250" stop-color="#df9746"/><stop offset="0.312" stop-color="#e09147"/><stop offset="0.375" stop-color="#de884a"/><stop offset="0.438" stop-color="#dd7d50"/><stop offset="0.500" stop-color="#e06f57"/><stop offset="0.562" stop-color="#d95f61"/><stop offset="0.625" stop-color="#d04b70"/><stop offset="0.688" stop-color="#c03281"/><stop offset="0.750" stop-color="#9e2493"/><stop offset="0.812" stop-color="#7c1f9e"/><stop offset="0.875" stop-color="#5a2095"/><stop offset="0.938" stop-color="#39247f"/><stop offset="1.000" stop-color="#232872"/></linearGradient><linearGradient id="hd17"><stop offset="0.000" stop-color="#df9746"/><stop offset="0.062" stop-color="#df9b45"/><stop offset="0.125" stop-color="#df9e46"/><stop offset="0.188" stop-color="#df9c46"/><stop offset="0.250" stop-color="#df9846"/><stop offset="0.312" stop-color="#e09346"/><stop offset="0.375" stop-color="#df894a"/><stop offset="0.438" stop-color="#dd7e4f"/><stop offset="0.500" stop-color="#df7057"/><stop offset="0.562" stop-color="#d96060"/><stop offset="0.625" stop-color="#d04d6f"/><stop offset="0.688" stop-color="#c13381"/><stop offset="0.750" stop-color="#9f2492"/><stop offset="0.812" stop-color="#7c1f9e"/><stop offset="0.875" stop-color="#5a1f96"/><stop offset="0.938" stop-color="#39247f"/><stop offset="1.000" stop-color="#232872"/></linearGradient><linearGradient id="hd18"><stop offset="0.000" stop-color="#df9846"/><stop offset="0.062" stop-color="#df9d46"/><stop offset="0.125" stop-color="#df9f46"/><stop offset="0.188" stop-color="#df9e46"/><stop offset="0.250" stop-color="#df9a46"/><stop offset="0.312" stop-color="#e09446"/><stop offset="0.375" stop-color="#e08b49"/><stop offset="0.438" stop-color="#de7f4e"/><stop offset="0.500" stop-color="#e07257"/><stop offset="0.562" stop-color="#d96160"/><stop offset="0.625" stop-color="#d14e6f"/><stop offset="0.688" stop-color="#c13380"/><stop offset="0.750" stop-color="#a02492"/><stop offset="0.812" stop-color="#7c1f9d"/><stop offset="0.875" stop-color="#5a1f96"/><stop offset="0.938" stop-color="#3a237f"/><stop offset="1.000" stop-color="#242872"/></linearGradient><linearGradient id="hd19"><stop offset="0.000" stop-color="#df9a46"/><stop offset="0.062" stop-color="#df9f46"/><stop offset="0.125" stop-color="#dea045"/><stop offset="0.188" stop-color="#df9f45"/><stop offset="0.250" stop-color="#df9b45"/><stop offset="0.312" stop-color="#e19547"/><stop offset="0.375" stop-color="#df8b49"/><stop offset="0.438" stop-color="#dd804e"/><stop offset="0.500" stop-color="#e07356"/><stop offset="0.562" stop-color="#da6260"/><stop offset="0.625" stop-color="#d14e6e"/><stop offset="0.688" stop-color="#c23480"/><stop offset="0.750" stop-color="#a02591"/><stop offset="0.812" stop-color="#7c1e9d"/><stop offset="0.875" stop-color="#5b1f96"/><stop offset="0.938" stop-color="#3a237f"/><stop offset="1.000" stop-color="#242872"/></linearGradient><linearGradient id="hd20"><stop offset="0.000" stop-color="#df9b45"/><stop offset="0.062" stop-color="#dea045"/><stop offset="0.125" stop-color="#dea244"/><stop offset="0.188" stop-color="#dea045"/><stop offset="0.250" stop-color="#df9d46"/><stop offset="0.312" stop-color="#e09646"/><stop offset="0.375" stop-color="#e08d49"/><stop offset="0.438" stop-color="#dd814e"/><stop offset="0.500" stop-color="#e07456"/><stop offset="0.562" stop-color="#db625f"/><stop offset="0.625" stop-color="#d24f6d"/><stop offset="0.688" stop-color="#c2347f"/><stop offset="0.750" stop-color="#a12591"/><stop offset="0.812" stop-color="#7d1e9d"/><stop offset="0.875" stop-color="#5b1f96"/><stop offset="0.938" stop-color="#3a237f"/><stop offset="1.000" stop-color="#242872"/></linearGradient><linearGradient id="hd21"><stop offset="0.000" stop-color="#df9e46"/><stop offset="0.062" stop-color="#dea244"/><stop offset="0.125" stop-color="#dfa343"/><stop offset="0.188" stop-color="#dea244"/><stop offset="0.250" stop-color="#df9e46"/><stop offset="0.312" stop-color="#df9746"/><stop offset="0.375" stop-color="#e08e49"/><stop offset="0.438" stop-color="#de814e"/><stop offset="0.500" stop-color="#df7555"/><stop offset="0.562" stop-color="#db625f"/><stop offset="0.625" stop-color="#d24f6d"/><stop offset="0.688" stop-color="#c3357e"/><stop offset="0.750" stop-color="#a12590"/><stop offset="0.812" stop-color="#7e1e9d"/><stop offset="0.875" stop-color="#5b1f96"/><stop offset="0.938" stop-color="#3a237f"/><stop offset="1.000" stop-color="#242872"/></linearGradient><linearGradient id="hd22"><stop offset="0.000" stop-color="#df9f45"/><stop offset="0.062" stop-color="#dfa343"/><stop offset="0.125" stop-color="#dfa544"/><stop offset="0.188" stop-color="#dfa343"/><stop offset="0.250" stop-color="#df9f45"/><stop offset="0.312" stop-color="#df9846"/><stop offset="0.375" stop-color="#e08f48"/><stop offset="0.438" stop-color="#de834e"/><stop offset="0.500" stop-color="#df7554"/><stop offset="0.562" stop-color="#db635e"/><stop offset="0.625" stop-color="#d2506c"/><stop offset="0.688" stop-color="#c3367e"/><stop offset="0.750" stop-color="#a22490"/><stop offset="0.812" stop-color="#7f1e9d"/><stop offset="0.875" stop-color="#5b1f96"/><stop offset="0.938" stop-color="#3a237f"/><stop offset="1.000" stop-color="#242872"/></linearGradient><linearGradient id="hd23"><stop offset="0.000" stop-color="#dea045"/><stop offset="0.062" stop-color="#dfa544"/><stop offset="0.125" stop-color="#dfa743"/><stop offset="0.188" stop-color="#dfa544"/><stop offset="0.250" stop-color="#dea045"/><stop offset="0.312" stop-color="#df9946"/><stop offset="0.375" stop-color="#e09048"/><stop offset="0.438" stop-color="#de844d"/><stop offset="0.500" stop-color="#df7653"/><stop offset="0.562" stop-color="#db635e"/><stop offset="0.625" stop-color="#d1506c"/><stop offset="0.688" stop-color="#c4377d"/><stop offset="0.750" stop-color="#a32490"/><stop offset="0.812" stop-color="#7f1e9d"/><stop offset="0.875" stop-color="#5c1f97"/><stop offset="0.938" stop-color="#3a237f"/><stop offset="1.000" stop-color="#242872"/></linearGradient><linearGradient id="hd24"><stop offset="0.000" stop-color="#dea244"/><stop offset="0.062" stop-color="#dfa743"/><stop offset="0.125" stop-color="#e0a842"/><stop offset="0.188" stop-color="#dfa643"/><stop offset="0.250" stop-color="#dea244"/><stop offset="0.312" stop-color="#df9b46"/><stop offset="0.375" stop-color="#e09147"/><stop offset="0.438" stop-color="#de854c"/><stop offset="0.500" stop-color="#df7753"/><stop offset="0.562" stop-color="#dc655d"/><stop offset="0.625" stop-color="#d2516b"/><stop offset="0.688" stop-color="#c4377d"/><stop offset="0.750" stop-color="#a42490"/><stop offset="0.812" stop-color="#7f1f9d"/><stop offset="0.875" stop-color="#5c1f97"/><stop offset="0.938" stop-color="#3a237f"/><stop offset="1.000" stop-color="#242872"/></linearGradient><linearGradient id="hd25"><stop offset="0.000" stop-color="#dfa444"/><stop offset="0.062" stop-color="#e0a842"/><stop offset="0.125" stop-color="#dfa941"/><stop offset="0.188" stop-color="#e0a842"/><stop offset="0.250" stop-color="#dfa343"/><stop offset="0.312" stop-color="#df9b45"/><stop offset="0.375" stop-color="#e09347"/><stop offset="0.438" stop-color="#de864b"/><stop offset="0.500" stop-color="#df7852"/><stop offset="0.562" stop-color="#dc665d"/><stop offset="0.625" stop-color="#d2516b"/><stop offset="0.688" stop-color="#c4397d"/><stop offset="0.750" stop-color="#a4248f"/><stop offset="0.812" stop-color="#801f9c"/><stop offset="0.875" stop-color="#5c1f97"/><stop offset="0.938" stop-color="#3a237f"/><stop offset="1.000" stop-color="#242872"/></linearGradient><linearGradient id="hd26"><stop offset="0.000" stop-color="#dfa644"/><stop offset="0.062" stop-color="#dfa941"/><stop offset="0.125" stop-color="#e0ab40"/><stop offset="0.188" stop-color="#e0a941"/><stop offset="0.250" stop-color="#dfa444"/><stop offset="0.312" stop-color="#df9d46"/><stop offset="0.375" stop-color="#e19346"/><stop offset="0.438" stop-color="#de874c"/><stop offset="0.500" stop-color="#df7852"/><stop offset="0.562" stop-color="#dd665c"/><stop offset="0.625" stop-color="#d3526a"/><stop offset="0.688" stop-color="#c43a7d"/><stop offset="0.750" stop-color="#a5248f"/><stop offset="0.812" stop-color="#801f9c"/><stop offset="0.875" stop-color="#5c1f97"/><stop offset="0.938" stop-color="#3a237f"/><stop offset="1.000" stop-color="#232872"/></linearGradient><linearGradient id="hd27"><stop offset="0.000" stop-color="#dfa742"/><stop offset="0.062" stop-color="#e1ab40"/><stop offset="0.125" stop-color="#e1ac3f"/><stop offset="0.188" stop-color="#e0aa40"/><stop offset="0.250" stop-color="#dfa643"/><stop offset="0.312" stop-color="#df9f46"/><stop offset="0.375" stop-color="#e09447"/><stop offset="0.438" stop-color="#de874b"/><stop offset="0.500" stop-color="#df7952"/><stop offset="0.562" stop-color="#de675b"/><stop offset="0.625" stop-color="#d3536a"/><stop offset="0.688" stop-color="#c43a7c"/><stop offset="0.750" stop-color="#a5248f"/><stop offset="0.812" stop-color="#801f9c"/><stop offset="0.875" stop-color="#5c1f97"/><stop offset="0.938" stop-color="#3a237f"/><stop offset="1.000" stop-color="#232872"/></linearGradient><linearGradient id="hd28"><stop offset="0.000" stop-color="#e0a941"/><stop offset="0.062" stop-color="#e1ac3e"/><stop offset="0.125" stop-color="#e1ae3e"/><stop offset="0.188" stop-color="#e1ac3f"/><stop offset="0.250" stop-color="#dfa743"/><stop offset="0.312" stop-color="#df9f45"/><stop offset="0.375" stop-color="#e19547"/><stop offset="0.438" stop-color="#de884a"/><stop offset="0.500" stop-color="#df7952"/><stop offset="0.562" stop-color="#de675b"/><stop offset="0.625" stop-color="#d45469"/><stop offset="0.688" stop-color="#c43b7c"/><stop offset="0.750" stop-color="#a5248f"/><stop offset="0.812" stop-color="#801f9c"/><stop offset="0.875" stop-color="#5c1f97"/><stop offset="0.938" stop-color="#3a237f"/><stop offset="1.000" stop-color="#232872"/></linearGradient><linearGradient id="hd29"><stop offset="0.000" stop-color="#e0aa40"/><stop offset="0.062" stop-color="#e1ae3d"/><stop offset="0.125" stop-color="#e1af3c"/><stop offset="0.188" stop-color="#e1ad3e"/><stop offset="0.250" stop-color="#e0a841"/><stop offset="0.312" stop-color="#dea045"/><stop offset="0.375" stop-color="#e19646"/><stop offset="0.438" stop-color="#df894a"/><stop offset="0.500" stop-color="#df7a52"/><stop offset="0.562" stop-color="#de685b"/><stop offset="0.625" stop-color="#d45469"/><stop offset="0.688" stop-color="#c53b7c"/><stop offset="0.750" stop-color="#a6248f"/><stop offset="0.812" stop-color="#801f9c"/><stop offset="0.875" stop-color="#5c1f97"/><stop offset="0.938" stop-color="#3a237f"/><stop offset="1.000" stop-color="#232872"/></linearGradient><linearGradient id="hd30"><stop offset="0.000" stop-color="#e1ac3f"/><stop offset="0.062" stop-color="#e2af3c"/><stop offset="0.125" stop-color="#e3b03c"/><stop offset="0.188" stop-color="#e1ae3c"/><stop offset="0.250" stop-color="#dfa941"/><stop offset="0.312" stop-color="#dea144"/><stop offset="0.375" stop-color="#e09746"/><stop offset="0.438" stop-color="#df8a49"/><stop offset="0.500" stop-color="#de7b51"/><stop offset="0.562" stop-color="#de685b"/><stop offset="0.625" stop-color="#d35569"/><stop offset="0.688" stop-color="#c53b7b"/><stop offset="0.750" stop-color="#a6248f"/><stop offset="0.812" stop-color="#801f9c"/><stop offset="0.875" stop-color="#5c1f97"/><stop offset="0.938" stop-color="#3a237f"/><stop offset="1.000" stop-color="#232871"/></linearGradient><linearGradient id="hd31"><stop offset="0.000" stop-color="#e1ae3e"/><stop offset="0.062" stop-color="#e3b13b"/><stop offset="0.125" stop-color="#e2b13a"/><stop offset="0.188" stop-color="#e2b03c"/><stop offset="0.250" stop-color="#e0aa40"/><stop offset="0.312" stop-color="#dea244"/><stop offset="0.375" stop-color="#df9846"/><stop offset="0.438" stop-color="#e08b49"/><stop offset="0.500" stop-color="#de7c51"/><stop offset="0.562" stop-color="#de695b"/><stop offset="0.625" stop-color="#d45568"/><stop offset="0.688" stop-color="#c53b7b"/><stop offset="0.750" stop-color="#a6248f"/><stop offset="0.812" stop-color="#801f9d"/><stop offset="0.875" stop-color="#5c1f97"/><stop offset="0.938" stop-color="#3a237f"/><stop offset="1.000" stop-color="#232871"/></linearGradient><linearGradient id="hd32"><stop offset="0.000" stop-color="#e1af3c"/><stop offset="0.062" stop-color="#e2b239"/><stop offset="0.125" stop-color="#e2b339"/><stop offset="0.188" stop-color="#e3b13c"/><stop offset="0.250" stop-color="#e1ac3f"/><stop offset="0.312" stop-color="#dfa343"/><stop offset="0.375" stop-color="#df9846"/><stop offset="0.438" stop-color="#df8b49"/><stop offset="0.500" stop-color="#de7c51"/><stop offset="0.562" stop-color="#df6a5a"/><stop offset="0.625" stop-color="#d45568"/><stop offset="0.688" stop-color="#c53b7b"/><stop offset="0.750" stop-color="#a7248f"/><stop offset="0.812" stop-color="#801f9d"/><stop offset="0.875" stop-color="#5c1f97"/><stop offset="0.938" stop-color="#3a237f"/><stop offset="1.000" stop-color="#232871"/></linearGradient><linearGradient id="hd33"><stop offset="0.000" stop-color="#e3b13c"/><stop offset="0.062" stop-color="#e2b339"/><stop offset="0.125" stop-color="#e3b438"/><stop offset="0.188" stop-color="#e2b23a"/><stop offset="0.250" stop-color="#e1ad3e"/><stop offset="0.312" stop-color="#dfa544"/><stop offset="0.375" stop-color="#df9946"/><stop offset="0.438" stop-color="#e08c49"/><stop offset="0.500" stop-color="#de7d50"/><stop offset="0.562" stop-color="#e06a59"/><stop offset="0.625" stop-color="#d45668"/><stop offset="0.688" stop-color="#c53b7a"/><stop offset="0.750" stop-color="#a7238f"/><stop offset="0.812" stop-color="#801f9d"/><stop offset="0.875" stop-color="#5c1f97"/><stop offset="0.938" stop-color="#3a237f"/><stop offset="1.000" stop-color="#232871"/></linearGradient><linearGradient id="hd34"><stop offset="0.000" stop-color="#e2b239"/><stop offset="0.062" stop-color="#e3b537"/><stop offset="0.125" stop-color="#e2b637"/><stop offset="0.188" stop-color="#e2b339"/><stop offset="0.250" stop-color="#e1ae3d"/><stop offset="0.312" stop-color="#dfa644"/><stop offset="0.375" stop-color="#df9a46"/><stop offset="0.438" stop-color="#e08d49"/><stop offset="0.500" stop-color="#dd7d50"/><stop offset="0.562" stop-color="#df6b59"/><stop offset="0.625" stop-color="#d45668"/><stop offset="0.688" stop-color="#c53c7a"/><stop offset="0.750" stop-color="#a7238e"/><stop offset="0.812" stop-color="#801f9d"/><stop offset="0.875" stop-color="#5c1f97"/><stop offset="0.938" stop-color="#3a237f"/><stop offset="1.000" stop-color="#232871"/></linearGradient><linearGradient id="hd35"><stop offset="0.000" stop-color="#e2b339"/><stop offset="0.062" stop-color="#e1b738"/><stop offset="0.125" stop-color="#e1b738"/><stop offset="0.188" stop-color="#e3b438"/><stop offset="0.250" stop-color="#e1af3c"/><stop offset="0.312" stop-color="#dfa743"/><stop offset="0.375" stop-color="#df9b45"/><stop offset="0.438" stop-color="#e08e49"/><stop offset="0.500" stop-color="#dd7e4f"/><stop offset="0.562" stop-color="#df6b59"/><stop offset="0.625" stop-color="#d55768"/><stop offset="0.688" stop-color="#c53c7a"/><stop offset="0.750" stop-color="#a7238e"/><stop offset="0.812" stop-color="#811f9d"/><stop offset="0.875" stop-color="#5c1f97"/><stop offset="0.938" stop-color="#39247f"/><stop offset="1.000" stop-color="#232871"/></linearGradient><linearGradient id="hd36"><stop offset="0.000" stop-color="#e3b537"/><stop offset="0.062" stop-color="#e1b839"/><stop offset="0.125" stop-color="#e1b839"/><stop offset="0.188" stop-color="#e2b637"/><stop offset="0.250" stop-color="#e3b03c"/><stop offset="0.312" stop-color="#e0a842"/><stop offset="0.375" stop-color="#df9c45"/><stop offset="0.438" stop-color="#e08e48"/><stop offset="0.500" stop-color="#de7e4f"/><stop offset="0.562" stop-color="#e06c59"/><stop offset="0.625" stop-color="#d55768"/><stop offset="0.688" stop-color="#c53c7a"/><stop offset="0.750" stop-color="#a8238e"/><stop offset="0.812" stop-color="#811f9d"/><stop offset="0.875" stop-color="#5c1f97"/><stop offset="0.938" stop-color="#39247f"/><stop offset="1.000" stop-color="#232871"/></linearGradient><linearGradient id="hd37"><stop offset="0.000" stop-color="#e1b738"/><stop offset="0.062" stop-color="#e0b939"/><stop offset="0.125" stop-color="#e0b939"/><stop offset="0.188" stop-color="#e1b738"/><stop offset="0.250" stop-color="#e3b13b"/><stop offset="0.312" stop-color="#e0a941"/><stop offset="0.375" stop-color="#df9d46"/><stop offset="0.438" stop-color="#e08f48"/><stop offset="0.500" stop-color="#de7f4e"/><stop offset="0.562" stop-color="#e06d58"/><stop offset="0.625" stop-color="#d55868"/><stop offset="0.688" stop-color="#c53d7a"/><stop offset="0.750" stop-color="#a8238e"/><stop offset="0.812" stop-color="#811f9d"/><stop offset="0.875" stop-color="#5c1f97"/><stop offset="0.938" stop-color="#39247e"/><stop offset="1.000" stop-color="#222871"/></linearGradient><linearGradient id="hd38"><stop offset="0.000" stop-color="#e1b739"/><stop offset="0.062" stop-color="#e0ba3b"/><stop offset="0.125" stop-color="#e0ba3a"/><stop offset="0.188" stop-color="#e1b739"/><stop offset="0.250" stop-color="#e2b239"/><stop offset="0.312" stop-color="#dfa941"/><stop offset="0.375" stop-color="#df9e46"/><stop offset="0.438" stop-color="#e09048"/><stop offset="0.500" stop-color="#de7f4e"/><stop offset="0.562" stop-color="#e06d58"/><stop offset="0.625" stop-color="#d55867"/><stop offset="0.688" stop-color="#c53d7a"/><stop offset="0.750" stop-color="#a8238e"/><stop offset="0.812" stop-color="#801f9d"/><stop offset="0.875" stop-color="#5c1f97"/><stop offset="0.938" stop-color="#39247e"/><stop offset="1.000" stop-color="#222871"/></linearGradient><linearGradient id="hd39"><stop offset="0.000" stop-color="#e0b939"/><stop offset="0.062" stop-color="#dfbc3c"/><stop offset="0.125" stop-color="#dfbb3c"/><stop offset="0.188" stop-color="#e0b939"/><stop offset="0.250" stop-color="#e2b339"/><stop offset="0.312" stop-color="#e0aa40"/><stop offset="0.375" stop-color="#df9f46"/><stop offset="0.438" stop-color="#e09048"/><stop offset="0.500" stop-color="#dd804d"/><stop offset="0.562" stop-color="#e06e58"/><stop offset="0.625" stop-color="#d55867"/><stop offset="0.688" stop-color="#c63d7a"/><stop offset="0.750" stop-color="#a8238e"/><stop offset="0.812" stop-color="#801f9d"/><stop offset="0.875" stop-color="#5b1f97"/><stop offset="0.938" stop-color="#39247e"/><stop offset="1.000" stop-color="#222870"/></linearGradient><linearGradient id="hd40"><stop offset="0.000" stop-color="#e0ba3b"/><stop offset="0.062" stop-color="#dfbd3b"/><stop offset="0.125" stop-color="#dfbd3c"/><stop offset="0.188" stop-color="#e0b939"/><stop offset="0.250" stop-color="#e3b438"/><stop offset="0.312" stop-color="#e1ab40"/><stop offset="0.375" stop-color="#df9f45"/><stop offset="0.438" stop-color="#e09147"/><stop offset="0.500" stop-color="#dd804e"/><stop offset="0.562" stop-color="#e06e58"/><stop offset="0.625" stop-color="#d55867"/><stop offset="0.688" stop-color="#c63e7a"/><stop offset="0.750" stop-color="#a8238e"/><stop offset="0.812" stop-color="#801f9d"/><stop offset="0.875" stop-color="#5b1f96"/><stop offset="0.938" stop-color="#38247e"/><stop offset="1.000" stop-color="#222870"/></linearGradient><linearGradient id="hd41"><stop offset="0.000" stop-color="#dfbc3c"/><stop offset="0.062" stop-color="#dfbe3b"/><stop offset="0.125" stop-color="#dfbe3b"/><stop offset="0.188" stop-color="#e0ba3b"/><stop offset="0.250" stop-color="#e3b537"/><stop offset="0.312" stop-color="#e1ac3f"/><stop offset="0.375" stop-color="#de9f45"/><stop offset="0.438" stop-color="#e09247"/><stop offset="0.500" stop-color="#dd804e"/><stop offset="0.562" stop-color="#e06e58"/><stop offset="0.625" stop-color="#d55867"/><stop offset="0.688" stop-color="#c63e7a"/><stop offset="0.750" stop-color="#a8238e"/><stop offset="0.812" stop-color="#801f9d"/><stop offset="0.875" stop-color="#5b1f96"/><stop offset="0.938" stop-color="#38247e"/><stop offset="1.000" stop-color="#212870"/></linearGradient><linearGradient id="hd42"><stop offset="0.000" stop-color="#dfbd3b"/><stop offset="0.062" stop-color="#dfbf3b"/><stop offset="0.125" stop-color="#dfbf3b"/><stop offset="0.188" stop-color="#dfbc3c"/><stop offset="0.250" stop-color="#e2b637"/><stop offset="0.312" stop-color="#e1ad3e"/><stop offset="0.375" stop-color="#dea045"/><stop offset="0.438" stop-color="#e09347"/><stop offset="0.500" stop-color="#dd814e"/><stop offset="0.562" stop-color="#e06e58"/><stop offset="0.625" stop-color="#d55867"/><stop offset="0.688" stop-color="#c63e7a"/><stop offset="0.750" stop-color="#a8238e"/><stop offset="0.812" stop-color="#801f9c"/><stop offset="0.875" stop-color="#5b1f96"/><stop offset="0.938" stop-color="#38247e"/><stop offset="1.000" stop-color="#212870"/></linearGradient><linearGradient id="hd43"><stop offset="0.000" stop-color="#dfbf3b"/><stop offset="0.062" stop-color="#e0c13c"/><stop offset="0.125" stop-color="#dfc03b"/><stop offset="0.188" stop-color="#dfbd3c"/><stop offset="0.250" stop-color="#e1b738"/><stop offset="0.312" stop-color="#e1ae3d"/><stop offset="0.375" stop-color="#dea144"/><stop offset="0.438" stop-color="#e09346"/><stop offset="0.500" stop-color="#dd814e"/><stop offset="0.562" stop-color="#e06f58"/><stop offset="0.625" stop-color="#d55866"/><stop offset="0.688" stop-color="#c63e7a"/><stop offset="0.750" stop-color="#a8238e"/><stop offset="0.812" stop-color="#801f9c"/><stop offset="0.875" stop-color="#5b1f96"/><stop offset="0.938" stop-color="#38247e"/><stop offset="1.000" stop-color="#212870"/></linearGradient><linearGradient id="hd44"><stop offset="0.000" stop-color="#dfbf3b"/><stop offset="0.062" stop-color="#dfc23c"/><stop offset="0.125" stop-color="#e0c13c"/><stop offset="0.188" stop-color="#dfbe3b"/><stop offset="0.250" stop-color="#e1b739"/><stop offset="0.312" stop-color="#e1ae3c"/><stop offset="0.375" stop-color="#dea244"/><stop offset="0.438" stop-color="#e19446"/><stop offset="0.500" stop-color="#de814e"/><stop offset="0.562" stop-color="#e06f58"/><stop offset="0.625" stop-color="#d55866"/><stop offset="0.688" stop-color="#c63e7a"/><stop offset="0.750" stop-color="#a8238e"/><stop offset="0.812" stop-color="#801f9c"/><stop offset="0.875" stop-color="#5b1f96"/><stop offset="0.938" stop-color="#38247d"/><stop offset="1.000" stop-color="#21286f"/></linearGradient><linearGradient id="hd45"><stop offset="0.000" stop-color="#e0c13c"/><stop offset="0.062" stop-color="#e0c43c"/><stop offset="0.125" stop-color="#dfc33c"/><stop offset="0.188" stop-color="#dfbf3b"/><stop offset="0.250" stop-color="#e1b939"/><stop offset="0.312" stop-color="#e2af3c"/><stop offset="0.375" stop-color="#dfa243"/><stop offset="0.438" stop-color="#e09446"/><stop offset="0.500" stop-color="#de824e"/><stop offset="0.562" stop-color="#e06f57"/><stop offset="0.625" stop-color="#d55966"/><stop offset="0.688" stop-color="#c63e7a"/><stop offset="0.750" stop-color="#a8238e"/><stop offset="0.812" stop-color="#801f9c"/><stop offset="0.875" stop-color="#5a1f96"/><stop offset="0.938" stop-color="#38247d"/><stop offset="1.000" stop-color="#20286f"/></linearGradient><linearGradient id="hd46"><stop offset="0.000" stop-color="#dfc33c"/><stop offset="0.062" stop-color="#e1c63b"/><stop offset="0.125" stop-color="#e0c43c"/><stop offset="0.188" stop-color="#dfbf3b"/><stop offset="0.250" stop-color="#e0b939"/><stop offset="0.312" stop-color="#e3b03c"/><stop offset="0.375" stop-color="#dfa343"/><stop offset="0.438" stop-color="#e09447"/><stop offset="0.500" stop-color="#de834e"/><stop offset="0.562" stop-color="#e06f57"/><stop offset="0.625" stop-color="#d55966"/><stop offset="0.688" stop-color="#c63e7a"/><stop offset="0.750" stop-color="#a8238e"/><stop offset="0.812" stop-color="#801f9c"/><stop offset="0.875" stop-color="#5a1f96"/><stop offset="0.938" stop-color="#38247d"/><stop offset="1.000" stop-color="#20286f"/></linearGradient><linearGradient id="hd47"><stop offset="0.000" stop-color="#e0c53c"/><stop offset="0.062" stop-color="#e1c73c"/><stop offset="0.125" stop-color="#e1c63b"/><stop offset="0.188" stop-color="#e0c13c"/><stop offset="0.250" stop-color="#e0b93a"/><stop offset="0.312" stop-color="#e3b13c"/><stop offset="0.375" stop-color="#dfa444"/><stop offset="0.438" stop-color="#e09547"/><stop offset="0.500" stop-color="#de844e"/><stop offset="0.562" stop-color="#e07057"/><stop offset="0.625" stop-color="#d55966"/><stop offset="0.688" stop-color="#c63e7a"/><stop offset="0.750" stop-color="#a8238e"/><stop offset="0.812" stop-color="#801f9c"/><stop offset="0.875" stop-color="#5a2095"/><stop offset="0.938" stop-color="#37247d"/><stop offset="1.000" stop-color="#20286f"/></linearGradient><linearGradient id="hd48"><stop offset="0.000" stop-color="#e1c63b"/><stop offset="0.062" stop-color="#e1c93c"/><stop offset="0.125" stop-color="#e1c73c"/><stop offset="0.188" stop-color="#dfc23c"/><stop offset="0.250" stop-color="#e0ba3b"/><stop offset="0.312" stop-color="#e3b13b"/><stop offset="0.375" stop-color="#dfa544"/><stop offset="0.438" stop-color="#e19547"/><stop offset="0.500" stop-color="#de844d"/><stop offset="0.562" stop-color="#e07057"/><stop offset="0.625" stop-color="#d65966"/><stop offset="0.688" stop-color="#c63e7a"/><stop offset="0.750" stop-color="#a8238e"/><stop offset="0.812" stop-color="#801f9c"/><stop offset="0.875" stop-color="#5a2095"/><stop offset="0.938" stop-color="#37247d"/><stop offset="1.000" stop-color="#20286e"/></linearGradient><linearGradient id="hd49"><stop offset="0.000" stop-color="#e1c83c"/><stop offset="0.062" stop-color="#e2ca3c"/><stop offset="0.125" stop-color="#e1c83c"/><stop offset="0.188" stop-color="#dfc33c"/><stop offset="0.250" stop-color="#dfbb3c"/><stop offset="0.312" stop-color="#e2b239"/><stop offset="0.375" stop-color="#dfa544"/><stop offset="0.438" stop-color="#e19546"/><stop offset="0.500" stop-color="#de844d"/><stop offset="0.562" stop-color="#e07057"/><stop offset="0.625" stop-color="#d65966"/><stop offset="0.688" stop-color="#c63e7a"/><stop offset="0.750" stop-color="#a8238e"/><stop offset="0.812" stop-color="#801f9c"/><stop offset="0.875" stop-color="#592095"/><stop offset="0.938" stop-color="#37247d"/><stop offset="1.000" stop-color="#1f286e"/></linearGradient><linearGradient id="hd50"><stop offset="0.000" stop-color="#e1ca3c"/><stop offset="0.062" stop-color="#e2cc3b"/><stop offset="0.125" stop-color="#e1ca3c"/><stop offset="0.188" stop-color="#e0c43c"/><stop offset="0.250" stop-color="#dfbc3c"/><stop offset="0.312" stop-color="#e2b338"/><stop offset="0.375" stop-color="#dfa643"/><stop offset="0.438" stop-color="#e19646"/><stop offset="0.500" stop-color="#de844c"/><stop offset="0.562" stop-color="#df7057"/><stop offset="0.625" stop-color="#d65966"/><stop offset="0.688" stop-color="#c63e7a"/><stop offset="0.750" stop-color="#a8238e"/><stop offset="0.812" stop-color="#7f1f9d"/><stop offset="0.875" stop-color="#592095"/><stop offset="0.938" stop-color="#37247d"/><stop offset="1.000" stop-color="#1f286e"/></linearGradient><linearGradient id="hd51"><stop offset="0.000" stop-color="#e2cb3c"/><stop offset="0.062" stop-color="#e1cd3b"/><stop offset="0.125" stop-color="#e2cb3c"/><stop offset="0.188" stop-color="#e1c53c"/><stop offset="0.250" stop-color="#dfbd3b"/><stop offset="0.312" stop-color="#e2b339"/><stop offset="0.375" stop-color="#dfa643"/><stop offset="0.438" stop-color="#e09646"/><stop offset="0.500" stop-color="#de844c"/><stop offset="0.562" stop-color="#df7057"/><stop offset="0.625" stop-color="#d65966"/><stop offset="0.688" stop-color="#c63e7a"/><stop offset="0.750" stop-color="#a7238e"/><stop offset="0.812" stop-color="#7f1f9d"/><stop offset="0.875" stop-color="#592095"/><stop offset="0.938" stop-color="#36247c"/><stop offset="1.000" stop-color="#1f286e"/></linearGradient><linearGradient id="hd52"><stop offset="0.000" stop-color="#e1cc3b"/><stop offset="0.062" stop-color="#e1cd3c"/><stop offset="0.125" stop-color="#e1cc3a"/><stop offset="0.188" stop-color="#e1c63b"/><stop offset="0.250" stop-color="#dfbd3b"/><stop offset="0.312" stop-color="#e2b439"/><stop offset="0.375" stop-color="#dfa743"/><stop offset="0.438" stop-color="#e09746"/><stop offset="0.500" stop-color="#de844c"/><stop offset="0.562" stop-color="#df7157"/><stop offset="0.625" stop-color="#d65a65"/><stop offset="0.688" stop-color="#c63e7a"/><stop offset="0.750" stop-color="#a7238e"/><stop offset="0.812" stop-color="#7f1e9d"/><stop offset="0.875" stop-color="#592095"/><stop offset="0.938" stop-color="#36247c"/><stop offset="1.000" stop-color="#1f286e"/></linearGradient><linearGradient id="hd53"><stop offset="0.000" stop-color="#e1cd3d"/><stop offset="0.062" stop-color="#e1ce3b"/><stop offset="0.125" stop-color="#e1cd3c"/><stop offset="0.188" stop-color="#e1c73c"/><stop offset="0.250" stop-color="#dfbe3b"/><stop offset="0.312" stop-color="#e3b438"/><stop offset="0.375" stop-color="#dfa742"/><stop offset="0.438" stop-color="#e09746"/><stop offset="0.500" stop-color="#de854c"/><stop offset="0.562" stop-color="#df7157"/><stop offset="0.625" stop-color="#d65a65"/><stop offset="0.688" stop-color="#c63e7a"/><stop offset="0.750" stop-color="#a7238e"/><stop offset="0.812" stop-color="#7f1e9d"/><stop offset="0.875" stop-color="#582094"/><stop offset="0.938" stop-color="#36247c"/><stop offset="1.000" stop-color="#1f286e"/></linearGradient><linearGradient id="hd54"><stop offset="0.000" stop-color="#e1ce3b"/><stop offset="0.062" stop-color="#e1cf3c"/><stop offset="0.125" stop-color="#e1cd3c"/><stop offset="0.188" stop-color="#e1c83c"/><stop offset="0.250" stop-color="#dfbf3b"/><stop offset="0.312" stop-color="#e3b537"/><stop offset="0.375" stop-color="#e0a842"/><stop offset="0.438" stop-color="#df9746"/><stop offset="0.500" stop-color="#de854c"/><stop offset="0.562" stop-color="#df7157"/><stop offset="0.625" stop-color="#d65a65"/><stop offset="0.688" stop-color="#c63e7a"/><stop offset="0.750" stop-color="#a7238e"/><stop offset="0.812" stop-color="#7f1e9d"/><stop offset="0.875" stop-color="#582194"/><stop offset="0.938" stop-color="#36247c"/><stop offset="1.000" stop-color="#1f286e"/></linearGradient><linearGradient id="hd55"><stop offset="0.000" stop-color="#e1cf3c"/><stop offset="0.062" stop-color="#e1cf3c"/><stop offset="0.125" stop-color="#e1ce3b"/><stop offset="0.188" stop-color="#e1c93c"/><stop offset="0.250" stop-color="#dfbf3b"/><stop offset="0.312" stop-color="#e2b637"/><stop offset="0.375" stop-color="#e0a841"/><stop offset="0.438" stop-color="#df9846"/><stop offset="0.500" stop-color="#de854c"/><stop offset="0.562" stop-color="#e07157"/><stop offset="0.625" stop-color="#d65a65"/><stop offset="0.688" stop-color="#c63e7a"/><stop offset="0.750" stop-color="#a7238f"/><stop offset="0.812" stop-color="#7e1e9d"/><stop offset="0.875" stop-color="#582194"/><stop offset="0.938" stop-color="#36247c"/><stop offset="1.000" stop-color="#1f286e"/></linearGradient><linearGradient id="hd56"><stop offset="0.000" stop-color="#e1cf3c"/><stop offset="0.062" stop-color="#e0d03b"/><stop offset="0.125" stop-color="#e1ce3c"/><stop offset="0.188" stop-color="#e2ca3c"/><stop offset="0.250" stop-color="#dfc03b"/><stop offset="0.312" stop-color="#e2b637"/><stop offset="0.375" stop-color="#e0a941"/><stop offset="0.438" stop-color="#df9846"/><stop offset="0.500" stop-color="#de864b"/><stop offset="0.562" stop-color="#e07157"/><stop offset="0.625" stop-color="#d65a65"/><stop offset="0.688" stop-color="#c63e7a"/><stop offset="0.750" stop-color="#a7248f"/><stop offset="0.812" stop-color="#7e1e9d"/><stop offset="0.875" stop-color="#582194"/><stop offset="0.938" stop-color="#36247c"/><stop offset="1.000" stop-color="#1f286e"/></linearGradient><linearGradient id="hd57"><stop offset="0.000" stop-color="#e0d03b"/><stop offset="0.062" stop-color="#e0d03a"/><stop offset="0.125" stop-color="#e1cf3c"/><stop offset="0.188" stop-color="#e2cb3b"/><stop offset="0.250" stop-color="#e0c13c"/><stop offset="0.312" stop-color="#e1b738"/><stop offset="0.375" stop-color="#e0a941"/><stop offset="0.438" stop-color="#df9846"/><stop offset="0.500" stop-color="#de864b"/><stop offset="0.562" stop-color="#e07257"/><stop offset="0.625" stop-color="#d65a65"/><stop offset="0.688" stop-color="#c63e7a"/><stop offset="0.750" stop-color="#a6248f"/><stop offset="0.812" stop-color="#7e1e9d"/><stop offset="0.875" stop-color="#572194"/><stop offset="0.938" stop-color="#36247c"/><stop offset="1.000" stop-color="#1f286e"/></linearGradient><linearGradient id="hd58"><stop offset="0.000" stop-color="#e0d03a"/><stop offset="0.062" stop-color="#dfd13b"/><stop offset="0.125" stop-color="#e1cf3c"/><stop offset="0.188" stop-color="#e1cc3a"/><stop offset="0.250" stop-color="#e0c23c"/><stop offset="0.312" stop-color="#e1b738"/><stop offset="0.375" stop-color="#dfa941"/><stop offset="0.438" stop-color="#df9846"/><stop offset="0.500" stop-color="#de864b"/><stop offset="0.562" stop-color="#e07257"/><stop offset="0.625" stop-color="#d65a65"/><stop offset="0.688" stop-color="#c63e7a"/><stop offset="0.750" stop-color="#a6248f"/><stop offset="0.812" stop-color="#7d1e9d"/><stop offset="0.875" stop-color="#572194"/><stop offset="0.938" stop-color="#35247b"/><stop offset="1.000" stop-color="#1f286e"/></linearGradient><linearGradient id="hd59"><stop offset="0.000" stop-color="#dfd13b"/><stop offset="0.062" stop-color="#dfd13b"/><stop offset="0.125" stop-color="#e0d03b"/><stop offset="0.188" stop-color="#e1cd3b"/><stop offset="0.250" stop-color="#dfc23c"/><stop offset="0.312" stop-color="#e1b739"/><stop offset="0.375" stop-color="#dfa941"/><stop offset="0.438" stop-color="#df9846"/><stop offset="0.500" stop-color="#de864b"/><stop offset="0.562" stop-color="#e07257"/><stop offset="0.625" stop-color="#d65a65"/><stop offset="0.688" stop-color="#c63e7a"/><stop offset="0.750" stop-color="#a6248f"/><stop offset="0.812" stop-color="#7d1e9d"/><stop offset="0.875" stop-color="#572193"/><stop offset="0.938" stop-color="#35247b"/><stop offset="1.000" stop-color="#1f286e"/></linearGradient><linearGradient id="hd60"><stop offset="0.000" stop-color="#dfd23b"/><stop offset="0.062" stop-color="#dfd23a"/><stop offset="0.125" stop-color="#e0d03a"/><stop offset="0.188" stop-color="#e1cd3c"/><stop offset="0.250" stop-color="#dfc33c"/><stop offset="0.312" stop-color="#e1b739"/><stop offset="0.375" stop-color="#dfa940"/><stop offset="0.438" stop-color="#df9947"/><stop offset="0.500" stop-color="#de864b"/><stop offset="0.562" stop-color="#e07257"/><stop offset="0.625" stop-color="#d65a65"/><stop offset="0.688" stop-color="#c63e7a"/><stop offset="0.750" stop-color="#a6248f"/><stop offset="0.812" stop-color="#7c1e9d"/><stop offset="0.875" stop-color="#562193"/><stop offset="0.938" stop-color="#35247b"/><stop offset="1.000" stop-color="#1f286e"/></linearGradient><linearGradient id="hd61"><stop offset="0.000" stop-color="#dfd23a"/><stop offset="0.062" stop-color="#dfd239"/><stop offset="0.125" stop-color="#dfd13b"/><stop offset="0.188" stop-color="#e1cd3c"/><stop offset="0.250" stop-color="#e0c43c"/><stop offset="0.312" stop-color="#e1b839"/><stop offset="0.375" stop-color="#e0aa40"/><stop offset="0.438" stop-color="#df9947"/><stop offset="0.500" stop-color="#de864b"/><stop offset="0.562" stop-color="#e07257"/><stop offset="0.625" stop-color="#d65a65"/><stop offset="0.688" stop-color="#c63e7a"/><stop offset="0.750" stop-color="#a6248f"/><stop offset="0.812" stop-color="#7c1e9d"/><stop offset="0.875" stop-color="#562193"/><stop offset="0.938" stop-color="#35247b"/><stop offset="1.000" stop-color="#1f286e"/></linearGradient><linearGradient id="hd62"><stop offset="0.000" stop-color="#dfd239"/><stop offset="0.062" stop-color="#dfd239"/><stop offset="0.125" stop-color="#dfd13b"/><stop offset="0.188" stop-color="#e1ce3c"/><stop offset="0.250" stop-color="#e0c43c"/><stop offset="0.312" stop-color="#e1b939"/><stop offset="0.375" stop-color="#e0ab40"/><stop offset="0.438" stop-color="#df9947"/><stop offset="0.500" stop-color="#de874c"/><stop offset="0.562" stop-color="#e07257"/><stop offset="0.625" stop-color="#d65a65"/><stop offset="0.688" stop-color="#c63e7a"/><stop offset="0.750" stop-color="#a6248f"/><stop offset="0.812" stop-color="#7c1e9d"/><stop offset="0.875" stop-color="#562193"/><stop offset="0.938" stop-color="#35247b"/><stop offset="1.000" stop-color="#1f286e"/></linearGradient><linearGradient id="hd63"><stop offset="0.000" stop-color="#dfd239"/><stop offset="0.062" stop-color="#dfd239"/><stop offset="0.125" stop-color="#dfd23b"/><stop offset="0.188" stop-color="#e1ce3c"/><stop offset="0.250" stop-color="#e0c53c"/><stop offset="0.312" stop-color="#e0b939"/><stop offset="0.375" stop-color="#e1ab40"/><stop offset="0.438" stop-color="#df9946"/><stop offset="0.500" stop-color="#de874c"/><stop offset="0.562" stop-color="#e07257"/><stop offset="0.625" stop-color="#d65a65"/><stop offset="0.688" stop-color="#c63e7a"/><stop offset="0.750" stop-color="#a5248f"/><stop offset="0.812" stop-color="#7c1f9d"/><stop offset="0.875" stop-color="#552193"/><stop offset="0.938" stop-color="#35247b"/><stop offset="1.000" stop-color="#1f286e"/></linearGradient><linearGradient id="hd64"><stop offset="0.000" stop-color="#dfd338"/><stop offset="0.062" stop-color="#dfd338"/><stop offset="0.125" stop-color="#dfd23a"/><stop offset="0.188" stop-color="#e1ce3c"/><stop offset="0.250" stop-color="#e1c63b"/><stop offset="0.312" stop-color="#e0b939"/><stop offset="0.375" stop-color="#e1ab40"/><stop offset="0.438" stop-color="#df9a46"/><stop offset="0.500" stop-color="#de874c"/><stop offset="0.562" stop-color="#e07257"/><stop offset="0.625" stop-color="#d65a65"/><stop offset="0.688" stop-color="#c63e7a"/><stop offset="0.750" stop-color="#a5248f"/><stop offset="0.812" stop-color="#7c1f9d"/><stop offset="0.875" stop-color="#552193"/><stop offset="0.938" stop-color="#35247b"/><stop offset="1.000" stop-color="#1f286e"/></linearGradient><linearGradient id="hd65"><stop offset="0.000" stop-color="#ded337"/><stop offset="0.062" stop-color="#ded337"/><stop offset="0.125" stop-color="#dfd239"/><stop offset="0.188" stop-color="#e1cf3c"/><stop offset="0.250" stop-color="#e1c63b"/><stop offset="0.312" stop-color="#e0b939"/><stop offset="0.375" stop-color="#e1ac3f"/><stop offset="0.438" stop-color="#df9a46"/><stop offset="0.500" stop-color="#de874c"/><stop offset="0.562" stop-color="#e07257"/><stop offset="0.625" stop-color="#d65a65"/><stop offset="0.688" stop-color="#c63e7a"/><stop offset="0.750" stop-color="#a5248f"/><stop offset="0.812" stop-color="#7c1f9e"/><stop offset="0.875" stop-color="#552193"/><stop offset="0.938" stop-color="#35247b"/><stop offset="1.000" stop-color="#1f286e"/></linearGradient><linearGradient id="hd66"><stop offset="0.000" stop-color="#ded335"/><stop offset="0.062" stop-color="#ded336"/><stop offset="0.125" stop-color="#dfd239"/><stop offset="0.188" stop-color="#e1cf3c"/><stop offset="0.250" stop-color="#e1c73b"/><stop offset="0.312" stop-color="#e0b93a"/><stop offset="0.375" stop-color="#e1ac3f"/><stop offset="0.438" stop-color="#df9a46"/><stop offset="0.500" stop-color="#df874c"/><stop offset="0.562" stop-color="#e07257"/><stop offset="0.625" stop-color="#d65a65"/><stop offset="0.688" stop-color="#c63e7a"/><stop offset="0.750" stop-color="#a5248f"/><stop offset="0.812" stop-color="#7c1f9e"/><stop offset="0.875" stop-color="#552193"/><stop offset="0.938" stop-color="#34247b"/><stop offset="1.000" stop-color="#1f286e"/></linearGradient><linearGradient id="hd67"><stop offset="0.000" stop-color="#ded335"/><stop offset="0.062" stop-color="#ded335"/><stop offset="0.125" stop-color="#dfd239"/><stop offset="0.188" stop-color="#e1cf3c"/><stop offset="0.250" stop-color="#e1c73c"/><stop offset="0.312" stop-color="#e0b93a"/><stop offset="0.375" stop-color="#e1ac3f"/><stop offset="0.438" stop-color="#df9a46"/><stop offset="0.500" stop-color="#df874c"/><stop offset="0.562" stop-color="#e07257"/><stop offset="0.625" stop-color="#d65a65"/><stop offset="0.688" stop-color="#c63d7a"/><stop offset="0.750" stop-color="#a5248f"/><stop offset="0.812" stop-color="#7c1f9e"/><stop offset="0.875" stop-color="#552193"/><stop offset="0.938" stop-color="#34247b"/><stop offset="1.000" stop-color="#1f286e"/></linearGradient><linearGradient id="hd68"><stop offset="0.000" stop-color="#ded435"/><stop offset="0.062" stop-color="#ded335"/><stop offset="0.125" stop-color="#dfd239"/><stop offset="0.188" stop-color="#e1d03c"/><stop offset="0.250" stop-color="#e1c83c"/><stop offset="0.312" stop-color="#e0ba3a"/><stop offset="0.375" stop-color="#e1ac3f"/><stop offset="0.438" stop-color="#df9a46"/><stop offset="0.500" stop-color="#df874c"/><stop offset="0.562" stop-color="#e07257"/><stop offset="0.625" stop-color="#d65a65"/><stop offset="0.688" stop-color="#c63d7a"/><stop offset="0.750" stop-color="#a5248f"/><stop offset="0.812" stop-color="#7c1f9e"/><stop offset="0.875" stop-color="#552193"/><stop offset="0.938" stop-color="#34247b"/><stop offset="1.000" stop-color="#1f286e"/></linearGradient><linearGradient id="hd69"><stop offset="0.000" stop-color="#ded434"/><stop offset="0.062" stop-color="#ded435"/><stop offset="0.125" stop-color="#dfd338"/><stop offset="0.188" stop-color="#e0d03b"/><stop offset="0.250" stop-color="#e1c83c"/><stop offset="0.312" stop-color="#e0ba3b"/><stop offset="0.375" stop-color="#e1ac3f"/><stop offset="0.438" stop-color="#df9b46"/><stop offset="0.500" stop-color="#df874b"/><stop offset="0.562" stop-color="#e07257"/><stop offset="0.625" stop-color="#d65a65"/><stop offset="0.688" stop-color="#c63d7a"/><stop offset="0.750" stop-color="#a5248f"/><stop offset="0.812" stop-color="#7c1f9e"/><stop offset="0.875" stop-color="#552193"/><stop offset="0.938" stop-color="#34247b"/><stop offset="1.000" stop-color="#1f286e"/></linearGradient><linearGradient id="hd70"><stop offset="0.000" stop-color="#ded433"/><stop offset="0.062" stop-color="#ded434"/><stop offset="0.125" stop-color="#dfd338"/><stop offset="0.188" stop-color="#e0d03a"/><stop offset="0.250" stop-color="#e1c83c"/><stop offset="0.312" stop-color="#e0ba3b"/><stop offset="0.375" stop-color="#e1ac3e"/><stop offset="0.438" stop-color="#df9b46"/><stop offset="0.500" stop-color="#de874b"/><stop offset="0.562" stop-color="#e07257"/><stop offset="0.625" stop-color="#d65a65"/><stop offset="0.688" stop-color="#c63d7a"/><stop offset="0.750" stop-color="#a5248f"/><stop offset="0.812" stop-color="#7c1f9e"/><stop offset="0.875" stop-color="#552192"/><stop offset="0.938" stop-color="#34247b"/><stop offset="1.000" stop-color="#1f286e"/></linearGradient><linearGradient id="hd71"><stop offset="0.000" stop-color="#ded432"/><stop offset="0.062" stop-color="#ded433"/><stop offset="0.125" stop-color="#ded337"/><stop offset="0.188" stop-color="#e0d03a"/><stop offset="0.250" stop-color="#e1c93c"/><stop offset="0.312" stop-color="#e0bb3b"/><stop offset="0.375" stop-color="#e1ac3e"/><stop offset="0.438" stop-color="#df9b46"/><stop offset="0.500" stop-color="#de874b"/><stop offset="0.562" stop-color="#e07257"/><stop offset="0.625" stop-color="#d65a65"/><stop offset="0.688" stop-color="#c63d7a"/><stop offset="0.750" stop-color="#a5248f"/><stop offset="0.812" stop-color="#7c1f9e"/><stop offset="0.875" stop-color="#552193"/><stop offset="0.938" stop-color="#34247b"/><stop offset="1.000" stop-color="#1f286e"/></linearGradient><linearGradient id="hd72"><stop offset="0.000" stop-color="#ded331"/><stop offset="0.062" stop-color="#ded432"/><stop offset="0.125" stop-color="#ded336"/><stop offset="0.188" stop-color="#e0d03a"/><stop offset="0.250" stop-color="#e1c93c"/><stop offset="0.312" stop-color="#e0bb3b"/><stop offset="0.375" stop-color="#e1ad3e"/><stop offset="0.438" stop-color="#df9b46"/><stop offset="0.500" stop-color="#de874b"/><stop offset="0.562" stop-color="#e07257"/><stop offset="0.625" stop-color="#d65a65"/><stop offset="0.688" stop-color="#c53d7a"/><stop offset="0.750" stop-color="#a5248f"/><stop offset="0.812" stop-color="#7c1f9e"/><stop offset="0.875" stop-color="#552193"/><stop offset="0.938" stop-color="#34247b"/><stop offset="1.000" stop-color="#1f286e"/></linearGradient><linearGradient id="hd73"><stop offset="0.000" stop-color="#ddd431"/><stop offset="0.062" stop-color="#ded332"/><stop offset="0.125" stop-color="#ded335"/><stop offset="0.188" stop-color="#dfd13b"/><stop offset="0.250" stop-color="#e1c93c"/><stop offset="0.312" stop-color="#dfbb3b"/><stop offset="0.375" stop-color="#e1ad3e"/><stop offset="0.438" stop-color="#df9b46"/><stop offset="0.500" stop-color="#de874b"/><stop offset="0.562" stop-color="#e07257"/><stop offset="0.625" stop-color="#d65a65"/><stop offset="0.688" stop-color="#c53d7a"/><stop offset="0.750" stop-color="#a5248f"/><stop offset="0.812" stop-color="#7c1f9e"/><stop offset="0.875" stop-color="#552193"/><stop offset="0.938" stop-color="#35247b"/><stop offset="1.000" stop-color="#1f286e"/></linearGradient><linearGradient id="hd74"><stop offset="0.000" stop-color="#ded431"/><stop offset="0.062" stop-color="#ddd331"/><stop offset="0.125" stop-color="#ded335"/><stop offset="0.188" stop-color="#dfd13b"/><stop offset="0.250" stop-color="#e1ca3c"/><stop offset="0.312" stop-color="#dfbb3c"/><stop offset="0.375" stop-color="#e1ad3e"/><stop offset="0.438" stop-color="#df9b46"/><stop offset="0.500" stop-color="#de874b"/><stop offset="0.562" stop-color="#e07257"/><stop offset="0.625" stop-color="#d65a65"/><stop offset="0.688" stop-color="#c53d7a"/><stop offset="0.750" stop-color="#a5248f"/><stop offset="0.812" stop-color="#7c1f9e"/><stop offset="0.875" stop-color="#552193"/><stop offset="0.938" stop-color="#35247b"/><stop offset="1.000" stop-color="#1f286e"/></linearGradient><linearGradient id="hd75"><stop offset="0.000" stop-color="#ded431"/><stop offset="0.062" stop-color="#ddd431"/><stop offset="0.125" stop-color="#ded335"/><stop offset="0.188" stop-color="#dfd13b"/><stop offset="0.250" stop-color="#e2ca3c"/><stop offset="0.312" stop-color="#dfbb3c"/><stop offset="0.375" stop-color="#e1ad3e"/><stop offset="0.438" stop-color="#df9b46"/><stop offset="0.500" stop-color="#de874b"/><stop offset="0.562" stop-color="#e07257"/><stop offset="0.625" stop-color="#d65a65"/><stop offset="0.688" stop-color="#c63d7a"/><stop offset="0.750" stop-color="#a5248f"/><stop offset="0.812" stop-color="#7c1f9e"/><stop offset="0.875" stop-color="#552193"/><stop offset="0.938" stop-color="#35247b"/><stop offset="1.000" stop-color="#1f286e"/></linearGradient><linearGradient id="hd76"><stop offset="0.000" stop-color="#ddd431"/><stop offset="0.062" stop-color="#ded431"/><stop offset="0.125" stop-color="#ded335"/><stop offset="0.188" stop-color="#dfd13b"/><stop offset="0.250" stop-color="#e2ca3c"/><stop offset="0.312" stop-color="#dfbc3c"/><stop offset="0.375" stop-color="#e1ad3e"/><stop offset="0.438" stop-color="#df9b46"/><stop offset="0.500" stop-color="#de874b"/><stop offset="0.562" stop-color="#e07257"/><stop offset="0.625" stop-color="#d65a65"/><stop offset="0.688" stop-color="#c63d7a"/><stop offset="0.750" stop-color="#a5248f"/><stop offset="0.812" stop-color="#7c1f9e"/><stop offset="0.875" stop-color="#552193"/><stop offset="0.938" stop-color="#35247b"/><stop offset="1.000" stop-color="#1f286e"/></linearGradient><linearGradient id="hd77"><stop offset="0.000" stop-color="#ddd431"/><stop offset="0.062" stop-color="#ded431"/><stop offset="0.125" stop-color="#ded335"/><stop offset="0.188" stop-color="#dfd13b"/><stop offset="0.250" stop-color="#e2ca3c"/><stop offset="0.312" stop-color="#dfbc3c"/><stop offset="0.375" stop-color="#e1ad3e"/><stop offset="0.438" stop-color="#df9b45"/><stop offset="0.500" stop-color="#de874b"/><stop offset="0.562" stop-color="#e07257"/><stop offset="0.625" stop-color="#d65a65"/><stop offset="0.688" stop-color="#c63d7a"/><stop offset="0.750" stop-color="#a5248f"/><stop offset="0.812" stop-color="#7c1f9d"/><stop offset="0.875" stop-color="#562193"/><stop offset="0.938" stop-color="#35247b"/><stop offset="1.000" stop-color="#1f286e"/></linearGradient><linearGradient id="hd78"><stop offset="0.000" stop-color="#ddd331"/><stop offset="0.062" stop-color="#ddd431"/><stop offset="0.125" stop-color="#ded435"/><stop offset="0.188" stop-color="#dfd13b"/><stop offset="0.250" stop-color="#e2ca3c"/><stop offset="0.312" stop-color="#dfbc3c"/><stop offset="0.375" stop-color="#e1ad3e"/><stop offset="0.438" stop-color="#df9b45"/><stop offset="0.500" stop-color="#de874b"/><stop offset="0.562" stop-color="#e07257"/><stop offset="0.625" stop-color="#d65a65"/><stop offset="0.688" stop-color="#c63d7a"/><stop offset="0.750" stop-color="#a5248f"/><stop offset="0.812" stop-color="#7c1f9d"/><stop offset="0.875" stop-color="#562193"/><stop offset="0.938" stop-color="#36247b"/><stop offset="1.000" stop-color="#1f286e"/></linearGradient><linearGradient id="hd79"><stop offset="0.000" stop-color="#ddd331"/><stop offset="0.062" stop-color="#ddd431"/><stop offset="0.125" stop-color="#ded435"/><stop offset="0.188" stop-color="#dfd13b"/><stop offset="0.250" stop-color="#e2cb3c"/><stop offset="0.312" stop-color="#dfbc3c"/><stop offset="0.375" stop-color="#e1ad3e"/><stop offset="0.438" stop-color="#df9b45"/><stop offset="0.500" stop-color="#de874b"/><stop offset="0.562" stop-color="#e07357"/><stop offset="0.625" stop-color="#d65a65"/><stop offset="0.688" stop-color="#c63e7a"/><stop offset="0.750" stop-color="#a5248f"/><stop offset="0.812" stop-color="#7c1e9d"/><stop offset="0.875" stop-color="#562193"/><stop offset="0.938" stop-color="#36247c"/><stop offset="1.000" stop-color="#1f286e"/></linearGradient><linearGradient id="hd80"><stop offset="0.000" stop-color="#ddd331"/><stop offset="0.062" stop-color="#ddd431"/><stop offset="0.125" stop-color="#ded435"/><stop offset="0.188" stop-color="#dfd13b"/><stop offset="0.250" stop-color="#e2cb3c"/><stop offset="0.312" stop-color="#dfbc3c"/><stop offset="0.375" stop-color="#e1ad3e"/><stop offset="0.438" stop-color="#df9b45"/><stop offset="0.500" stop-color="#de874b"/><stop offset="0.562" stop-color="#e07356"/><stop offset="0.625" stop-color="#d65a65"/><stop offset="0.688" stop-color="#c63e7a"/><stop offset="0.750" stop-color="#a5248f"/><stop offset="0.812" stop-color="#7c1e9d"/><stop offset="0.875" stop-color="#572194"/><stop offset="0.938" stop-color="#36247c"/><stop offset="1.000" stop-color="#1f286e"/></linearGradient><linearGradient id="hd81"><stop offset="0.000" stop-color="#ddd331"/><stop offset="0.062" stop-color="#ddd431"/><stop offset="0.125" stop-color="#ded435"/><stop offset="0.188" stop-color="#dfd13b"/><stop offset="0.250" stop-color="#e2cb3c"/><stop offset="0.312" stop-color="#dfbc3c"/><stop offset="0.375" stop-color="#e1ae3e"/><stop offset="0.438" stop-color="#df9b45"/><stop offset="0.500" stop-color="#de874b"/><stop offset="0.562" stop-color="#e07356"/><stop offset="0.625" stop-color="#d65a65"/><stop offset="0.688" stop-color="#c63e7a"/><stop offset="0.750" stop-color="#a6248f"/><stop offset="0.812" stop-color="#7d1e9d"/><stop offset="0.875" stop-color="#582194"/><stop offset="0.938" stop-color="#36247c"/><stop offset="1.000" stop-color="#1f286e"/></linearGradient><linearGradient id="hd82"><stop offset="0.000" stop-color="#ddd331"/><stop offset="0.062" stop-color="#ddd431"/><stop offset="0.125" stop-color="#ded434"/><stop offset="0.188" stop-color="#dfd23b"/><stop offset="0.250" stop-color="#e2cb3c"/><stop offset="0.312" stop-color="#dfbc3c"/><stop offset="0.375" stop-color="#e1ae3e"/><stop offset="0.438" stop-color="#df9b45"/><stop offset="0.500" stop-color="#de874b"/><stop offset="0.562" stop-color="#e07356"/><stop offset="0.625" stop-color="#d65a65"/><stop offset="0.688" stop-color="#c63e7a"/><stop offset="0.750" stop-color="#a6248f"/><stop offset="0.812" stop-color="#7e1e9d"/><stop offset="0.875" stop-color="#582194"/><stop offset="0.938" stop-color="#36247c"/><stop offset="1.000" stop-color="#20286e"/></linearGradient><linearGradient id="hd83"><stop offset="0.000" stop-color="#ddd331"/><stop offset="0.062" stop-color="#ddd431"/><stop offset="0.125" stop-color="#ded434"/><stop offset="0.188" stop-color="#dfd23b"/><stop offset="0.250" stop-color="#e2cb3c"/><stop offset="0.312" stop-color="#dfbc3c"/><stop offset="0.375" stop-color="#e1ae3e"/><stop offset="0.438" stop-color="#df9b45"/><stop offset="0.500" stop-color="#de874b"/><stop offset="0.562" stop-color="#e07356"/><stop offset="0.625" stop-color="#d65b65"/><stop offset="0.688" stop-color="#c63e7a"/><stop offset="0.750" stop-color="#a6248f"/><stop offset="0.812" stop-color="#7e1e9d"/><stop offset="0.875" stop-color="#582095"/><stop offset="0.938" stop-color="#37247d"/><stop offset="1.000" stop-color="#20286f"/></linearGradient><linearGradient id="hd84"><stop offset="0.000" stop-color="#ddd331"/><stop offset="0.062" stop-color="#ddd431"/><stop offset="0.125" stop-color="#ded434"/><stop offset="0.188" stop-color="#dfd23a"/><stop offset="0.250" stop-color="#e2cb3c"/><stop offset="0.312" stop-color="#dfbc3c"/><stop offset="0.375" stop-color="#e1ae3e"/><stop offset="0.438" stop-color="#df9b45"/><stop offset="0.500" stop-color="#de874b"/><stop offset="0.562" stop-color="#e07356"/><stop offset="0.625" stop-color="#d65b65"/><stop offset="0.688" stop-color="#c63e7a"/><stop offset="0.750" stop-color="#a7238f"/><stop offset="0.812" stop-color="#7f1e9d"/><stop offset="0.875" stop-color="#592095"/><stop offset="0.938" stop-color="#37247d"/><stop offset="1.000" stop-color="#212870"/></linearGradient><linearGradient id="hd85"><stop offset="0.000" stop-color="#ddd331"/><stop offset="0.062" stop-color="#ddd331"/><stop offset="0.125" stop-color="#ded434"/><stop offset="0.188" stop-color="#dfd23a"/><stop offset="0.250" stop-color="#e2cb3c"/><stop offset="0.312" stop-color="#dfbc3c"/><stop offset="0.375" stop-color="#e1ae3e"/><stop offset="0.438" stop-color="#df9b45"/><stop offset="0.500" stop-color="#de874b"/><stop offset="0.562" stop-color="#e07356"/><stop offset="0.625" stop-color="#d65b65"/><stop offset="0.688" stop-color="#c63e7a"/><stop offset="0.750" stop-color="#a7238e"/><stop offset="0.812" stop-color="#7f1f9d"/><stop offset="0.875" stop-color="#5a2095"/><stop offset="0.938" stop-color="#38247d"/><stop offset="1.000" stop-color="#212870"/></linearGradient><linearGradient id="hd86"><stop offset="0.000" stop-color="#ddd331"/><stop offset="0.062" stop-color="#ddd331"/><stop offset="0.125" stop-color="#ded434"/><stop offset="0.188" stop-color="#dfd23a"/><stop offset="0.250" stop-color="#e2cb3c"/><stop offset="0.312" stop-color="#dfbc3c"/><stop offset="0.375" stop-color="#e1ae3e"/><stop offset="0.438" stop-color="#df9b45"/><stop offset="0.500" stop-color="#de874b"/><stop offset="0.562" stop-color="#e07356"/><stop offset="0.625" stop-color="#d65b65"/><stop offset="0.688" stop-color="#c73f7a"/><stop offset="0.750" stop-color="#a8238e"/><stop offset="0.812" stop-color="#801f9c"/><stop offset="0.875" stop-color="#5a1f96"/><stop offset="0.938" stop-color="#38247e"/><stop offset="1.000" stop-color="#222871"/></linearGradient><linearGradient id="hd87"><stop offset="0.000" stop-color="#ddd331"/><stop offset="0.062" stop-color="#ddd331"/><stop offset="0.125" stop-color="#ded434"/><stop offset="0.188" stop-color="#dfd23b"/><stop offset="0.250" stop-color="#e2cb3c"/><stop offset="0.312" stop-color="#dfbc3c"/><stop offset="0.375" stop-color="#e1ae3e"/><stop offset="0.438" stop-color="#df9b45"/><stop offset="0.500" stop-color="#de884b"/><stop offset="0.562" stop-color="#e07356"/><stop offset="0.625" stop-color="#d75b65"/><stop offset="0.688" stop-color="#c73f7a"/><stop offset="0.750" stop-color="#a8248e"/><stop offset="0.812" stop-color="#801f9c"/><stop offset="0.875" stop-color="#5b1f96"/><stop offset="0.938" stop-color="#38247e"/><stop offset="1.000" stop-color="#232871"/></linearGradient></defs>
<clipPath id="hdclip"><rect x="423.3" y="283.4" width="181.99999999999994" height="173.70000000000005"/></clipPath>
<g clip-path="url(#hdclip)" shape-rendering="crispEdges"><rect x="423.3" y="283" width="181.99999999999994" height="2" fill="url(#hd0)"/><rect x="423.3" y="285" width="181.99999999999994" height="2" fill="url(#hd1)"/><rect x="423.3" y="287" width="181.99999999999994" height="2" fill="url(#hd2)"/><rect x="423.3" y="289" width="181.99999999999994" height="2" fill="url(#hd3)"/><rect x="423.3" y="291" width="181.99999999999994" height="2" fill="url(#hd4)"/><rect x="423.3" y="293" width="181.99999999999994" height="2" fill="url(#hd5)"/><rect x="423.3" y="295" width="181.99999999999994" height="2" fill="url(#hd6)"/><rect x="423.3" y="297" width="181.99999999999994" height="2" fill="url(#hd7)"/><rect x="423.3" y="299" width="181.99999999999994" height="2" fill="url(#hd8)"/><rect x="423.3" y="301" width="181.99999999999994" height="2" fill="url(#hd9)"/><rect x="423.3" y="303" width="181.99999999999994" height="2" fill="url(#hd10)"/><rect x="423.3" y="305" width="181.99999999999994" height="2" fill="url(#hd11)"/><rect x="423.3" y="307" width="181.99999999999994" height="2" fill="url(#hd12)"/><rect x="423.3" y="309" width="181.99999999999994" height="2" fill="url(#hd13)"/><rect x="423.3" y="311" width="181.99999999999994" height="2" fill="url(#hd14)"/><rect x="423.3" y="313" width="181.99999999999994" height="2" fill="url(#hd15)"/><rect x="423.3" y="315" width="181.99999999999994" height="2" fill="url(#hd16)"/><rect x="423.3" y="317" width="181.99999999999994" height="2" fill="url(#hd17)"/><rect x="423.3" y="319" width="181.99999999999994" height="2" fill="url(#hd18)"/><rect x="423.3" y="321" width="181.99999999999994" height="2" fill="url(#hd19)"/><rect x="423.3" y="323" width="181.99999999999994" height="2" fill="url(#hd20)"/><rect x="423.3" y="325" width="181.99999999999994" height="2" fill="url(#hd21)"/><rect x="423.3" y="327" width="181.99999999999994" height="2" fill="url(#hd22)"/><rect x="423.3" y="329" width="181.99999999999994" height="2" fill="url(#hd23)"/><rect x="423.3" y="331" width="181.99999999999994" height="2" fill="url(#hd24)"/><rect x="423.3" y="333" width="181.99999999999994" height="2" fill="url(#hd25)"/><rect x="423.3" y="335" width="181.99999999999994" height="2" fill="url(#hd26)"/><rect x="423.3" y="337" width="181.99999999999994" height="2" fill="url(#hd27)"/><rect x="423.3" y="339" width="181.99999999999994" height="2" fill="url(#hd28)"/><rect x="423.3" y="341" width="181.99999999999994" height="2" fill="url(#hd29)"/><rect x="423.3" y="343" width="181.99999999999994" height="2" fill="url(#hd30)"/><rect x="423.3" y="345" width="181.99999999999994" height="2" fill="url(#hd31)"/><rect x="423.3" y="347" width="181.99999999999994" height="2" fill="url(#hd32)"/><rect x="423.3" y="349" width="181.99999999999994" height="2" fill="url(#hd33)"/><rect x="423.3" y="351" width="181.99999999999994" height="2" fill="url(#hd34)"/><rect x="423.3" y="353" width="181.99999999999994" height="2" fill="url(#hd35)"/><rect x="423.3" y="355" width="181.99999999999994" height="2" fill="url(#hd36)"/><rect x="423.3" y="357" width="181.99999999999994" height="2" fill="url(#hd37)"/><rect x="423.3" y="359" width="181.99999999999994" height="2" fill="url(#hd38)"/><rect x="423.3" y="361" width="181.99999999999994" height="2" fill="url(#hd39)"/><rect x="423.3" y="363" width="181.99999999999994" height="2" fill="url(#hd40)"/><rect x="423.3" y="365" width="181.99999999999994" height="2" fill="url(#hd41)"/><rect x="423.3" y="367" width="181.99999999999994" height="2" fill="url(#hd42)"/><rect x="423.3" y="369" width="181.99999999999994" height="2" fill="url(#hd43)"/><rect x="423.3" y="371" width="181.99999999999994" height="2" fill="url(#hd44)"/><rect x="423.3" y="373" width="181.99999999999994" height="2" fill="url(#hd45)"/><rect x="423.3" y="375" width="181.99999999999994" height="2" fill="url(#hd46)"/><rect x="423.3" y="377" width="181.99999999999994" height="2" fill="url(#hd47)"/><rect x="423.3" y="379" width="181.99999999999994" height="2" fill="url(#hd48)"/><rect x="423.3" y="381" width="181.99999999999994" height="2" fill="url(#hd49)"/><rect x="423.3" y="383" width="181.99999999999994" height="2" fill="url(#hd50)"/><rect x="423.3" y="385" width="181.99999999999994" height="2" fill="url(#hd51)"/><rect x="423.3" y="387" width="181.99999999999994" height="2" fill="url(#hd52)"/><rect x="423.3" y="389" width="181.99999999999994" height="2" fill="url(#hd53)"/><rect x="423.3" y="391" width="181.99999999999994" height="2" fill="url(#hd54)"/><rect x="423.3" y="393" width="181.99999999999994" height="2" fill="url(#hd55)"/><rect x="423.3" y="395" width="181.99999999999994" height="2" fill="url(#hd56)"/><rect x="423.3" y="397" width="181.99999999999994" height="2" fill="url(#hd57)"/><rect x="423.3" y="399" width="181.99999999999994" height="2" fill="url(#hd58)"/><rect x="423.3" y="401" width="181.99999999999994" height="2" fill="url(#hd59)"/><rect x="423.3" y="403" width="181.99999999999994" height="2" fill="url(#hd60)"/><rect x="423.3" y="405" width="181.99999999999994" height="2" fill="url(#hd61)"/><rect x="423.3" y="407" width="181.99999999999994" height="2" fill="url(#hd62)"/><rect x="423.3" y="409" width="181.99999999999994" height="2" fill="url(#hd63)"/><rect x="423.3" y="411" width="181.99999999999994" height="2" fill="url(#hd64)"/><rect x="423.3" y="413" width="181.99999999999994" height="2" fill="url(#hd65)"/><rect x="423.3" y="415" width="181.99999999999994" height="2" fill="url(#hd66)"/><rect x="423.3" y="417" width="181.99999999999994" height="2" fill="url(#hd67)"/><rect x="423.3" y="419" width="181.99999999999994" height="2" fill="url(#hd68)"/><rect x="423.3" y="421" width="181.99999999999994" height="2" fill="url(#hd69)"/><rect x="423.3" y="423" width="181.99999999999994" height="2" fill="url(#hd70)"/><rect x="423.3" y="425" width="181.99999999999994" height="2" fill="url(#hd71)"/><rect x="423.3" y="427" width="181.99999999999994" height="2" fill="url(#hd72)"/><rect x="423.3" y="429" width="181.99999999999994" height="2" fill="url(#hd73)"/><rect x="423.3" y="431" width="181.99999999999994" height="2" fill="url(#hd74)"/><rect x="423.3" y="433" width="181.99999999999994" height="2" fill="url(#hd75)"/><rect x="423.3" y="435" width="181.99999999999994" height="2" fill="url(#hd76)"/><rect x="423.3" y="437" width="181.99999999999994" height="2" fill="url(#hd77)"/><rect x="423.3" y="439" width="181.99999999999994" height="2" fill="url(#hd78)"/><rect x="423.3" y="441" width="181.99999999999994" height="2" fill="url(#hd79)"/><rect x="423.3" y="443" width="181.99999999999994" height="2" fill="url(#hd80)"/><rect x="423.3" y="445" width="181.99999999999994" height="2" fill="url(#hd81)"/><rect x="423.3" y="447" width="181.99999999999994" height="2" fill="url(#hd82)"/><rect x="423.3" y="449" width="181.99999999999994" height="2" fill="url(#hd83)"/><rect x="423.3" y="451" width="181.99999999999994" height="2" fill="url(#hd84)"/><rect x="423.3" y="453" width="181.99999999999994" height="2" fill="url(#hd85)"/><rect x="423.3" y="455" width="181.99999999999994" height="2" fill="url(#hd86)"/><rect x="423.3" y="457" width="181.99999999999994" height="2" fill="url(#hd87)"/></g>
<mask id="dcm"><rect x="423.3" y="283.4" width="181.99999999999994" height="173.70000000000005" fill="#fff"/><rect x="481" y="366" width="51" height="23" fill="#000"/><rect x="521" y="328" width="49" height="25" fill="#000"/><rect x="553" y="296" width="49" height="24" fill="#000"/></mask>
<clipPath id="dc"><rect x="423.3" y="283.4" width="181.99999999999994" height="173.70000000000005"/></clipPath>
<g clip-path="url(#dc)"><path d="M423.30,307.99L423.71,307.72L424.21,307.38L425.02,306.85L425.12,306.79L426.03,306.21L426.41,305.98L426.94,305.66L427.85,305.12L427.86,305.11L428.76,304.60L429.42,304.24L429.67,304.11L430.58,303.63L431.09,303.38L431.49,303.17L432.40,302.74L432.91,302.51L433.31,302.33L434.22,301.93L434.94,301.64L435.13,301.56L436.04,301.21L436.95,300.88L437.29,300.77L437.86,300.58L438.77,300.29L439.68,300.03L440.18,299.90L440.59,299.79L441.50,299.58L442.41,299.38L443.32,299.21L444.23,299.06L444.46,299.03L445.14,298.94L446.05,298.84L446.96,298.76L447.87,298.70L448.78,298.67L449.69,298.67L450.60,298.68L451.51,298.72L452.42,298.79L453.33,298.88L454.24,298.99L454.53,299.03L455.15,299.13L456.06,299.29L456.97,299.47L457.88,299.69L458.71,299.90L458.79,299.92L459.70,300.19L460.61,300.47L461.47,300.77L461.52,300.79L462.43,301.13L463.34,301.49L463.68,301.64L464.25,301.88L465.16,302.30L465.58,302.51L466.07,302.75L466.98,303.22L467.26,303.38L467.89,303.72L468.79,304.24L468.80,304.25L469.71,304.81L470.18,305.11L470.62,305.40L471.48,305.98L471.53,306.02L472.44,306.67L472.69,306.85L473.35,307.35L473.83,307.72L474.26,308.06L474.91,308.59L475.17,308.80L475.93,309.45L476.08,309.58L476.91,310.32L476.99,310.40L477.84,311.19L477.90,311.25L478.74,312.06L478.81,312.13L479.59,312.93L479.72,313.06L480.42,313.80L480.63,314.02L481.21,314.67L481.54,315.03L481.98,315.53L482.45,316.08L482.72,316.40L483.36,317.17L483.44,317.27L484.13,318.14L484.27,318.31L484.81,319.01L485.18,319.50L485.46,319.88L486.09,320.74L486.09,320.75L486.71,321.61L487.00,322.04L487.30,322.48L487.88,323.35L487.91,323.39L488.45,324.22L488.82,324.80L489.00,325.09L489.53,325.96L489.73,326.28L490.05,326.83L490.56,327.69L490.64,327.83L491.05,328.56L491.54,329.43L491.55,329.46L492.00,330.30L492.46,331.16L492.46,331.17L492.91,332.04L493.35,332.90L493.37,332.95L493.77,333.77L494.19,334.64L494.28,334.84L494.59,335.51L494.99,336.38L495.19,336.83L495.37,337.25L495.75,338.12L496.10,338.93L496.12,338.98L496.48,339.85L496.83,340.72L497.01,341.16L497.18,341.59L497.51,342.46L497.84,343.33L497.92,343.54L498.16,344.19L498.47,345.06L498.78,345.93L498.83,346.07L499.08,346.80L499.37,347.67L499.66,348.54L499.74,348.78L499.94,349.41L500.21,350.27L500.48,351.14L500.65,351.71L500.74,352.01L500.99,352.88L501.24,353.75L501.49,354.62L501.56,354.89L501.72,355.49L501.95,356.35L502.18,357.22L502.40,358.09L502.47,358.35L502.62,358.96L502.83,359.83L503.04,360.70L503.24,361.56L503.38,362.18L503.44,362.43L503.63,363.30L503.81,364.17L504.00,365.04L504.18,365.91L504.29,366.47L504.35,366.78L504.52,367.64L504.69,368.51L504.85,369.38L505.01,370.25L505.16,371.12L505.20,371.34L505.31,371.99L505.46,372.86L505.60,373.72L505.74,374.59L505.87,375.46L506.01,376.33L506.11,377.02L506.14,377.20L506.26,378.07L506.38,378.94L506.50,379.80L506.62,380.67L506.73,381.54L506.84,382.41L506.94,383.28L507.02,383.91L507.05,384.15L507.15,385.01L507.25,385.88L507.34,386.75L507.43,387.62L507.52,388.49L507.61,389.36L507.69,390.23L507.77,391.09L507.85,391.96L507.93,392.82L507.93,392.83L508.01,393.70L508.08,394.57L508.15,395.44L508.21,396.31L508.28,397.17L508.34,398.04L508.40,398.91L508.46,399.78L508.52,400.65L508.57,401.52L508.63,402.38L508.68,403.25L508.73,404.12L508.78,404.99L508.82,405.86L508.84,406.22L508.87,406.73L508.91,407.60L508.95,408.46L508.99,409.33L509.02,410.20L509.06,411.07L509.09,411.94L509.13,412.81L509.16,413.68L509.19,414.54L509.22,415.41L509.25,416.28L509.27,417.15L509.30,418.02L509.32,418.89L509.35,419.75L509.37,420.62L509.39,421.49L509.41,422.36L509.43,423.23L509.44,424.10L509.46,424.97L509.48,425.83L509.49,426.70L509.51,427.57L509.52,428.44L509.53,429.31L509.55,430.18L509.56,431.05L509.57,431.91L509.58,432.78L509.59,433.65L509.60,434.52L509.61,435.39L509.62,436.26L509.63,437.12L509.63,437.99L509.64,438.86L509.65,439.73L509.66,440.60L509.66,441.47L509.67,442.34L509.68,443.20L509.68,444.07L509.69,444.94L509.70,445.81L509.70,446.68L509.71,447.55L509.72,448.42L509.72,449.28L509.73,450.15L509.74,451.02L509.75,451.89L509.75,452.09L509.76,452.76L509.77,453.63L509.77,454.49L509.78,455.36L509.80,456.23L509.81,457.10 M533.24,283.40L533.41,283.90L533.54,284.27L533.84,285.14L534.14,286.01L534.32,286.55L534.43,286.87L534.72,287.74L535.00,288.61L535.23,289.31L535.28,289.48L535.56,290.35L535.83,291.22L536.10,292.08L536.14,292.21L536.37,292.95L536.63,293.82L536.89,294.69L537.05,295.25L537.14,295.56L537.39,296.43L537.63,297.30L537.88,298.16L537.96,298.46L538.12,299.03L538.35,299.90L538.58,300.77L538.81,301.64L538.87,301.88L539.03,302.51L539.25,303.38L539.47,304.24L539.68,305.11L539.78,305.54L539.89,305.98L540.09,306.85L540.29,307.72L540.49,308.59L540.68,309.45L540.69,309.48L540.87,310.32L541.06,311.19L541.24,312.06L541.42,312.93L541.60,313.79L541.60,313.80L541.77,314.67L541.94,315.53L542.11,316.40L542.27,317.27L542.43,318.14L542.51,318.55L542.59,319.01L542.74,319.88L542.89,320.75L543.04,321.61L543.19,322.48L543.33,323.35L543.42,323.93L543.47,324.22L543.60,325.09L543.73,325.96L543.86,326.83L543.99,327.69L544.11,328.56L544.23,329.43L544.33,330.16L544.35,330.30L544.46,331.17L544.57,332.04L544.68,332.90L544.79,333.77L544.89,334.64L544.99,335.51L545.09,336.38L545.19,337.25L545.24,337.73L545.28,338.12L545.37,338.98L545.46,339.85L545.55,340.72L545.63,341.59L545.71,342.46L545.79,343.33L545.86,344.19L545.94,345.06L546.01,345.93L546.08,346.80L546.15,347.67L546.15,347.71L546.21,348.54L546.27,349.41L546.34,350.27L546.39,351.14L546.45,352.01L546.51,352.88L546.56,353.75L546.61,354.62L546.66,355.49L546.70,356.35L546.75,357.22L546.79,358.09L546.83,358.96L546.87,359.83L546.91,360.70L546.95,361.56L546.98,362.43L547.02,363.30L547.05,364.17L547.06,364.54L547.08,365.04L547.11,365.91L547.13,366.78L547.16,367.64L547.18,368.51L547.20,369.38L547.22,370.25L547.24,371.12L547.26,371.99L547.28,372.86L547.29,373.72L547.31,374.59L547.32,375.46L547.33,376.33L547.34,377.20L547.35,378.07L547.36,378.94L547.37,379.80L547.38,380.67L547.38,381.54L547.39,382.41L547.39,383.28L547.39,384.15L547.40,385.01L547.40,385.88L547.40,386.75L547.40,387.62L547.40,388.49L547.39,389.36L547.39,390.23L547.39,391.09L547.38,391.96L547.38,392.83L547.37,393.70L547.37,394.57L547.36,395.44L547.35,396.31L547.35,397.17L547.34,398.04L547.33,398.91L547.32,399.78L547.31,400.65L547.31,401.52L547.30,402.38L547.29,403.25L547.28,404.12L547.27,404.99L547.26,405.86L547.25,406.73L547.24,407.60L547.23,408.46L547.22,409.33L547.21,410.20L547.20,411.07L547.19,411.94L547.18,412.81L547.17,413.68L547.16,414.54L547.15,415.41L547.14,416.28L547.13,417.15L547.12,418.02L547.11,418.89L547.10,419.75L547.10,420.62L547.09,421.49L547.08,422.36L547.08,423.23L547.07,424.10L547.07,424.97L547.06,425.83L547.06,426.63L547.06,426.70L547.06,427.57L547.05,428.44L547.05,429.31L547.05,430.18L547.05,431.05L547.06,431.91L547.06,432.78L547.06,433.31L547.06,433.65L547.07,434.52L547.07,435.39L547.08,436.26L547.09,437.12L547.09,437.99L547.11,438.86L547.12,439.73L547.13,440.60L547.14,441.47L547.16,442.34L547.18,443.20L547.20,444.07L547.22,444.94L547.24,445.81L547.26,446.68L547.29,447.55L547.32,448.42L547.34,449.28L547.38,450.15L547.41,451.02L547.44,451.89L547.48,452.76L547.52,453.63L547.56,454.49L547.61,455.36L547.65,456.23L547.70,457.10 M573.46,283.40L573.64,284.27L573.81,285.14L573.98,286.01L574.15,286.87L574.31,287.74L574.36,288.00L574.47,288.61L574.63,289.48L574.78,290.35L574.93,291.22L575.08,292.08L575.22,292.95L575.27,293.23L575.37,293.82L575.50,294.69L575.64,295.56L575.77,296.43L575.90,297.30L576.03,298.16L576.15,299.03L576.18,299.24L576.27,299.90L576.39,300.77L576.50,301.64L576.62,302.51L576.73,303.38L576.83,304.24L576.94,305.11L577.04,305.98L577.09,306.45L577.13,306.85L577.23,307.72L577.32,308.59L577.41,309.45L577.50,310.32L577.59,311.19L577.67,312.06L577.75,312.93L577.82,313.80L577.90,314.67L577.97,315.53L578.00,315.88L578.04,316.40L578.11,317.27L578.17,318.14L578.24,319.01L578.30,319.88L578.35,320.75L578.41,321.61L578.46,322.48L578.52,323.35L578.56,324.22L578.61,325.09L578.66,325.96L578.70,326.83L578.74,327.69L578.78,328.56L578.81,329.43L578.85,330.30L578.88,331.17L578.91,331.96L578.91,332.04L578.94,332.90L578.97,333.77L578.99,334.64L579.02,335.51L579.04,336.38L579.06,337.25L579.08,338.12L579.09,338.98L579.11,339.85L579.12,340.72L579.13,341.59L579.14,342.46L579.15,343.33L579.15,344.19L579.16,345.06L579.16,345.93L579.17,346.80L579.17,347.67L579.17,348.54L579.16,349.41L579.16,350.27L579.16,351.14L579.15,352.01L579.14,352.88L579.14,353.75L579.13,354.62L579.12,355.49L579.10,356.35L579.09,357.22L579.08,358.09L579.06,358.96L579.05,359.83L579.03,360.70L579.01,361.56L578.99,362.43L578.97,363.30L578.95,364.17L578.93,365.04L578.91,365.91L578.91,365.95L578.89,366.78L578.86,367.64L578.84,368.51L578.82,369.38L578.79,370.25L578.76,371.12L578.74,371.99L578.71,372.86L578.68,373.72L578.65,374.59L578.63,375.46L578.60,376.33L578.57,377.20L578.54,378.07L578.51,378.94L578.48,379.80L578.45,380.67L578.41,381.54L578.38,382.41L578.35,383.28L578.32,384.15L578.29,385.01L578.26,385.88L578.23,386.75L578.19,387.62L578.16,388.49L578.13,389.36L578.10,390.23L578.07,391.09L578.03,391.96L578.00,392.83L578.00,392.92L577.97,393.70L577.94,394.57L577.91,395.44L577.88,396.31L577.85,397.17L577.82,398.04L577.79,398.91L577.76,399.78L577.73,400.65L577.70,401.52L577.68,402.38L577.65,403.25L577.62,404.12L577.60,404.99L577.57,405.86L577.55,406.73L577.52,407.60L577.50,408.46L577.48,409.33L577.46,410.20L577.43,411.07L577.41,411.94L577.40,412.81L577.38,413.68L577.36,414.54L577.35,415.41L577.33,416.28L577.32,417.15L577.30,418.02L577.29,418.89L577.28,419.75L577.28,420.62L577.27,421.49L577.26,422.36L577.26,423.23L577.25,424.10L577.25,424.97L577.25,425.83L577.25,426.70L577.26,427.57L577.26,428.44L577.27,429.31L577.28,430.18L577.29,431.05L577.30,431.91L577.31,432.78L577.33,433.65L577.35,434.52L577.37,435.39L577.39,436.26L577.42,437.12L577.44,437.99L577.47,438.86L577.50,439.73L577.54,440.60L577.57,441.47L577.61,442.34L577.65,443.20L577.70,444.07L577.74,444.94L577.79,445.81L577.85,446.68L577.90,447.55L577.96,448.42L578.00,448.99L578.02,449.28L578.09,450.15L578.15,451.02L578.22,451.89L578.30,452.76L578.38,453.63L578.46,454.49L578.54,455.36L578.63,456.23L578.72,457.10" fill="none" stroke="#262626" stroke-opacity="0.9" stroke-width="1.6" mask="url(#dcm)"/></g>
<g clip-path="url(#dc)">
<text transform="translate(482.60,383.20) scale(1,1.03)" class="cl">0.130</text>
<text transform="translate(522.00,345.70) scale(1,1.03)" class="cl">0.260</text>
<text transform="translate(554.00,314.40) scale(1,1.03)" class="cl">0.390</text>
</g>
<rect x="423.3" y="283.4" width="181.99999999999994" height="173.70000000000005" fill="none" stroke="#1e1e1e" stroke-width="1.3"/>
<path d="M423.30,457.10v2.4 M423.30,457.10h-2.4 M514.30,457.10v2.4 M423.30,370.25h-2.4 M605.30,457.10v2.4 M423.30,283.40h-2.4" stroke="#1e1e1e" stroke-width="1.1" fill="none"/>
<text transform="translate(423.30,480.80) scale(1,1.03)" text-anchor="middle" class="tk">0.0</text>
<text transform="translate(419.70,464.00) scale(1,1.05)" text-anchor="end" class="tk">0.0</text>
<text transform="translate(514.30,480.80) scale(1,1.03)" text-anchor="middle" class="tk">0.1</text>
<text transform="translate(419.70,377.15) scale(1,1.05)" text-anchor="end" class="tk">0.1</text>
<text transform="translate(605.30,480.80) scale(1,1.03)" text-anchor="middle" class="tk">0.2</text>
<text transform="translate(419.70,290.30) scale(1,1.05)" text-anchor="end" class="tk">0.2</text>
<text transform="translate(513.30,511.7) scale(1,1.03)" text-anchor="middle" class="tk"><tspan font-style="italic">δr</tspan><tspan font-size="15" dx="2.4" dy="4">1</tspan></text>
<text transform="translate(381.80,370.25) rotate(-90)" text-anchor="middle" class="tk"><tspan font-style="italic">δr</tspan><tspan font-size="15" dx="2.4" dy="4">2</tspan></text>
<text x="427.8" y="445" class="pl">(d)</text>
<defs><linearGradient id="cbd" x1="0" y1="0" x2="0" y2="1"><stop offset="0.000" stop-color="#1f286e"/><stop offset="0.025" stop-color="#242872"/><stop offset="0.050" stop-color="#2a2675"/><stop offset="0.075" stop-color="#2f2578"/><stop offset="0.100" stop-color="#35247b"/><stop offset="0.125" stop-color="#3b237f"/><stop offset="0.150" stop-color="#422285"/><stop offset="0.175" stop-color="#4c228c"/><stop offset="0.200" stop-color="#552192"/><stop offset="0.225" stop-color="#5d1f98"/><stop offset="0.250" stop-color="#691f9e"/><stop offset="0.275" stop-color="#72209f"/><stop offset="0.300" stop-color="#7b1f9e"/><stop offset="0.325" stop-color="#851f9c"/><stop offset="0.350" stop-color="#902198"/><stop offset="0.375" stop-color="#9b2294"/><stop offset="0.400" stop-color="#a5248f"/><stop offset="0.425" stop-color="#b0248a"/><stop offset="0.450" stop-color="#bc2e85"/><stop offset="0.475" stop-color="#c4387d"/><stop offset="0.500" stop-color="#c94078"/><stop offset="0.525" stop-color="#ce4a70"/><stop offset="0.550" stop-color="#d3526a"/><stop offset="0.575" stop-color="#d65a65"/><stop offset="0.600" stop-color="#db625f"/><stop offset="0.625" stop-color="#df695b"/><stop offset="0.650" stop-color="#e07257"/><stop offset="0.675" stop-color="#df7952"/><stop offset="0.700" stop-color="#dd804e"/><stop offset="0.725" stop-color="#de884a"/><stop offset="0.750" stop-color="#e09048"/><stop offset="0.775" stop-color="#df9846"/><stop offset="0.800" stop-color="#df9f45"/><stop offset="0.825" stop-color="#e0a842"/><stop offset="0.850" stop-color="#e2b03c"/><stop offset="0.875" stop-color="#e1b739"/><stop offset="0.900" stop-color="#dfbf3b"/><stop offset="0.925" stop-color="#e1c93c"/><stop offset="0.950" stop-color="#e1d03b"/><stop offset="0.975" stop-color="#ded336"/><stop offset="1.000" stop-color="#ddd331"/></linearGradient></defs>
<rect x="632.5" y="283.4" width="8.200000000000045" height="173.70000000000005" fill="url(#cbd)" stroke="#1e1e1e" stroke-width="1.2"/>
<text transform="translate(651.70,291.70) scale(1,1.03)" class="tk">0.52</text>
<text transform="translate(651.70,349.60) scale(1,1.03)" class="tk">0.35</text>
<text transform="translate(651.70,407.50) scale(1,1.03)" class="tk">0.17</text>
<text transform="translate(651.70,465.40) scale(1,1.03)" class="tk">0.00</text>
<path d="M640.70,283.40h2 M640.70,341.30h2 M640.70,399.20h2 M640.70,457.10h2" stroke="#1e1e1e" stroke-width="1" fill="none"/>
<text transform="translate(605.8,268.8) scale(1.0,1)" class="tk" style="font-style:italic">g</text>
<text transform="translate(618.0,261.0)" class="tk" style="font-size:16px">(2)</text>
<text transform="translate(640.6,270.2) scale(0.93,1.03)" class="tk" style="font-size:25px">(0)</text>
</svg></body></html>
